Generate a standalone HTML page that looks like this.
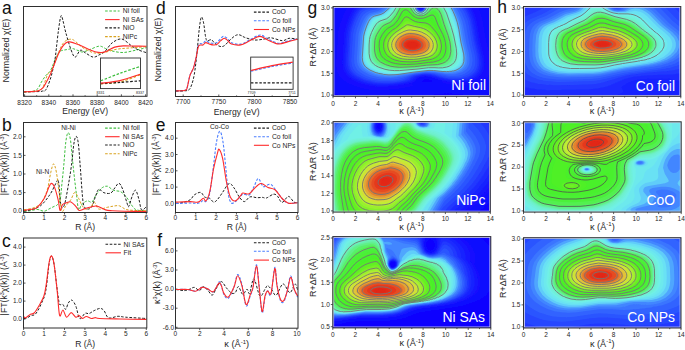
<!DOCTYPE html><html><head><meta charset="utf-8"><title>Figure</title><style>html,body{margin:0;padding:0;background:#fff;}body{width:685px;height:350px;overflow:hidden;font-family:"Liberation Sans",sans-serif;}svg{display:block;}</style></head><body><svg xmlns="http://www.w3.org/2000/svg" width="685" height="350" viewBox="0 0 685 350" font-family='"Liberation Sans", sans-serif'><defs><filter id="hblur" x="-5%" y="-5%" width="110%" height="110%"><feGaussianBlur stdDeviation="0.6"/></filter></defs><rect width="685" height="350" fill="#ffffff"/><clipPath id="clip0"><rect x="333" y="6.5" width="157.3" height="89.8"/></clipPath>
<g clip-path="url(#clip0)">
<g filter="url(#hblur)">
<rect x="331" y="4.5" width="161.3" height="93.8" fill="#0c00ff"/>
<path d="M492 98 331 98 331 4.5 492 4.5 492 98Z" fill="#0e06ff" fill-rule="evenodd"/>
<path d="M404 98 346.9 98 346.5 97.5 341 96.1 340.5 95.6 334 93.1 333.6 92.5 331 91.3 331 4.5 492 4.5 492 93 490.5 93.6 490 93.5 489.5 94 489 93.9 486 94.6 484.5 94.4 484 95 477.5 95 476 95.4 467.5 94.9 466.5 94.5 463 94.5 461.5 94 459 94.1 454.5 93.5 448 93.2 440.5 93.5 427 95.5 404 98ZM421.6 7.5 421.7 6.5 421.3 6 420.5 5.9 420 6.2 420 7.6 421 8 421.6 7.5ZM428.8 82.5 431.5 81.8 432.7 81 430 79.5 426.5 78.9 424 79.2 422.4 80.5 422.2 82.5 422.5 82.6 428.8 82.5Z" fill="#0f0aff" fill-rule="evenodd"/>
<path d="M385 95.5 374 95.9 367 95.6 357 94 351.5 92.5 344.5 90 344 89.4 341.3 88.5 341 88 340.5 88 335.5 84.9 331 80.3 331 22.3 334.4 12.5 338.1 4.5 487.1 4.5 489.8 12 492 21.9 492 85.2 488.5 87.2 487.3 87.5 487 88 485 88.6 478 90.2 475.5 90.1 474 90.6 462.5 90.2 450 88.9 440.5 88.7 385 95.5ZM421.5 8.5 422.4 7.5 422.4 6.5 421.9 5.5 420.5 5 419.2 6 419.1 7.5 420 8.5 421.5 8.5ZM430.3 84 435 82.5 436.8 81 431 78.5 427.5 77.8 424.5 77.8 422.5 78.2 420.1 79.5 417.6 83 419.5 83.7 423 84.2 430.3 84Z" fill="#100dff" fill-rule="evenodd"/>
<path d="M384 90.5 377.5 90.6 369 90 361.5 88.6 355 86.6 348 83.5 344 81 339.7 77 337.3 73 336.1 68.5 335.7 63.5 338 31 340 23 343.1 14.5 345.9 8.5 348.8 4.5 420.1 4.5 418.9 5.5 418.5 7 419.2 8.5 421 9.2 422.3 8.5 423 7 422.6 5.5 421.3 4.5 477.2 4.5 480.3 11 482.5 18 486.5 41 490.2 56 491 61 491.3 67 490.4 72 488 77 486.2 79 483 81.5 480 83.1 476 84.5 474.5 84.5 473 85.2 470.5 85.5 460 85.7 446.5 84.2 442.5 82.8 441.6 82 441.5 81 437.5 80 433 78.2 428 77 423.5 76.9 419.5 78 415.5 82.1 412.7 83.5 412.3 84 413.3 85.5 412.4 86.5 409.5 87.3 399 89 384 90.5Z" fill="#1211ff" fill-rule="evenodd"/>
<path d="M384.5 86.5 375.5 86.2 370.5 85.6 364 84 358.5 82.2 354.5 80.5 349.7 77.5 346.2 74 344 70.1 343.1 67 342.7 62.5 344.6 33 346.2 26 349 18.1 351.5 12.5 354.2 8.5 358 5.5 360.5 4.5 419.1 4.5 418.2 6 418.4 8 419.5 9.2 421 9.6 422.5 8.9 423.3 7.5 423.3 6 422.4 4.5 469.1 4.5 472.8 11 475.5 18 476.9 24 479.9 42 483.2 55 483.9 59 484.2 65 483.5 69 481.9 73 479.5 76 476 78.6 472 80.4 463.5 82.1 462.5 81.8 460 82.2 459 81.9 457.5 82.2 451.5 81.5 451 81.7 445.5 81 438.8 79.5 429.5 76.4 426.5 76.1 423 76.2 418.1 77.5 414 81.1 410.5 82.9 399.5 85.1 384.5 86.5Z" fill="#1519ff" fill-rule="evenodd"/>
<path d="M384.5 85.5 378.5 85.4 371.5 84.6 366.5 83.6 359 81.1 352.5 77.7 349.5 75.3 347.1 72.5 345.5 69.5 344.7 66.5 344.3 61.5 346.3 32.5 347.9 26 350.6 18.5 353.1 13 355.5 9.3 359.5 6.3 365 4.5 418.5 4.5 417.8 6 418 8 419 9.4 420.5 9.9 422.3 9.5 423.5 8 423.7 6 423 4.5 467.3 4.5 471.6 12 474.3 19.5 475.5 24.5 478.3 41.5 482.2 58 482.5 64.5 481.9 68.5 480.5 72 478 75.2 475 77.6 470 79.8 464 81.1 459.5 81.3 452.5 81.1 447 80.3 442.1 79.5 430 75.8 423 75.6 417 77 411.5 81.1 407.5 82.6 396.5 84.6 384.5 85.5Z" fill="#1823ff" fill-rule="evenodd"/>
<path d="M383.5 84.5 376 84.2 369.5 83.2 364 81.7 359.5 79.9 355 77.7 352 75.5 349 72.5 346.9 68.5 346.2 65.5 345.9 60.5 347.3 37.5 348 32 349.7 25.5 352.9 17 355.2 12.5 358 9 362 6.7 370.2 4.5 418 4.5 417.4 6 417.6 8 418.7 9.5 420.5 10.3 422.5 9.7 423.7 8.5 424.1 6.5 423.5 4.5 465.4 4.5 470.6 13.5 473 20.5 476.6 41 480.4 57 480.9 64 480.3 68 478.8 71.5 476 75 472.5 77.4 468 79.2 463.5 80.1 458 80.5 446.5 79.5 430 75.2 422.5 75 416.1 76.5 414.1 77.5 410.2 80.5 404.5 82.4 393 84.1 383.5 84.5Z" fill="#1c2cff" fill-rule="evenodd"/>
<path d="M387 83.6 374.5 83 364.5 80.6 358.5 78 353 74.4 350.3 71.5 348.7 68.5 347.8 65 347.5 59.5 349.3 33.5 350.7 27.5 353.1 20.5 355.8 14.5 358.1 11 361 8.6 363.5 7.5 371 5.6 373.8 4.5 417.5 4.5 417 6.5 417.5 8.5 419 10.1 421 10.6 422.7 10 424 8.5 424.5 6.5 424 4.5 463.5 4.5 468.1 12 471.1 19.5 472.5 25.5 475.1 41 478.6 55.5 479.2 60.5 479 66 477.5 70.5 475.5 73.3 472.5 75.8 467.5 78.2 463 79.2 457.5 79.6 451.5 79.4 445.5 78.6 439 77 435 75.5 430.5 74.6 426.5 74.3 421.5 74.6 414.5 76.3 412 77.6 408.8 80 405.5 81.1 395.5 83 387 83.6Z" fill="#2038ff" fill-rule="evenodd"/>
<path d="M389.5 82.6 381 82.6 375.5 82.1 365 79.5 359 76.8 356 75 352.7 72 350.5 68.5 349.4 64.5 349.1 58.5 350.8 34 352 28.5 354.4 21.5 357 15.7 359.5 11.8 361.5 10 364 8.7 373.5 6.1 376.7 4.5 417.1 4.5 416.7 7 417.4 9 419 10.4 420.5 10.9 422.5 10.4 424.1 9 424.8 6.5 424.4 4.5 461.6 4.5 466.6 12.5 469.5 19.5 471.3 27.5 473.7 41.5 476.6 53.5 477.5 59.5 477.5 64.5 476.7 68 474.9 71.5 472 74.4 468.5 76.4 463.5 78 459.5 78.6 452.5 78.7 448 78.2 444 77.5 433.5 74.4 428.5 73.8 424.5 73.8 418.6 74.5 414.4 75.5 410.8 77 406 79.8 402.5 80.9 396 82 389.5 82.6Z" fill="#2647ff" fill-rule="evenodd"/>
<path d="M392.5 81.1 379.5 81.1 373.5 80.1 368 78.7 363 76.7 357.5 73.5 354.8 71 352.9 68 351.8 65 351.3 60.5 353 34.5 354.1 29.5 356.2 23 358.8 17 361 13.4 362.5 11.9 365 10.2 374.9 7.5 380.2 4.5 416.7 4.5 416.4 6.5 417.1 9 418.5 10.5 420.5 11.2 422.9 10.5 424.4 9 425.1 7 424.8 4.5 459.4 4.5 464.5 13 467.6 20.5 468.9 26 472.3 45.5 474.8 55.5 475.3 62 475 65 473.9 68.5 472.3 71 470 73.3 468 74.6 463 76.6 460 77.2 456.5 77.5 450 77.3 443 76 433.5 73.7 429.5 73.2 424.5 73.3 414.5 74.8 411.5 75.6 402.5 79.4 398.5 80.4 392.5 81.1Z" fill="#2c55ff" fill-rule="evenodd"/>
<path d="M392.5 79.5 382.5 79.6 376.5 78.8 370 77.2 365.5 75.4 360.5 72.6 357.6 70 355.4 66.5 354.4 63 354.1 58 355.7 34.5 356.9 29.5 359.4 22.5 361.6 17.5 363.5 14.7 367 11.9 370.5 10.6 376.5 9.2 379.9 7.5 384.2 4.5 416.3 4.5 416.1 7 416.8 9 418.5 10.8 420.5 11.4 422.6 11 424.5 9.3 425.4 7 425.2 4.5 456.6 4.5 462.1 14 464.9 21 466.1 25.5 469 43 472 55.1 472.5 60 472.1 64.5 470.8 68 469 70.5 465 73.6 461.5 74.9 457 75.8 449.5 75.9 433.5 73 425.5 72.7 415 74.1 408.5 75.7 402 78 397 79.1 392.5 79.5Z" fill="#3264ff" fill-rule="evenodd"/>
<path d="M391 78 380 77.5 373.5 76.1 369.5 74.7 362.6 71 359.5 68 357.9 65 357.1 62 356.9 58 358.5 34.5 359.8 29.5 362 23.3 364 18.9 366 15.9 368 14.2 370 13.1 378 11 380.2 10 387.6 4.5 415.9 4.5 415.9 7.5 416.8 9.5 418.5 11.1 420.5 11.7 423 11.1 424.7 9.5 425.7 7 425.5 4.5 454.2 4.5 459 13 462.3 21.5 463.9 28.5 466.4 43.5 469 53.7 469.6 59.5 469.4 63 468.5 66 466.5 69.1 462.5 72.1 455.5 74.3 451 74.6 446.5 74.3 435.5 72.5 426.5 72.1 416 73.3 401 76.8 391 78Z" fill="#3a75ff" fill-rule="evenodd"/>
<path d="M396 76.5 390 76.9 385 76.7 378 75.7 374 74.7 371 73.6 365.5 70.9 362.1 68 360.2 65 359.2 62 358.9 58 360.3 36 361.4 31 363.3 25.5 365.4 20.5 367.5 17.2 369.5 15.3 372 14.1 379.5 12.1 381.7 11 387.8 6.5 389.9 4.5 415.6 4.5 415.6 7.5 416.5 9.6 418.5 11.4 421 11.9 423.5 11.1 425 9.5 425.9 7.5 425.9 4.5 452.1 4.5 458.2 16 460.3 21.5 461.6 26.5 463.8 40 466.8 53 467.5 58 467.1 63.5 466.1 66 464.7 68 461.5 70.8 459.5 71.7 452.5 73.4 446.5 73.4 433.5 71.7 426 71.6 414.5 72.9 396 76.5Z" fill="#4286ff" fill-rule="evenodd"/>
<path d="M395.5 75.5 385.5 75.6 376 73.9 370 71.6 367 69.8 364 67.4 361.8 64 361 61 360.7 57.5 362.2 36 363.3 31 365.2 25.5 367.2 21 369 18.2 371 16.3 372.5 15.5 380.5 13.3 383 12 387.4 8.5 391.5 4.5 415.2 4.5 415.3 7 416.2 9.5 418 11.4 420.5 12.2 423 11.6 425 10 426.2 7.5 426.3 4.5 450.3 4.5 453 8.8 456 15 458.4 21 459.7 26 462.3 41.5 464.6 51 465.5 56.5 465.3 62 464.8 64 463.5 66.5 462 68.2 459 70.2 455 71.8 452 72.2 446.5 72.5 433.5 71 426 70.9 413.1 72.5 395.5 75.5Z" fill="#50a6fe" fill-rule="evenodd"/>
<path d="M395 74.6 389 74.7 384 74.3 376 72.5 371.5 70.7 368 68.6 366 66.9 363.8 64 362.8 61 362.4 57.5 363.8 36.5 366.3 27.5 368.4 22.5 370.2 19.5 371.6 18 374.5 16.3 381.2 14.5 384.1 13 389.5 8.2 392.7 4.5 414.9 4.5 415.1 7.5 416.2 10 418 11.7 420.5 12.4 423 11.9 425.3 10 426.5 7.5 426.6 4.5 448.9 4.5 451.5 8.6 454.5 15 456.5 20.6 458.2 27 460.5 41 463.7 55.5 463.6 61 463.2 63 462 65.5 460 67.7 457 69.6 453.5 70.8 449 71.6 443 71.5 433.5 70.4 427.5 70.4 395 74.6Z" fill="#61cdf9" fill-rule="evenodd"/>
<path d="M395 74 389 74 384 73.6 376 71.6 369 68 366 65.1 364.7 63 363.8 60 363.5 55.5 364.8 36.5 365.7 32.5 367.5 27.4 369.7 22.5 371.5 19.8 374.5 17.4 382.5 15 385.1 13.5 389.8 9.5 393.7 4.5 414.5 4.5 414.9 8 416 10.2 418 12 420.5 12.7 423 12.2 425.2 10.5 426.8 7.5 427 4.5 447.6 4.5 450 8.3 452.2 13 455.7 22 457.7 29.5 459.9 42.5 462.2 52.5 462.7 57.5 462 62.5 460 65.9 458 67.7 455 69.4 449 70.9 443.5 71 435 70.1 427.5 70 395 74Z" fill="#69e1f4" fill-rule="evenodd"/>
<path d="M400 73.1 389 73.4 383.5 72.7 378.5 71.4 374 69.7 370.9 68 367.5 65.2 366.3 63.5 365.1 60.5 364.6 57 365.4 38.5 366.2 34.5 367.5 30.3 371.5 21.8 373 19.9 376 17.8 383 15.9 386.5 13.7 391.6 9 394.5 4.5 414.1 4.5 414.6 8 416 10.6 418.5 12.5 421 12.9 423.5 12.2 425.5 10.5 426.9 8 427.4 4.5 446.3 4.5 449.1 9 451.6 14.5 454.5 22 456.4 28.5 461.5 55 461.4 60 459.9 64 458 66.2 455 68.3 452.5 69.4 449 70.1 444 70.5 433 69.6 427.5 69.6 400 73.1Z" fill="#6de9ed" fill-rule="evenodd"/>
<path d="M399.5 72.5 389 72.7 383 71.8 378 70.4 374 68.6 371 66.8 368.5 64.5 366.9 62 365.9 58.5 365.6 55 366.4 38 368.5 30.5 372.5 22.3 374 20.5 376 19 383.8 16.5 386.5 14.9 392.5 9.1 395.4 4.5 413.7 4.5 414.3 8 415.6 10.5 417.9 12.5 420.5 13.2 423 12.7 425.5 10.9 427.2 8 427.8 4.5 445 4.5 447.4 8 450.1 13.5 453.8 23 455.8 30 460.4 53.5 460.5 57 460.1 60 458.5 63.9 457.5 65.2 454 67.8 451 68.9 447.5 69.6 444.5 69.9 428 69.3 399.5 72.5Z" fill="#70f0e6" fill-rule="evenodd"/>
<path d="M399.5 72 389 72 381 70.5 373.5 67.2 370.5 65 368.2 62 367 58.5 366.6 54 367.3 38.5 369.2 31.5 373.5 22.9 376.5 19.9 378.5 18.9 384.9 17 387.2 15.5 392.6 10 396.1 4.5 413.3 4.5 414 8 415.5 10.8 417.5 12.6 420.5 13.4 423.5 12.8 425.8 11 427.5 8 428.3 4.5 443.8 4.5 446.7 8.5 448.9 13 453.2 24.5 455.2 31.5 459.3 52.5 459.2 58.5 458.6 61 457.5 63.1 455.5 65.5 454 66.5 451 67.9 447.5 68.9 444.5 69.2 428 68.8 399.5 72Z" fill="#6ff0dc" fill-rule="evenodd"/>
<path d="M398 71.5 389 71.3 380.5 69.4 377 68 373 65.7 371.5 64.5 369.2 61.5 368.1 58.5 367.6 55 368.1 39 369.8 32.5 374.1 24 375.5 22.2 377.5 20.5 385.5 17.7 388 16 393 10.7 396.9 4.5 412.9 4.5 413.7 8 415.3 11 417.5 12.9 420.5 13.7 423.5 13 426 11.1 427.9 8 428.7 4.5 442.6 4.5 445.4 8 448 13 452.3 25 454.4 32.5 457.8 49 458.4 54 457.9 59 456.2 63 454.5 64.8 451.5 66.8 445.5 68.5 428 68.4 398 71.5Z" fill="#6ff0d3" fill-rule="evenodd"/>
<path d="M396.5 71 387 70.3 379 67.9 376 66.5 372.5 63.9 369.8 60 368.7 56 368.5 52 369 39 371 32.2 375.1 24.5 378 21.5 380.5 20.1 386 18.4 388.5 16.7 393.5 11.1 397.6 4.5 412.5 4.5 413.6 8.5 415.4 11.5 418 13.4 420.5 13.9 423.5 13.3 426 11.5 428.2 8 429.3 4.5 441.4 4.5 444.4 8 447 13 451.8 26.5 454 34.5 456.5 47 457.3 53 456.8 58.5 455 62.6 452 65.4 448.5 67 446 67.7 441 68.1 428 68 417.5 69.3 396.5 71Z" fill="#6ef0c9" fill-rule="evenodd"/>
<path d="M405 70 396.5 70.5 387.5 69.7 382.5 68.3 378 66.5 374.8 64.5 371.8 61.5 370.5 58.9 369.6 55 369.6 42.5 370.8 35.5 373.9 28.5 376.4 24.5 378.9 22 386.8 19 389.5 16.9 394 11.6 398.3 4.5 412.1 4.5 413.3 8.5 415.1 11.5 417.5 13.5 420.5 14.2 423.5 13.6 426.4 11.5 428.1 9 429.9 4.5 440.2 4.5 443.5 8 445.9 12.5 450.7 26.5 453.2 35 455.3 45 456.3 52 456 57.5 454.5 61.3 453.2 63 451 64.9 447 66.6 443.5 67.4 428.5 67.6 405 70Z" fill="#6bf0bb" fill-rule="evenodd"/>
<path d="M405 69.6 394 69.9 388 69.1 380 66.6 376.3 64.5 373 61.5 371.6 59 370.6 55.5 370.2 45 371.1 37.5 374.1 30 376.8 25.5 379 23.1 381 21.9 387.4 19.5 390 17.5 394.1 12.5 398.9 4.5 411.6 4.5 413.2 9 415 11.8 417.5 13.8 420.5 14.5 423.5 13.9 426.3 12 428.5 9 430.6 4.5 438.9 4.5 442.1 7.5 444.8 12 452.3 34.5 454.6 45 455.4 51.5 455.2 56 454 60.1 452 62.9 450 64.5 445 66.5 437.5 67.3 426.5 67.3 417.5 68.6 405 69.6Z" fill="#68f0ac" fill-rule="evenodd"/>
<path d="M406.5 69 395 69.4 386.2 68 378.5 64.9 374.2 61.5 372.7 59 371.8 56.5 371 49 371.6 39 373.8 32.5 377.5 26.1 379.9 23.5 382.5 22 388 20 391.5 17 394.5 13.1 399.6 4.5 411 4.5 412.8 9 414.8 12 417.5 14.1 420.5 14.7 423.5 14.2 426.5 12.2 428.3 10 431.5 4.5 437.3 4.5 441 7.4 443.9 12 451.3 34 453.1 41.5 454.4 49.5 454.3 55.5 453.1 59.5 451 62.5 449 64.1 446 65.5 442.5 66.3 437 66.8 427 66.9 418.5 68.1 406.5 69Z" fill="#65f09d" fill-rule="evenodd"/>
<path d="M407.5 68.5 397.5 68.9 389.5 68.1 382.5 66 375.9 62 373.2 58 372.4 55 371.9 51.5 372.1 41 372.9 37 374 34 377 28.5 380.2 24.5 382.5 23 388.5 20.6 391.5 18 394.6 14 398.9 6.5 400.4 4.5 410.4 4.5 413 10 415 12.7 417.5 14.4 420.5 15 423.4 14.5 426 13 428.3 10.5 431 6.2 432.5 4.8 434.5 4.5 437 5.3 440.5 8 443 12 450.6 34.5 452.1 40.5 453.6 49 453.5 54.5 452.3 59 449.5 62.6 447.5 64 443.5 65.5 438 66.2 427 66.5 417.5 67.8 407.5 68.5Z" fill="#60f087" fill-rule="evenodd"/>
<path d="M409.5 67.5 400 67.9 390.5 67 383 64.6 380 62.9 377.6 61 375.9 59 375 57.3 374 54 373.5 50.5 373.7 41 374.3 38 375.6 34.5 378.1 30 381.8 25.5 383.9 24 389.5 21.7 392 19.5 395.8 14.5 400 6.8 402.2 4.5 408.8 4.5 414.5 13 417 14.8 420 15.5 423 15.2 426 13.7 432.5 6.8 434.5 6.4 436.5 6.9 439.5 9.4 441.7 13 449.8 37.5 451.3 44 451.9 50 451.6 54.5 450.5 58 449.3 60 447.5 61.8 445 63.3 442 64.5 437 65.3 428.5 65.5 418 66.9 409.5 67.5Z" fill="#59f069" fill-rule="evenodd"/>
<path d="M412.5 66.5 399 66.9 391.5 66 384.1 63.5 380 60.9 378.1 59 376.9 57 375.9 54.5 375.2 51 375.1 42.5 376.5 36.5 379.4 31 382.6 27 384.5 25.5 390.5 22.7 392.5 20.9 396.5 15.5 400.5 8 403.5 5.3 406 4.8 408 5.5 409.5 7 412.8 12 414.5 13.9 417 15.5 419.5 16.1 422 16 425 15.1 427.4 13.5 432.5 8.7 434 8.3 435.5 8.5 438 10.3 440 13.5 443.3 24 448.7 39 449.9 45 450.3 49 450.1 53 449.2 56.5 447 60 444.4 62 441 63.5 435 64.5 426.5 64.9 412.5 66.5Z" fill="#52f050" fill-rule="evenodd"/>
<path d="M407 66 397.5 65.9 392.5 65.1 385 62.5 382 60.7 380.2 59 378.6 57 377.4 54 376.3 47 376.8 40.5 379 34.5 383.7 28 385.5 26.5 391.5 23.5 393.8 21.5 396.9 17 401 9.3 402.5 7.6 404 6.6 406 6.4 407.7 7 414.1 14.5 416.5 16 419 16.7 422 16.7 424.5 16.1 427 14.8 432.5 10.6 434 10.4 435.5 10.8 437.3 12.5 438.8 15 441.7 25 445.6 34 447.5 39.5 448.6 45 448.8 49.5 448.5 53 447.3 56.5 446.1 58.5 444 60.5 441.5 62 438 63.1 416.5 65.5 407 66Z" fill="#4cf03b" fill-rule="evenodd"/>
<path d="M413 65 399 65.1 393.5 64.2 387.5 62.3 383.5 60 381 57.7 379.2 54.5 378 49.5 377.7 45 378.2 40.5 379.6 36.5 381.3 33.5 383.9 30 386.4 27.5 391.5 25 393.5 23.5 397.1 19 401.6 10.5 403 9 405 8 407.5 8.6 413.5 15 416 16.6 418.5 17.4 421.5 17.5 424.5 16.9 432.5 12.6 434 12.6 435.4 13.5 437.1 16 439.9 25 444.9 36 446.2 40 447.2 45 447.4 50 446.6 54 445.2 57 442 60.2 439.5 61.5 435 62.7 413 65Z" fill="#4bf035" fill-rule="evenodd"/>
<path d="M416.5 64 401 64.3 392 62.7 386.5 60.4 383.8 58.5 381.3 55.5 379.7 51 379.1 46.5 379.3 42 380.2 38.5 382.3 34.5 385 30.9 387.4 28.5 393 25.4 395 23.6 398.2 19.5 402 12.1 403.5 10.5 405 9.8 406.5 9.9 407.8 10.5 413 15.7 415.5 17.3 417.5 18.1 420 18.4 423 18.2 432 15 434 15.7 435.2 17.5 438 25 442.8 34.5 445.4 42.5 446 48 445.5 52 444 55.9 441.5 58.8 438.7 60.5 433.5 62 416.5 64Z" fill="#49f02f" fill-rule="evenodd"/>
<path d="M413.5 63.5 405 63.7 400 63.4 395 62.5 389.5 60.6 386 58.6 383.4 56 381.8 53 380.6 48.5 380.4 44.5 380.9 41 381.9 38 383.9 34.5 388 29.7 393.5 26.4 395.5 24.7 399.3 20 402.7 13.5 404 12.2 405.5 11.6 407.5 12.1 413.5 17.3 417.5 19.1 420 19.4 423 19.3 429.5 17.8 431.5 18 432.5 18.6 433.6 20 442 36 443.6 40.5 444.4 44 444.6 49 443.7 53 442 56.2 439 59 437 60 433 61.2 413.5 63.5Z" fill="#48f029" fill-rule="evenodd"/>
<path d="M417 62.5 403.5 62.8 399.5 62.4 393 60.8 389 59 386 56.8 383.5 53.5 382.3 50 381.8 46 381.9 42.5 382.9 39 384.5 36 389.1 30.5 394.5 27.1 396.4 25.5 399.7 21.5 403.5 15 405.5 13.7 407.5 14.1 413 18.3 416 19.9 420.5 20.6 428.5 20.2 430.6 21 432.4 23 439 33.2 441.2 37.5 442.7 42 443.3 46.5 442.9 50.5 441.7 54 439.4 57 436.3 59 432 60.4 417 62.5Z" fill="#50f027" fill-rule="evenodd"/>
<path d="M414 62 406.5 62.1 400.5 61.6 397 61 392.5 59.5 389.5 57.9 386.5 55.5 384.6 52.5 383.4 48.5 383.1 45 383.4 42 384.1 39.5 385.7 36.5 390.4 31 397 26.5 400.5 22.5 404 17.2 406 16.1 408 16.5 413.1 20 416 21.3 419.5 21.9 426.5 22.4 429.2 23.5 433.5 28 438.2 34.5 440.6 39.5 441.7 43.5 441.8 48.5 440.8 52.5 438.5 56 435.8 58 432.5 59.3 429.5 60 414 62Z" fill="#5af025" fill-rule="evenodd"/>
<path d="M417.5 61 406 61.3 401.5 60.9 395.5 59.5 392 58 388.4 55.5 386.1 52.5 384.9 49.5 384.4 46 384.6 42.5 385.3 40 387 36.7 391.7 31.5 396 28.8 398.1 27 401.5 23.5 404.4 19.5 406 18.5 408 18.7 415 22.5 425 24.2 428.5 25.9 431.5 28.4 436 33.7 438 36.8 440 41.5 440.6 45.5 440.3 49.5 439 53 437 55.6 434.2 57.5 431.5 58.6 417.5 61Z" fill="#64f024" fill-rule="evenodd"/>
<path d="M415 60.5 404 60.4 400.5 59.9 395.5 58.5 392.3 57 389.5 55 387 51.5 385.9 48 385.6 45 386 42 387.1 39 389 36 392 32.7 398.2 28.5 405 21.8 406.5 21 408.5 21.2 415 24.1 424 25.9 427.5 27.5 431.5 30.6 435.4 35 437.8 39 439 42.5 439.4 46.5 438.8 50 437.5 52.9 435.5 55.3 433 57 429.5 58.3 415 60.5Z" fill="#73f025" fill-rule="evenodd"/>
<path d="M418 59.5 407 59.9 402.5 59.4 397.5 58.2 394 56.7 391.3 55 389.1 52.5 387.6 49.5 386.9 46.5 387 43 388.2 39.5 389.8 37 393.5 32.9 397.5 30.3 406.5 23.5 408.5 23.4 414 25.3 422.5 27.1 427 29.1 430.5 31.6 433.8 35 436.2 38.5 437.4 41.5 438.1 45 437.9 48.5 436.5 52 434.5 54.6 431 56.8 428.5 57.6 418 59.5Z" fill="#86f029" fill-rule="evenodd"/>
<path d="M416 59.1 405.5 59 400.5 58.2 397 57 393.5 55.2 390.9 53 389.3 50.5 388.6 48.5 388.1 45.5 388.4 42.5 389.5 39.5 391.1 37 395 33 407 25.5 409.5 25.6 421 28.2 427 30.8 430.1 33 432.7 35.5 435.1 39 436.5 42.5 436.9 46 436.4 49 435 52.1 432.8 54.5 430.5 56 428 56.9 416 59.1Z" fill="#99f02e" fill-rule="evenodd"/>
<path d="M414 58.5 404.5 58.2 400 57.2 397 56 393.6 54 391.6 52 390.2 49.5 389.4 47 389.3 44 389.9 41.5 391.4 38.5 393.4 36 396.9 33 403 29.3 407.5 27.2 410 27.3 419.5 29.1 422.5 30 426 31.7 430 34.5 432.4 37 434.3 40 435.4 43 435.7 46 435.2 49 433.7 52 431.7 54 429 55.6 426.5 56.5 419 58 414 58.5Z" fill="#aeee31" fill-rule="evenodd"/>
<path d="M417.5 57.5 411 57.9 404.5 57.4 398 55.5 394 53 391.5 49.5 390.8 47.5 390.4 45 391.3 41 393.9 37 397.1 34 402.5 30.9 408.5 28.7 416 29.6 421 30.7 425.1 32.5 429 35.1 432 38.3 434 42 434.5 46 433.5 50 431.3 53 429 54.6 425 56.1 417.5 57.5Z" fill="#c3ec35" fill-rule="evenodd"/>
<path d="M416 57 409.5 57.1 403.5 56.4 398 54.5 394.1 51.5 392 47.5 391.8 43.5 393 40 396.5 35.8 398.1 34.5 404 31.4 408 30.1 410.5 30 417.5 30.9 421.5 32.1 426.3 34.5 429.9 37.5 432.1 40.5 433.3 44.5 433 48 431.5 51 429.6 53 427 54.5 424 55.5 416 57Z" fill="#d3de37" fill-rule="evenodd"/>
<path d="M416.5 56 409.5 56.3 403.5 55.4 398.7 53.5 395.5 51 393.5 47.5 393.3 43.5 394.9 39.5 398 36 404.5 32.3 408.5 31.2 411.5 31.2 417 32 421.6 33.5 426.5 36.2 429.4 39 431.2 42 431.8 45 431.4 48 430.1 50.5 428 52.5 425.3 54 422 55 416.5 56Z" fill="#e0c438" fill-rule="evenodd"/>
<path d="M417 55.1 411 55.4 406 54.9 401 53.4 397.5 51.1 395.6 48.5 394.7 45 395.3 42 397.4 38.5 400.2 36 404 33.9 407.5 32.8 410 32.5 415.5 33.1 419 34 423.5 35.9 426.5 38 428.7 40.5 430 43.5 430.1 46.5 429.2 49 427.5 51.2 425.5 52.6 422 54 417 55.1Z" fill="#e3a434" fill-rule="evenodd"/>
<path d="M416.5 54 411.5 54.4 406.5 53.8 402.5 52.6 399.5 50.8 397.2 48 396.5 45.5 396.8 42.5 398.4 39.5 400 37.8 402.7 36 406 34.7 410 33.9 414.5 34.3 417.9 35 421.6 36.5 424.8 38.5 427.1 41 428.1 43 428.4 45.5 427.8 48 426 50.4 423.7 52 421 53 416.5 54Z" fill="#e4822f" fill-rule="evenodd"/>
<path d="M417 52.5 413 53 408.5 52.7 405.5 52 401.6 50 399.7 48 398.8 45.5 399 43 400 40.9 402 38.6 403.5 37.5 406.5 36.2 409.5 35.6 413 35.8 416.5 36.5 419.5 37.6 422.5 39.2 424.4 41 425.6 43 426 45 425.7 47 424.5 49 422.5 50.6 417 52.5Z" fill="#e66429" fill-rule="evenodd"/>
<path d="M414 51.5 410.4 51.5 407 50.8 404 49.5 402.8 48.5 401.4 46.5 401 44.5 401.5 42.5 403 40.5 406.5 38.3 411.5 37.5 417.1 38.5 421.6 41 422.9 42.5 423.6 44 423.6 46 422.9 47.5 421.6 49 420 50 417.5 50.9 414 51.5Z" fill="#e64b23" fill-rule="evenodd"/>
<path d="M415.5 50.1 410 50.2 407.5 49.6 405.5 48.5 404.3 47.5 403.4 46 403.3 44 404 42.5 407 40.1 411 39.2 415.5 39.6 419 41.1 421.3 43.5 421.6 45 421.3 46.5 419 48.8 415.5 50.1Z" fill="#e5371c" fill-rule="evenodd"/>
<path d="M413.5 49.5 409 49.1 405.9 47.5 405.1 46.5 404.6 45 405.5 42.6 408 40.9 412 40.2 416 40.8 419 42.5 420.2 44.5 420.2 45.5 419.5 47 417.5 48.5 413.5 49.5Z" fill="#e42f1a" fill-rule="evenodd"/>
<path d="M414.5 48.6 411 48.7 407.7 47.5 406.1 45.5 406.4 43.5 408.1 42 411 41.1 414 41.2 417 42.3 418.6 44 418.6 46 417.2 47.5 414.5 48.6Z" fill="#e42918" fill-rule="evenodd"/>
<path d="M415 47.5 412.5 47.8 409.8 47.5 407.8 46 407.4 45 407.6 44 409.4 42.5 411.3 42 413.3 42 415.3 42.5 417 43.8 417.4 45 416.7 46.5 415 47.5Z" fill="#e22515" fill-rule="evenodd"/>
</g>
<path d="M449.1 4.5 451 7.5 453.1 11.5 455.5 17.1 457.3 22.5 458.9 29.5 461 42.7 463.7 54 464 58 463.8 61.5 462.8 64.5 461 67 459 68.6 456 70.2 453.5 71 452.5 71 452 71.3 449.5 71.4 449 71.7 447 71.5 446.5 71.7 444 71.4 443 71.6 433.5 70.5 429 70.4 413 72.2 399.5 74.3 395 74.7 389 74.9 383.5 74.4 382.5 74 378.5 73.4 378 73.1 376 72.7 370 70.1 366 67.2 365 66.1 363.6 64 362.6 61 362.3 57.5 363.7 36 364.8 31.5 366.7 26 368.7 21.5 370.3 19 372.6 17 374.5 16.1 381 14.4 384 12.8 389.5 8 392.5 4.5M414.9 4.5 415.1 7.5 416.2 10 418 11.7 419 12.1 420.5 12.4 421.5 12.4 423 11.9 424.3 11 425.3 10 426.4 7.5 426.6 4.5" fill="none" stroke="#747474" stroke-width="0.9" stroke-linejoin="round"/>
<path d="M440.7 4.5 442.5 6.3 443.8 8 446.5 13 451.4 27.5 453.8 36 456.3 48.5 456.7 54 456.1 58.5 455.4 60.5 454 62.7 452.5 64.2 449 66.3 446.5 67.1 442.5 67.8 438.5 67.9 435 67.7 428.5 67.7 417 69.1 399.5 70.6 394.5 70.6 389.5 70.2 385 69.3 378.5 67.1 375.5 65.5 373.5 64 371.3 61.5 369.8 58 369.1 53.5 369.1 45 369.5 39.5 370.1 36.5 371.5 32.5 374 27.5 376.3 24 377.7 22.5 380 21 386.5 18.8 389.5 16.5 393.5 11.8 398 4.5M412.2 4.5 413.4 8.5 415.2 11.5 417.5 13.3 419 13.9 420.5 14.1 422 14 423.5 13.5 425 12.6 426.3 11.5 428.2 8.5 429.6 4.5" fill="none" stroke="#747474" stroke-width="0.9" stroke-linejoin="round"/>
<path d="M407 4.5 408.5 5.4 409.5 6.4 412.7 11.5 414.4 13.5 416 14.7 418.5 15.7 421.5 15.9 423.5 15.5 425 14.9 428 12.7 432 8.4 433.5 7.7 435 7.7 436.5 8.3 438 9.5 439.3 11 441.1 14.5 444.1 24.5 448.1 35.5 449.8 41.5 450.5 46 450.8 51.5 449.9 56 449.3 57.5 448.1 59.5 445.5 61.8 442.5 63.3 437.5 64.6 426.5 65.2 414.5 66.7 399.5 67.3 395 66.9 391 66.3 385.4 64.5 380.5 62 378.2 60 377.4 59 376.2 57 375.2 54 374.7 51 374.5 47 374.9 40.5 375.6 37.5 376.8 34.5 379.9 29.5 381.5 27.4 382.9 26 386 24.2 390 22.5 392.3 20.5 396.1 15.5 400.4 7.5 402.3 5.5 404.2 4.5" fill="none" stroke="#747474" stroke-width="0.9" stroke-linejoin="round"/>
<path d="M416.5 64 406.5 64.5 401 64.3 395.5 63.6 392 62.7 386.5 60.4 383.8 58.5 382.4 57 381.3 55.5 380.4 53.5 379.7 51 379.1 46.5 379.3 42 380.2 38.5 382.3 34.5 385 30.9 387.4 28.5 393 25.4 395 23.6 398.2 19.5 402 12.1 403.5 10.5 405 9.8 406.5 9.9 407.8 10.5 413 15.7 415.5 17.3 417.5 18.1 420 18.4 423 18.2 425 17.7 431 15.2 432 15 433 15.1 434 15.7 435.2 17.5 438 25 442.8 34.5 444.4 38.5 445.4 42.5 446 48 445.5 52 444.9 54 444 55.9 443 57.3 441.5 58.8 438.7 60.5 433.5 62 428.5 62.4 416.5 64" fill="none" stroke="#747474" stroke-width="0.9" stroke-linejoin="round"/>
<path d="M417 61.5 411 61.9 404 61.7 399.5 61.2 394.5 59.9 392.5 59.1 390.6 58 387.2 55.5 385.7 53.5 384 49.5 383.6 46.5 383.7 43 384.4 40 386 36.8 387.7 34.5 390.5 31.5 392.5 29.9 395.5 28.2 398 26 401.1 22.5 404 18.1 405 17.2 406 16.9 407 16.9 408 17.2 412.1 20 415.5 21.6 418.5 22.3 426 23 429 24.4 431.5 26.7 436 32 439 36.9 440.1 39.5 440.9 42 441.5 46 441.1 50 439.8 53.5 438.3 55.5 437.5 56.3 435.5 57.6 432.5 59 429.5 59.7 417 61.5" fill="none" stroke="#747474" stroke-width="0.9" stroke-linejoin="round"/>
<path d="M418 59 413.5 59.4 407.5 59.4 402.5 58.9 398.5 57.9 394.5 56.2 391.9 54.5 389.7 52 388.3 49 387.7 46 388 42.5 389.1 39.5 390.7 37 394.5 33 406.5 25 407.5 24.8 409 24.9 414.5 26.4 420.5 27.6 423.5 28.5 426.5 29.9 429.5 32 433.2 35.5 435 38 436.4 41 437.3 45 437.1 48 435.9 51.5 433.9 54 432 55.5 428.5 57 418 59" fill="none" stroke="#747474" stroke-width="0.9" stroke-linejoin="round"/>
<path d="M416 57 409.5 57.1 403.5 56.4 401.5 55.9 398 54.5 396.3 53.5 394.1 51.5 393 50 392 47.5 391.7 45.5 391.8 43.5 392 42.3 393 40 394.4 38 396.5 35.8 398.1 34.5 404 31.4 408 30.1 410.5 30 417.5 30.9 421.5 32.1 426.3 34.5 428.5 36.1 429.9 37.5 432.1 40.5 432.9 42.5 433.3 44.5 433 48 431.5 51 429.6 53 427 54.5 424 55.5 416 57" fill="none" stroke="#747474" stroke-width="0.9" stroke-linejoin="round"/>
<path d="M416.5 54.5 411.5 54.8 407 54.4 402.1 53 398.8 51 397 49 396 46.8 395.8 45.5 395.9 43.5 396.3 42 398 39.2 399.6 37.5 402.5 35.7 406 34.2 409.5 33.5 414 33.8 418 34.6 421.8 36 425.1 38 427.5 40.4 428.5 42.1 429 43.5 429 46.5 428.1 49 426.3 51 423.9 52.5 421.1 53.5 416.5 54.5" fill="none" stroke="#747474" stroke-width="0.9" stroke-linejoin="round"/>
<path d="M414.5 50.5 412 50.7 408.5 50.3 406 49.3 404.5 48.3 403.3 47 402.7 45.5 402.8 43.5 403.5 42 405 40.5 406.5 39.7 408.5 39 411 38.7 413.5 38.8 415.5 39.2 418 40.1 420 41.3 421 42.2 421.8 43.5 422.1 45 421.8 46.5 420.8 48 419 49.3 416.5 50.2 414.5 50.5" fill="none" stroke="#747474" stroke-width="0.9" stroke-linejoin="round"/>
</g>
<rect x="333.9" y="7.4" width="155.5" height="88" fill="none" stroke="#dcdcf4" stroke-width="0.8"/>
<rect x="333" y="6.5" width="157.3" height="89.8" fill="none" stroke="#333333" stroke-width="1"/>
<line x1="331" y1="7.9" x2="333" y2="7.9" stroke="#333333" stroke-width="0.8"/>
<text x="330" y="10.2" font-size="6.5" text-anchor="end" fill="#262626">3.0</text>
<line x1="331" y1="29.7" x2="333" y2="29.7" stroke="#333333" stroke-width="0.8"/>
<text x="330" y="32" font-size="6.5" text-anchor="end" fill="#262626">2.5</text>
<line x1="331" y1="51.5" x2="333" y2="51.5" stroke="#333333" stroke-width="0.8"/>
<text x="330" y="53.8" font-size="6.5" text-anchor="end" fill="#262626">2.0</text>
<line x1="331" y1="73.3" x2="333" y2="73.3" stroke="#333333" stroke-width="0.8"/>
<text x="330" y="75.6" font-size="6.5" text-anchor="end" fill="#262626">1.5</text>
<line x1="331" y1="95.1" x2="333" y2="95.1" stroke="#333333" stroke-width="0.8"/>
<text x="330" y="97.4" font-size="6.5" text-anchor="end" fill="#262626">1.0</text>
<line x1="333" y1="96.3" x2="333" y2="98.3" stroke="#333333" stroke-width="0.8"/>
<text x="333" y="105.6" font-size="6.5" text-anchor="middle" fill="#262626">0</text>
<line x1="344.24" y1="96.3" x2="344.24" y2="97.5" stroke="#333333" stroke-width="0.8"/>
<line x1="355.47" y1="96.3" x2="355.47" y2="98.3" stroke="#333333" stroke-width="0.8"/>
<text x="355.47" y="105.6" font-size="6.5" text-anchor="middle" fill="#262626">2</text>
<line x1="366.71" y1="96.3" x2="366.71" y2="97.5" stroke="#333333" stroke-width="0.8"/>
<line x1="377.94" y1="96.3" x2="377.94" y2="98.3" stroke="#333333" stroke-width="0.8"/>
<text x="377.94" y="105.6" font-size="6.5" text-anchor="middle" fill="#262626">4</text>
<line x1="389.18" y1="96.3" x2="389.18" y2="97.5" stroke="#333333" stroke-width="0.8"/>
<line x1="400.41" y1="96.3" x2="400.41" y2="98.3" stroke="#333333" stroke-width="0.8"/>
<text x="400.41" y="105.6" font-size="6.5" text-anchor="middle" fill="#262626">6</text>
<line x1="411.65" y1="96.3" x2="411.65" y2="97.5" stroke="#333333" stroke-width="0.8"/>
<line x1="422.89" y1="96.3" x2="422.89" y2="98.3" stroke="#333333" stroke-width="0.8"/>
<text x="422.89" y="105.6" font-size="6.5" text-anchor="middle" fill="#262626">8</text>
<line x1="434.12" y1="96.3" x2="434.12" y2="97.5" stroke="#333333" stroke-width="0.8"/>
<line x1="445.36" y1="96.3" x2="445.36" y2="98.3" stroke="#333333" stroke-width="0.8"/>
<text x="445.36" y="105.6" font-size="6.5" text-anchor="middle" fill="#262626">10</text>
<line x1="456.59" y1="96.3" x2="456.59" y2="97.5" stroke="#333333" stroke-width="0.8"/>
<line x1="467.83" y1="96.3" x2="467.83" y2="98.3" stroke="#333333" stroke-width="0.8"/>
<text x="467.83" y="105.6" font-size="6.5" text-anchor="middle" fill="#262626">12</text>
<line x1="479.06" y1="96.3" x2="479.06" y2="97.5" stroke="#333333" stroke-width="0.8"/>
<line x1="490.3" y1="96.3" x2="490.3" y2="98.3" stroke="#333333" stroke-width="0.8"/>
<text x="490.3" y="105.6" font-size="6.5" text-anchor="middle" fill="#262626">14</text>
<text x="411.65" y="114" font-size="9.2" text-anchor="middle" fill="#262626">&#954; (&#197;<tspan font-size="6" dy="-3.2">-1</tspan><tspan dy="3.2">)</tspan></text>
<text x="315.6" y="47.2" font-size="9" text-anchor="middle" fill="#262626" transform="rotate(-90 315.6 47.2)">R+&#916;R (&#197;)</text>
<text x="486" y="90" font-size="13.9" text-anchor="end" fill="#ffffff">Ni foil</text>
<clipPath id="clip1"><rect x="523.5" y="6.5" width="157.3" height="89.8"/></clipPath>
<g clip-path="url(#clip1)">
<g filter="url(#hblur)">
<rect x="521.5" y="4.5" width="161.3" height="93.8" fill="#0c00ff"/>
<path d="M682.5 98 521.5 98 521.5 4.5 682.5 4.5 682.5 98Z" fill="#0e06ff" fill-rule="evenodd"/>
<path d="M682.5 98 521.5 98 521.5 4.5 682.5 4.5 682.5 98Z" fill="#0f0aff" fill-rule="evenodd"/>
<path d="M682.5 98 521.5 98 521.5 4.5 682.5 4.5 682.5 98Z" fill="#100dff" fill-rule="evenodd"/>
<path d="M682.5 98 521.5 98 521.5 4.5 682.5 4.5 682.5 98Z" fill="#1211ff" fill-rule="evenodd"/>
<path d="M682.5 98 521.5 98 521.5 4.5 682.5 4.5 682.5 98Z" fill="#1519ff" fill-rule="evenodd"/>
<path d="M682.5 98 521.5 98 521.5 4.5 682.5 4.5 682.5 98Z" fill="#1823ff" fill-rule="evenodd"/>
<path d="M603 98 521.5 98 521.5 4.5 682.5 4.5 682.5 81.6 681 80.9 680.5 81.3 677 80.6 675.5 79.9 674.5 80 669.5 78.4 665.5 78.7 664 78.4 663 78.7 661.5 78.4 660.5 78.6 648.5 78.4 637.5 79.6 632 81 628.4 82.5 621.1 87 623.2 90.5 622.8 92 621.5 93 615 95.5 603 98Z" fill="#1c2cff" fill-rule="evenodd"/>
<path d="M558.5 90 550.5 89.9 549.5 90.2 542.5 89.8 541 89.4 537.5 89.5 536 89 534.5 89.1 534 88.8 525.5 87.4 525 86.9 524.5 87.1 523 86.4 522.5 86.6 522 86 521.5 86.1 521.5 10.8 527 8.4 527.5 8.5 535.2 4.5 682.5 4.5 682.5 73.1 681 73.5 680.5 73.3 679 73.8 678.5 73.5 678 74.1 677.5 73.8 672 74.6 648.5 75.3 635 76.5 624.7 79 612 84.6 607 86.4 597.5 88.5 587 89.4 558.5 90Z" fill="#2038ff" fill-rule="evenodd"/>
<path d="M572.5 85 553.5 85.3 550 84.8 547 85 541 84 538.5 84 535 82.9 531 82.2 528.5 81 528 81.1 525 79.5 524.5 79.6 521.5 77.7 521.5 18.1 527 15.4 527.5 15.6 528 14.9 528.5 15 531.5 13.5 532 13.6 534 12.5 534.5 12.6 539.5 10.1 549 4.5 671.5 4.5 682.5 15.8 682.5 67.8 679 69.1 678.5 68.9 678 69.3 671 70.7 670.5 70.5 665 71.4 663.5 71.3 646.5 72.8 628 75.3 619.5 77.4 602.5 82.5 595.5 83.9 587.5 84.6 572.5 85Z" fill="#2647ff" fill-rule="evenodd"/>
<path d="M577.5 81.6 558.5 81.9 544 80.7 541.5 79.9 538.5 79.6 531 76.6 527.2 74 524 71 521.5 66.8 521.5 28.5 522.6 26 524.9 23 531.5 18.5 532 18.6 541.5 14.6 546.5 12 554.9 7 560.4 4.5 613.7 4.5 612.5 5.5 612.7 6.5 614.5 7.9 617 8.5 618.8 8 620.2 7 620.5 5.5 620.1 4.5 662.1 4.5 667.5 9.5 674.5 17.1 682.5 24.1 682.5 63.2 676 66.2 675.5 66 669.5 68 667.5 68 664 69 663.5 68.8 660.5 69.6 659 69.5 656.5 70.1 629.5 73.4 599 80.3 591.5 81.1 577.5 81.6Z" fill="#2c55ff" fill-rule="evenodd"/>
<path d="M572.5 79.5 557 79.5 544.5 77.9 540 76.7 536 75.1 532.4 73 529 69.7 527.1 67 525.1 62 524.2 56 524 49 524.6 37.5 525.6 31.5 527.3 27 530 23.9 535 20.4 535.5 20.5 537.5 19.3 546 15.9 558.5 9 563.5 7.4 570.2 7 572.9 6 574.6 4.5 610.9 4.5 610.6 5.5 611 6.5 612.6 8 615 9 618 9.4 620 9 621.8 8 623.3 6 623.6 4.5 655.3 4.5 660.5 8.5 672.7 21 682.5 29 682.5 59.6 674 64 673.5 63.8 673 64.4 672.5 64.3 670.5 65.2 670 65 667.5 66.1 667 65.9 665.5 66.5 665 66.3 660 67.7 625.5 72.4 599.5 78.1 590.5 79 572.5 79.5Z" fill="#3264ff" fill-rule="evenodd"/>
<path d="M584 77 563 77.4 557 77.1 549 75.9 543.5 74.4 540 73 537.4 71.5 534.1 68.5 531.8 65.5 530.2 61.5 529.2 56.5 529 50 529.4 39.5 530.1 33.5 531 30.5 532.4 27.5 534.6 25 536.5 23.4 537 23.5 539.5 21.8 548.5 18.3 560 12.1 565.5 10.1 574.7 8 576.8 6.5 578 4.5 609.1 4.5 609.6 6.5 611.7 8.5 614.5 9.7 618.5 10.1 620.6 10 622.8 9 625.9 6 626.8 4.5 647 4.5 650.5 6.1 656 10 668.8 23 680.6 32.5 680.7 33 682.4 34.5 682.5 54.4 679 57.5 672 61.7 671.5 61.5 667.5 63.5 667 63.3 665 64.3 664.5 64.1 661 65.3 657.5 65.7 653.5 66.8 650 66.9 649 67.4 646 67.5 643.5 68.2 623.5 71 601 75.8 592 76.8 584 77Z" fill="#3a75ff" fill-rule="evenodd"/>
<path d="M585.5 75.5 568 75.9 556.5 75.3 549.5 74.1 545 72.6 542 71.3 537.6 68 535 64.5 533.5 61 532.6 56.5 532.3 51 532.6 40 533.4 34 534.9 29.5 537.6 26 540 24 542 23 550.5 19.6 562 13.4 565 12.2 573.1 10.5 576.5 9.3 579 7.5 580.6 4.5 607.6 4.5 608.6 7 611 9 614.5 10.4 619 10.8 622 10.6 623.6 10 631.2 4.5 640.1 4.5 643 5.3 647 7.2 652.5 10.7 667 25.2 675.9 32 676 32.5 676.5 32.6 679.3 35.5 681.8 39.5 682.5 41.5 682.5 47.4 681.1 51 679.8 53 674.8 57.5 671.5 59.6 671 59.5 667 61.7 656.5 64.8 655 64.8 652.5 65.6 650 65.7 649 66.2 645 66.5 623 70 603.5 74.1 594.5 75.2 585.5 75.5Z" fill="#4286ff" fill-rule="evenodd"/>
<path d="M569.5 74.5 558 74 551 72.6 544 69.9 542 68.6 539.5 66 536.9 61.5 535.5 56 535.3 46 536.2 35 538.4 29 540 27 543 24.7 555 19.5 565.5 14 575 11.7 578 10.5 581 8.1 582.9 4.5 606.1 4.5 607.3 7 610 9.3 614 10.9 618 11.5 624.1 11 630 7.7 634 6.3 638 6.3 642.5 7.6 646 9.2 650 11.8 654 15.4 662.5 24.4 673.3 33 673.4 33.5 676.5 36.5 678.9 41 679.4 44.5 679 47.5 676.9 52 673.2 55.5 673.1 56 672.5 56.1 671 57.5 670.5 57.4 669.6 58 669.5 58.5 669 58.4 666 60.2 665 60.3 663 61.4 662.5 61.3 660.5 62.3 660 62.2 652.5 64.3 650 64.4 649 64.9 626 68.3 600 73.4 592.5 74.1 569.5 74.5Z" fill="#50a6fe" fill-rule="evenodd"/>
<path d="M578 73.1 569 73.2 558.5 72.4 550.5 70.5 546 68.3 544 66.9 541.9 64.5 540.4 62 538.9 57.5 538.3 51 538.7 38.5 539.4 34.5 540.4 31.5 541.9 29 544 26.7 548 24.4 553.5 22.4 557 20.7 566 15.8 576.5 12.8 580 11.2 582.7 9 585.1 4.5 604.5 4.5 606.4 7.5 608.9 9.5 613 11.3 617 12 625.5 11.7 631 9.3 635 8.5 639.5 9 642.5 10.1 646 12 649 14.2 659.5 25 670.7 34 670.7 34.5 674 38 675.2 40.5 675.8 43 675.8 46 675.4 48 673.6 51.5 670.6 54.5 670.5 55 670 55 664 59.1 663.5 59 659 61.2 658.5 61 655.5 62.2 655 62.1 652.5 63 651 62.9 650 63.5 623.5 67.5 600 72.1 593 72.7 578 73.1Z" fill="#61cdf9" fill-rule="evenodd"/>
<path d="M583 71.5 569 71.7 560 70.9 553.5 69.4 548 66.6 546.5 65.4 544.2 62.5 542.2 57.5 541.5 51.5 541.8 40 542.4 35.5 543.5 32 545 29.4 547.5 27.1 552 24.8 553.5 24.5 560.5 21.2 568 17.1 578 14.2 581.5 12.7 585.3 9.5 586.6 7.5 588 4.5 602.6 4.5 604.5 7 607.5 9.5 611.7 11.5 616 12.5 620.5 12.8 626.5 12.5 635 10.7 640 11.7 643 13.1 647.5 16.4 656.5 25.8 661 29.7 661.5 29.7 667.3 35 669.7 37.5 671.3 40 672.2 43 672.2 46 671.3 49 670.4 50.5 667.8 53.5 664 56.5 662.5 57.6 662 57.5 657.5 59.8 657 59.7 654 61 648.5 62 647.5 62.5 624 66.1 601.5 70.6 594 71.3 583 71.5Z" fill="#69e1f4" fill-rule="evenodd"/>
<path d="M590 69.5 575 69.9 566 69.5 560 68.6 553 65.9 549 62.6 546.5 57.6 545.6 52 545.8 42 546.2 37.5 547 33.9 548.8 30.5 550.5 28.8 553.5 26.9 560 24.4 570.5 18.9 578 16.4 581 15.1 584.5 12.4 591 5.9 593.1 4.5 600 4.5 606.5 9.8 609.5 11.3 613.5 12.7 619.5 13.5 634 13.6 637 14 640.6 15.5 645 18.9 653.5 27.7 661.9 34.5 665.5 38.5 667.1 41.5 667.5 44.5 667.2 47 665.1 51 660.5 55.4 660 55.4 658 56.9 657.5 56.8 654 58.7 646 61 622.5 64.6 603 68.6 597.5 69.2 590 69.5Z" fill="#6de9ed" fill-rule="evenodd"/>
<path d="M587 68 577 68.2 567.5 67.7 561 66.5 555.5 64 551.9 60.5 549.8 55.5 549.2 49 549.6 39 550.1 36 551.2 33 554 29.7 557.5 27.7 561.5 26.2 566.5 23.8 573.2 20 581 16.3 584.3 14 591.5 7.5 594.5 5.9 596.5 5.6 599 6.1 607.2 11 613 13.2 618.5 14.1 630 14.6 633 15.2 636.5 16.5 641 19.5 651.5 29.8 657.5 34.4 662 39.4 663 42 663.4 44 663.1 46.5 662.1 49 660.3 51.5 658 53.9 657.5 53.9 655.5 55.6 649 58.4 642.5 60.1 618.5 63.9 602.5 67.2 595.5 67.8 587 68Z" fill="#70f0e6" fill-rule="evenodd"/>
<path d="M578 67.5 569 67 563.5 66 558.5 64.2 554.5 61.3 552.1 57.5 550.8 52 550.7 42.5 551.6 36 553 32.7 555.5 30 558.5 28.4 565.5 25.5 573.4 21 581 17.5 584.5 15.1 591 9.6 594.5 7.7 596.5 7.4 599 7.8 608.5 12.3 613.5 13.9 619 14.8 629.5 15.7 633 16.5 636.5 18.1 639.5 20.1 649.9 30 657.5 35.9 660 39 661.5 42 661.8 44.5 661.4 47 660.3 49.5 658.4 52 653.5 55.6 646.5 58.5 638 60.4 621 63.1 602 66.7 595 67.3 578 67.5Z" fill="#6ff0dc" fill-rule="evenodd"/>
<path d="M597 66.6 580.5 66.8 571.5 66.5 563 64.8 560.5 63.8 557 61.6 555 59.5 553.2 56 552 49.5 552.3 39 553 36 555 32.2 557 30.4 559 29.2 566.5 26 575.5 21.1 582.5 17.8 592 10.5 594 9.5 597 9 600.5 9.7 613.5 14.6 628.5 16.6 634 18.3 637.5 20.4 646.4 28.5 654.9 35 657.4 37.5 659.6 41 660.2 43 660.3 45.5 659.6 48 658.1 50.5 655.1 53.5 648.7 57 643 58.8 635 60.4 618.5 63 603.5 65.9 597 66.6Z" fill="#6ff0d3" fill-rule="evenodd"/>
<path d="M595.5 66 576.9 66 570 65.4 565.5 64.5 562.5 63.4 560 62.1 557.4 60 555.5 57.4 553.9 53 553.2 47 553.4 41.5 554 37.5 555.5 33.8 557.5 31.4 561.5 29 567.5 26.6 583 18.7 591 12.7 594 11 597 10.3 599.5 10.6 605 12.1 614 15.5 628 17.6 633.3 19.5 636.7 21.5 647 30.4 654.4 36 656.7 38.5 658.1 41 658.8 45 657.5 49.2 655 52.2 653 53.7 647 56.9 637.5 59.5 604 65.3 595.5 66Z" fill="#6ef0c9" fill-rule="evenodd"/>
<path d="M601.5 65 584 65.5 573 65 565 63.2 560.5 60.9 558 58.5 556.5 56 555.3 52.5 554.7 49.5 554.5 45.5 554.8 40.5 555.7 36.5 557.3 33.5 559 31.7 561.7 30 568 27.4 584 19.4 593 12.9 596 11.8 600 11.6 604 12.3 616 16.5 627.5 18.7 633 20.8 637.8 24 645.4 30.5 652 35.3 653.8 37 656.4 40.5 657.3 44 656.8 47.5 654.5 51.1 652.5 52.9 648 55.6 639.5 58.5 601.5 65Z" fill="#6bf0bb" fill-rule="evenodd"/>
<path d="M601 64.6 595 64.9 578 64.7 570.5 63.8 567 62.8 562.5 60.8 559.4 58 558.1 56 556.2 50.5 555.7 45.5 556.2 39.5 557.3 36 558.8 33.5 561.5 31.1 584 20.5 594 13.5 597.5 12.3 600.5 12.2 604.5 13 615 16.7 626.5 19.4 631.5 21.3 636 24.1 645 31.5 651.5 36.2 653.3 38 655.2 41 655.8 43 655.9 45.5 654.2 49.5 650.5 53.2 646 55.7 642 57.3 634 59.2 601 64.6Z" fill="#68f0ac" fill-rule="evenodd"/>
<path d="M597.5 64.5 581.5 64.4 573 63.7 567 62.3 562 59.6 559.9 57.5 558.5 55.3 557.3 52 556.6 48.5 556.4 43.5 556.9 39.5 557.8 36.5 559.2 34 561 32.1 563.5 30.5 569 28.3 585 20.6 594 14.2 597 13.1 600.5 12.8 605 13.7 615.5 17.4 626.4 20 632.5 22.6 651 36.5 652.9 38.5 654.6 41.5 655.1 45.5 653.5 49.5 650 52.9 646 55.3 640 57.5 631 59.5 606 63.6 597.5 64.5Z" fill="#65f09d" fill-rule="evenodd"/>
<path d="M600.5 64 582 64.1 574.1 63.5 568 62.1 563 59.6 560.8 57.5 558.9 54.5 557.2 48.5 557 44 557.4 40 558.5 36.5 559.6 34.5 563 31.4 584.5 21.4 594 14.9 597.5 13.6 601 13.4 605.5 14.3 615.5 17.9 626 20.4 631 22.4 635.5 25.3 649.5 35.9 652.5 39 654 41.7 654.4 45.5 653 49.1 649.8 52.5 643.5 56 640.5 57.1 632 59 600.5 64Z" fill="#60f087" fill-rule="evenodd"/>
<path d="M600.5 63.5 581.5 63.5 574 62.7 568.5 61.2 564.3 59 562.1 57 560.4 54.5 559 51 558.5 48 558.3 44 558.6 40.5 559.4 37.5 561.1 34.5 563.5 32.2 566.5 30.6 585.5 22 594.5 16 598 14.8 601.5 14.6 605 15.3 613.5 18.3 625 21.3 629.5 23 633.8 25.5 647.4 35.5 650 37.8 652.2 41 652.8 42.5 653 45 651.9 48.5 649 51.9 643 55.5 638.5 57 629.5 59 600.5 63.5Z" fill="#59f069" fill-rule="evenodd"/>
<path d="M600 63 587.5 63 577 62.4 569.5 60.6 567 59.5 565 58.1 562.6 55.5 561.4 53.5 560.3 50.5 559.7 47.5 559.8 41 560.6 38 562 35.3 563.5 33.5 565.5 32.1 586 22.8 595 17.1 598 16 601.5 15.8 606 16.6 614.5 19.7 625.5 22.6 629.5 24.2 633.3 26.5 646.6 36 649.2 38.5 650.8 41 651.4 42.5 651.6 45 650.8 48 649.5 49.9 645.9 53 640.5 55.6 636.5 57 624.5 59.4 600 63Z" fill="#52f050" fill-rule="evenodd"/>
<path d="M599 62.5 579 61.9 570.5 60 566.8 58 564.2 55.5 562.6 53 561 48 560.7 44.5 561 41 562.1 37.5 563.5 35.2 565.5 33.2 567.5 32 586.8 23.5 595.5 18.1 598.5 17.2 602 17 605 17.5 613.6 20.5 623.5 23 629.6 25.5 644.9 36 648.1 39 649.4 41 650.1 43 650.2 45 649.6 47.5 648.7 49 645.1 52.5 640 55.1 636 56.5 627.2 58.5 607 61.7 599 62.5Z" fill="#4cf03b" fill-rule="evenodd"/>
<path d="M598 62 584.5 61.6 578.1 61 571.9 59.5 567.4 57 564 53 562.5 49.1 562 46.5 562 43 562.4 40.5 563 38.5 564.5 35.8 566.9 33.5 569.5 32 587.5 24.2 595.4 19.5 598.1 18.5 602 18.2 605.5 18.8 614 21.8 623.5 24.1 629.1 26.5 644.1 36.5 647.1 39.5 648 41 648.7 43 648.7 45 647.6 48.5 644.5 51.7 639.5 54.6 633.5 56.6 621.5 59 604.9 61.5 598 62Z" fill="#4bf035" fill-rule="evenodd"/>
<path d="M602.5 61 595 61.2 582 60.5 575.5 59.4 570.5 57.3 567.8 55 565.8 52.5 563.9 47.5 563.7 44 564 41 565.1 38 566.3 36 568.5 34 570.5 32.8 588 25.4 596 20.9 599.5 19.9 602.5 19.9 605.5 20.4 613 22.9 623 25.4 627.9 27.5 642 36.6 644.9 39.5 646.4 42 646.8 44 646.6 46 645.1 49 641.5 52.2 637 54.6 630.5 56.6 623.5 58 602.5 61Z" fill="#49f02f" fill-rule="evenodd"/>
<path d="M605 60 597.5 60.5 585.5 60 578.5 59 572.5 56.8 568.6 53.5 567 51 565.8 48 565.4 43 565.9 40.5 566.9 38 569.5 35 573 32.9 589.5 26.2 596.5 22.4 599.5 21.6 602 21.4 605.5 22 612 24.1 619.5 25.9 626 28.2 638.5 35.7 641.5 38 643.9 41 644.8 44.5 644.6 46 643.5 48.4 641.1 51 637 53.5 631 55.6 624 57.2 605 60Z" fill="#48f029" fill-rule="evenodd"/>
<path d="M602.5 59.5 596 59.7 582.5 58.7 576.5 57.2 573.5 55.7 569.9 52.5 568.1 49.5 567.5 47.5 567.2 42.5 568.1 39.5 569.2 37.5 572 34.8 575 33.2 583 29.8 589.5 27.5 597 23.8 599.5 23.1 602 23 604.5 23.2 611.5 25.4 619.5 27.2 624 28.8 630.5 32.2 637 36.2 640.9 39.5 642.2 41.5 642.9 44.5 642 47.5 639 50.9 635.5 53 630.5 54.9 622 56.9 602.5 59.5Z" fill="#50f027" fill-rule="evenodd"/>
<path d="M602.5 59 596.5 59.1 584.5 58.3 578.7 57 574.3 55 570.7 51.5 569.3 49 568.5 46.5 568.6 42 569.2 40 570.6 37.5 574.3 34.5 581 31.5 590 28.2 597.5 24.8 600 24.2 602.5 24.1 619 28.1 624.5 30 630 33 637 37.4 639.8 40 640.9 42 641.4 44 641.3 45.5 640 48.4 638 50.5 634 52.8 630 54.4 623.7 56 614 57.7 602.5 59Z" fill="#5af025" fill-rule="evenodd"/>
<path d="M602 58.5 595.5 58.5 586 57.8 580 56.6 576 54.9 572.6 52 570 47.5 569.6 43 571 38.9 573.6 36 577.5 33.8 591.5 28.5 597.5 25.8 600 25.2 602.5 25.1 618 28.7 623 30.4 629.5 33.7 635.5 37.5 638 39.7 639.5 42 640 44 639.9 45.5 638.8 48 637 50 632 53 626.5 54.8 621.5 55.9 613 57.3 602 58.5Z" fill="#64f024" fill-rule="evenodd"/>
<path d="M601 58 592.5 57.8 585.5 57.1 580 55.7 576.5 54 574 52 572.9 50.5 571 46.5 570.9 42.5 572.5 38.7 574 37 576 35.5 581.5 33 597.5 26.9 600 26.3 602.5 26.2 618 29.6 623 31.4 629 34.4 634 37.5 636.8 40 637.8 41.5 638.6 44 638 47 636 49.5 631.5 52.3 626.5 54.2 618.5 56 608 57.5 601 58Z" fill="#73f025" fill-rule="evenodd"/>
<path d="M599 57.5 590 57 584 56.1 580.4 55 576.5 52.8 573.5 49.5 572.2 46 572.3 42 574 38.4 577.5 35.6 584.5 32.6 598.5 27.6 602.5 27.2 618 30.5 623 32.4 632.5 37.6 635.7 40.5 636.9 42.5 637.2 45 635.8 48 633.5 50.3 629.5 52.5 626.5 53.5 617.5 55.6 607 57.1 599 57.5Z" fill="#86f029" fill-rule="evenodd"/>
<path d="M606.5 56.5 599 56.9 591.5 56.5 585 55.5 580.6 54 576.5 51.2 574.5 48.5 573.3 44.5 574 40.9 575 39.2 577 37.1 580.8 35 598 28.8 602 28.2 615 30.7 622.1 33 627.5 35.6 631.3 38 633.6 40 635.1 42 635.6 44.5 634.9 47 632.5 49.7 629.5 51.6 620.5 54.4 606.5 56.5Z" fill="#99f02e" fill-rule="evenodd"/>
<path d="M605.5 56 599 56.3 591 55.7 585 54.6 580 52.6 577 50 575.2 47 574.7 44 575.5 40.8 578 37.6 582 35.4 598 29.8 602 29.2 614.5 31.5 620.5 33.4 625.5 35.7 630.5 38.7 632.5 40.5 633.7 42.5 634 45 633.2 47 631 49.5 628.5 51.1 623.5 53 617.5 54.4 605.5 56Z" fill="#aeee31" fill-rule="evenodd"/>
<path d="M604.5 55.5 598.5 55.7 591 55.1 585.5 54 581.9 52.5 578.6 50 576.8 47.5 576 44 577 40.6 579.2 38 583.5 35.7 598 30.8 602.5 30.2 615 32.5 620.5 34.4 626 37 629.2 39 630.8 40.5 632.1 42.5 632.5 44.5 631.7 47 629.5 49.3 627.5 50.6 619 53.5 604.5 55.5Z" fill="#c3ec35" fill-rule="evenodd"/>
<path d="M607.5 54.5 600 54.9 594 54.6 587.5 53.5 584.7 52.5 580.6 50 578.7 47.5 577.8 44.5 578.3 41.5 580.5 38.7 585 36.2 590 34.3 598.5 31.9 602 31.4 613.5 33.3 618.5 34.8 626.2 38.5 629 40.8 630.1 42.5 630.5 44.5 629.6 47 628.3 48.5 625 50.6 617.5 53 607.5 54.5Z" fill="#d3de37" fill-rule="evenodd"/>
<path d="M604 54 599 54.1 591.5 53.3 587.5 52.3 585 51.3 582 49.1 580.2 46.5 579.7 43.5 580.6 41 583.5 38.2 587 36.6 598.5 33.1 602 32.7 613 34.4 617 35.5 623.5 38.4 626.3 40.5 627.6 42 628.3 44 628 46 626.5 47.9 623.5 49.9 619 51.7 615.5 52.6 604 54Z" fill="#e0c438" fill-rule="evenodd"/>
<path d="M605.5 53 599.5 53.2 594 52.6 589 51.5 586.5 50.5 583.8 48.5 582.3 46.5 581.7 44.5 582.2 42 584.2 39.5 588 37.5 593.5 35.6 602 34 610.5 35.1 617 36.9 623 39.9 624.8 41.5 625.7 43 625.9 44.5 625.5 46 624 47.9 621.5 49.5 614 51.9 605.5 53Z" fill="#e3a434" fill-rule="evenodd"/>
<path d="M605.5 52 600.5 52.2 595.5 51.7 591.5 50.9 589 50 586.5 48.5 584.7 46.5 584 44.5 584.4 42.5 586.5 39.9 590.2 38 595 36.5 602 35.3 610.5 36.4 615.5 37.8 620.5 40.3 623 43 623.3 44.5 622.5 46.5 621 47.9 619 49.1 612.5 51.1 605.5 52Z" fill="#e4822f" fill-rule="evenodd"/>
<path d="M603 51 596 50.6 592 49.6 590 48.6 587.9 47 586.9 45.5 586.7 44 587.1 42.5 588.9 40.5 591.5 39.1 596 37.7 602 36.8 608.5 37.5 612.7 38.5 618 40.9 619.9 43 620.2 44.5 619.9 45.5 619 46.7 617.3 48 611.5 50 603 51Z" fill="#e66429" fill-rule="evenodd"/>
<path d="M604.5 49.5 598 49.3 593 47.9 590.3 45.5 590 44.5 590.2 43 592 41.1 594 40.1 597.5 39.1 602 38.5 607.5 39.1 611.5 40.1 614.5 41.5 616.1 43 616.3 45 614.4 47 610.5 48.6 604.5 49.5Z" fill="#e64b23" fill-rule="evenodd"/>
<path d="M605 48 600.5 48.2 596 47.2 593.6 45.5 593.1 44.5 593.2 43.5 594.5 42 596 41.2 601.5 40.1 608 40.8 610.5 41.7 612.2 43 612.7 44.5 611.5 46.1 609 47.3 605 48Z" fill="#e5371c" fill-rule="evenodd"/>
<path d="M602.5 47.5 599.5 47.3 596.8 46.5 594.9 45 594.9 43.5 597 41.8 602 40.8 607.5 41.6 609.6 42.5 610.7 43.5 610.7 45 609.5 46 606 47.2 602.5 47.5Z" fill="#e42f1a" fill-rule="evenodd"/>
<path d="M605.5 46.5 602 46.8 599.2 46.5 597 45.5 596.2 44 597.5 42.5 601.5 41.5 606 42 608.9 43.5 609.1 44.5 608.5 45.3 605.5 46.5Z" fill="#e42918" fill-rule="evenodd"/>
<path d="M604 46 600.5 46 598.9 45.5 597.9 44.5 598 43.5 599.9 42.5 602 42.3 604.7 42.5 607 43.5 607.3 44 607 45 604 46Z" fill="#e22515" fill-rule="evenodd"/>
</g>
<path d="M579.5 68.5 570.5 68.5 562.5 67.4 562 67 561 67 559 66.4 558.5 66 557.5 65.9 555.5 64.8 553 62.9 551.3 61 550.1 59 549.2 56.5 548.7 54 548.6 42.5 549.2 36.5 549.6 35 550.7 32.5 552.5 30.1 553 30 555 28.4 556.5 27.9 558.5 26.7 559.6 26.5 561 25.7 563 25 563.5 24.6 564 24.5 567 23 568 22.2 572.5 19.8 581 15.8 584.8 13 591 7.1 594 5.2 596 4.7 598.5 5 600 5.8 604.4 9 606.9 10.5 610 11.9 613 12.9 618.5 13.8 628 13.9 630.5 14.2 633 14.6 636.5 15.8 640.5 18.2 642.6 20 650.5 28.2 652 29.2 655 32 655.5 32.1 657 33.6 657.5 33.6 660.9 37 661.1 37.5 661.5 37.6 661.9 38 663.4 40.5 663.5 41.5 663.9 42.5 664.1 45 663.8 47 662.5 49.5 662.4 50 658 54.5 657.5 54.5 656 55.8 655 56 654 56.9 653 57 652 57.8 651.5 57.7 650.5 58.4 650 58.3 649 58.8 647.5 59 647 59.4 643.5 60.2 640.5 60.5 640 60.9 638 61 637.5 61.3 626 63 625.5 63.2 622.5 63.5 622 63.7 614.5 65 606.5 66.8 600.5 67.8 594 68.3 579.5 68.5" fill="none" stroke="#747474" stroke-width="0.9" stroke-linejoin="round"/>
<path d="M601 64.6 595 64.9 578 64.7 570.5 63.8 567 62.8 562.5 60.8 561 59.7 559.4 58 558.5 56.8 557.3 54.5 556.1 50.5 555.7 45.5 556.2 39.5 557.3 36 558.8 33.5 560.5 31.8 563 30.3 565 29.5 565.5 29.1 566.5 28.9 568.6 28 577 23.7 584 20.5 587 18.5 591 15.3 594 13.4 597.5 12.3 600.5 12.2 604.5 13 615 16.7 626.5 19.4 631.5 21.3 635.5 23.7 642.5 29.5 643.5 30.1 645 31.5 645.5 31.6 647 33 647.5 33.1 650.9 36 651.5 36.2 652.5 37.5 653.3 38 655.3 41 655.8 43 655.9 45.5 655.7 46.5 654.3 49.5 652 52 650.5 53.2 647.5 55 647 55 646 55.7 644 56.5 643.5 56.5 642 57.3 634 59.2 631.5 59.5 631 59.8 629 59.9 628.5 60.2 625.5 60.7 619.5 61.5 607 63.8 601 64.6" fill="none" stroke="#747474" stroke-width="0.9" stroke-linejoin="round"/>
<path d="M598 62 584.5 61.6 578.1 61 575.2 60.5 571.9 59.5 570 58.6 567.4 57 565 54.5 564 53 562.5 49.1 562 46.5 562 43 562.4 40.5 563 38.5 564.5 35.8 566.9 33.5 569.5 32 573.5 30.4 580.5 27.1 587.5 24.2 595.4 19.5 598.1 18.5 602 18.2 605.5 18.8 614 21.8 623.5 24.1 626 25 629.1 26.5 644.1 36.5 647.1 39.5 648 41 648.7 43 648.7 45 648.5 46.5 647.6 48.5 646.5 49.9 644.5 51.7 642.5 53 639.5 54.6 633.5 56.6 621.5 59 604.9 61.5 598 62" fill="none" stroke="#747474" stroke-width="0.9" stroke-linejoin="round"/>
<path d="M602.5 59.5 596 59.7 586 59.1 582.5 58.7 576.5 57.2 573.5 55.7 571.3 54 569.9 52.5 568.1 49.5 567.5 47.5 567.1 45 567.2 42.5 568.1 39.5 569.2 37.5 570 36.5 572 34.8 575 33.2 583 29.8 589.5 27.5 597 23.8 599.5 23.1 602 23 604.5 23.2 611.5 25.4 619.5 27.2 624 28.8 630.5 32.2 637 36.2 638.8 37.5 640.9 39.5 642.2 41.5 642.8 43.5 642.9 44.5 642.8 45.5 642 47.5 640.6 49.5 639 50.9 635.5 53 630.5 54.9 622 56.9 614 58.2 602.5 59.5" fill="none" stroke="#747474" stroke-width="0.9" stroke-linejoin="round"/>
<path d="M599 57.5 590 57 584 56.1 580.4 55 578.5 54.1 576.5 52.8 574.5 50.8 573.5 49.5 572.6 47.5 572.2 46 572 44 572.3 42 573 40.1 574 38.4 576 36.5 577.5 35.6 584.5 32.6 591.5 30.3 598.5 27.6 600.5 27.2 602.5 27.2 604.5 27.4 609.5 28.7 618 30.5 623 32.4 627.5 34.6 632.5 37.6 635.7 40.5 636.9 42.5 637.2 45 636.7 46.5 635.8 48 633.5 50.3 631.5 51.5 629.5 52.5 626.5 53.5 617.5 55.6 607 57.1 599 57.5" fill="none" stroke="#747474" stroke-width="0.9" stroke-linejoin="round"/>
<path d="M601 55.5 595 55.2 588.9 54.5 585 53.5 582.6 52.5 580.5 51.1 578.3 49 577.1 47 576.7 45.5 576.5 44 576.7 42.5 578 39.8 579.3 38.5 581.4 37 587.5 34.4 598.5 31 602.5 30.6 613.5 32.5 617.3 33.5 621.5 35.1 628 38.6 630.5 40.8 631.6 42.5 632 44.5 631.5 46.5 629.5 48.8 626 51 620 53 615.5 54 608.2 55 601 55.5" fill="none" stroke="#747474" stroke-width="0.9" stroke-linejoin="round"/>
<path d="M603 53.5 598.5 53.5 593.5 52.9 590.5 52.4 586.4 51 583.5 49.1 582.4 48 581.5 46.5 581 44 581.7 41.5 582.8 40 584 38.9 588 37 592.3 35.5 598.5 34 602.5 33.5 612.1 35 618 36.8 623.5 39.5 625.3 41 626.6 43 626.8 45 625.8 47 624.8 48 623.4 49 620.5 50.5 616 51.8 612.5 52.5 603 53.5" fill="none" stroke="#747474" stroke-width="0.9" stroke-linejoin="round"/>
<path d="M602.5 51.5 595.5 51 591.5 50 589.2 49 587.7 48 586.1 46 585.6 44 586 42.5 587 41 588 40.2 591 38.7 595 37.4 599.3 36.5 602 36.3 608.8 37 614.5 38.5 618 40 619.5 41 620.5 42 621.1 43 621.5 44.5 621 46 619.5 47.5 617 48.9 613.7 50 609.5 50.9 602.5 51.5" fill="none" stroke="#747474" stroke-width="0.9" stroke-linejoin="round"/>
<path d="M605 48 600.5 48.2 598 47.8 596 47.2 594.5 46.3 593.6 45.5 593.1 44.5 593.2 43.5 594.5 42 596 41.2 599.5 40.3 601.5 40.1 605 40.2 608 40.8 610.5 41.7 612.2 43 612.7 44 612.7 44.5 612.2 45.5 611.5 46.1 609 47.3 605 48" fill="none" stroke="#747474" stroke-width="0.9" stroke-linejoin="round"/>
</g>
<rect x="524.4" y="7.4" width="155.5" height="88" fill="none" stroke="#dcdcf4" stroke-width="0.8"/>
<rect x="523.5" y="6.5" width="157.3" height="89.8" fill="none" stroke="#333333" stroke-width="1"/>
<line x1="521.5" y1="7.9" x2="523.5" y2="7.9" stroke="#333333" stroke-width="0.8"/>
<text x="520.5" y="10.2" font-size="6.5" text-anchor="end" fill="#262626">3.0</text>
<line x1="521.5" y1="29.7" x2="523.5" y2="29.7" stroke="#333333" stroke-width="0.8"/>
<text x="520.5" y="32" font-size="6.5" text-anchor="end" fill="#262626">2.5</text>
<line x1="521.5" y1="51.5" x2="523.5" y2="51.5" stroke="#333333" stroke-width="0.8"/>
<text x="520.5" y="53.8" font-size="6.5" text-anchor="end" fill="#262626">2.0</text>
<line x1="521.5" y1="73.3" x2="523.5" y2="73.3" stroke="#333333" stroke-width="0.8"/>
<text x="520.5" y="75.6" font-size="6.5" text-anchor="end" fill="#262626">1.5</text>
<line x1="521.5" y1="95.1" x2="523.5" y2="95.1" stroke="#333333" stroke-width="0.8"/>
<text x="520.5" y="97.4" font-size="6.5" text-anchor="end" fill="#262626">1.0</text>
<line x1="523.5" y1="96.3" x2="523.5" y2="98.3" stroke="#333333" stroke-width="0.8"/>
<text x="523.5" y="105.6" font-size="6.5" text-anchor="middle" fill="#262626">0</text>
<line x1="534.74" y1="96.3" x2="534.74" y2="97.5" stroke="#333333" stroke-width="0.8"/>
<line x1="545.97" y1="96.3" x2="545.97" y2="98.3" stroke="#333333" stroke-width="0.8"/>
<text x="545.97" y="105.6" font-size="6.5" text-anchor="middle" fill="#262626">2</text>
<line x1="557.21" y1="96.3" x2="557.21" y2="97.5" stroke="#333333" stroke-width="0.8"/>
<line x1="568.44" y1="96.3" x2="568.44" y2="98.3" stroke="#333333" stroke-width="0.8"/>
<text x="568.44" y="105.6" font-size="6.5" text-anchor="middle" fill="#262626">4</text>
<line x1="579.68" y1="96.3" x2="579.68" y2="97.5" stroke="#333333" stroke-width="0.8"/>
<line x1="590.91" y1="96.3" x2="590.91" y2="98.3" stroke="#333333" stroke-width="0.8"/>
<text x="590.91" y="105.6" font-size="6.5" text-anchor="middle" fill="#262626">6</text>
<line x1="602.15" y1="96.3" x2="602.15" y2="97.5" stroke="#333333" stroke-width="0.8"/>
<line x1="613.39" y1="96.3" x2="613.39" y2="98.3" stroke="#333333" stroke-width="0.8"/>
<text x="613.39" y="105.6" font-size="6.5" text-anchor="middle" fill="#262626">8</text>
<line x1="624.62" y1="96.3" x2="624.62" y2="97.5" stroke="#333333" stroke-width="0.8"/>
<line x1="635.86" y1="96.3" x2="635.86" y2="98.3" stroke="#333333" stroke-width="0.8"/>
<text x="635.86" y="105.6" font-size="6.5" text-anchor="middle" fill="#262626">10</text>
<line x1="647.09" y1="96.3" x2="647.09" y2="97.5" stroke="#333333" stroke-width="0.8"/>
<line x1="658.33" y1="96.3" x2="658.33" y2="98.3" stroke="#333333" stroke-width="0.8"/>
<text x="658.33" y="105.6" font-size="6.5" text-anchor="middle" fill="#262626">12</text>
<line x1="669.56" y1="96.3" x2="669.56" y2="97.5" stroke="#333333" stroke-width="0.8"/>
<line x1="680.8" y1="96.3" x2="680.8" y2="98.3" stroke="#333333" stroke-width="0.8"/>
<text x="680.8" y="105.6" font-size="6.5" text-anchor="middle" fill="#262626">14</text>
<text x="602.15" y="114" font-size="9.2" text-anchor="middle" fill="#262626">&#954; (&#197;<tspan font-size="6" dy="-3.2">-1</tspan><tspan dy="3.2">)</tspan></text>
<text x="506.3" y="47.8" font-size="9" text-anchor="middle" fill="#262626" transform="rotate(-90 506.3 47.8)">R+&#916;R (&#197;)</text>
<text x="675" y="90.6" font-size="13.9" text-anchor="end" fill="#ffffff">Co foil</text>
<clipPath id="clip2"><rect x="333" y="121.6" width="157.3" height="90.5"/></clipPath>
<g clip-path="url(#clip2)">
<g filter="url(#hblur)">
<rect x="331" y="119.6" width="161.3" height="94.5" fill="#0c00ff"/>
<path d="M480.5 214.1 331 214.1 331 119.6 492 119.6 492 204.1 491.9 204.6 488.6 207.1 488.5 207.6 486.9 208.6 485.1 210.6 480.5 214.1ZM379.5 128.1 379.9 126.1 379.5 125.2 378.5 124.8 377.5 125.9 377.5 127.3 378.5 128.4 379.5 128.1Z" fill="#0e06ff" fill-rule="evenodd"/>
<path d="M476 214.1 331 214.1 331 119.6 492 119.6 492 199.7 484.6 206.1 482.9 208.1 480.7 209.6 480.5 210.1 480 210.1 476 214.1ZM379.4 129.1 380.5 127.6 380.6 126.1 379.9 124.6 378.5 124 377.1 125.1 376.8 127.1 377.1 128.1 378 129.1 379.4 129.1Z" fill="#0f0aff" fill-rule="evenodd"/>
<path d="M470.5 214.1 331 214.1 331 119.6 492 119.6 491.9 195.1 488.7 197.6 487.8 199.1 486.2 200.1 486.1 200.6 484.6 201.6 484.5 202.1 482.2 203.6 480.5 205.6 470.5 214.1ZM379.8 129.6 380.8 128.1 381 125.6 380 123.8 378.5 123.3 377.5 123.8 376.8 124.6 376.3 126.1 376.4 127.6 377.6 129.6 378.5 130 379.8 129.6Z" fill="#100dff" fill-rule="evenodd"/>
<path d="M465.5 214.1 331 214.1 331 119.6 492 119.6 492 189.3 489.9 191.6 489.9 192.1 486.8 194.6 485.9 196.1 484.4 197.1 484.3 197.6 482.8 198.6 482.7 199.1 481.2 200.1 481.1 200.6 480.5 200.6 478.8 202.6 473.8 206.6 473.6 207.1 465.9 214.1 465.5 214.1ZM380.1 130.1 381.3 128.1 381.3 125.1 380 123.1 379 122.7 378 122.8 376.9 123.6 376.1 125.1 376.1 128.1 377.5 130.2 379 130.6 380.1 130.1Z" fill="#1211ff" fill-rule="evenodd"/>
<path d="M460.5 214.1 331 214.1 331 119.6 492 119.6 492 183.7 489.9 186.1 489.9 186.6 488.4 187.6 487.6 189.1 486.2 190.1 485.3 191.6 483.9 192.6 483.8 193.1 482.3 194.1 482.3 194.6 480.8 195.6 480.7 196.1 479.3 197.1 479.2 197.6 477.1 199.1 477 199.6 474.9 201.1 474.8 201.6 472.7 203.1 472.6 203.6 472 203.7 460.9 214.1 460.5 214.1ZM379.2 131.1 381.1 129.6 381.8 128.1 381.9 126.1 381.5 124.4 380.7 123.1 379.5 122.3 378.5 122.2 377.3 122.6 376.3 123.6 375.7 125.1 375.5 127.1 376.6 130.1 378 131.1 379.2 131.1Z" fill="#1519ff" fill-rule="evenodd"/>
<path d="M456 214.1 331 214.1 331 119.6 492 119.6 492 177.1 489.3 180.6 489.3 181.1 488 182.1 486.5 184.6 485.2 185.6 484.4 187.1 483 188.1 482.2 189.6 480.8 190.6 480.8 191.1 479.4 192.1 479.3 192.6 477.9 193.6 477.8 194.1 475.8 195.6 474.2 197.6 464.8 205.6 464.6 206.1 456 214.1ZM379.5 131.6 380.5 131.1 381.6 129.6 382.3 126.1 381.8 124.1 381 122.8 380 122 378.5 121.6 377 122.2 375.8 123.6 375.2 125.6 375.1 127.6 375.5 129.1 376.5 130.7 378 131.6 379.5 131.6Z" fill="#1823ff" fill-rule="evenodd"/>
<path d="M451.5 214.1 331 214.1 331 119.6 492 119.6 491.9 169.6 490.7 171.1 490.7 171.6 490 172.1 490.1 172.6 489.4 173.1 489.5 173.6 488.8 174.1 488.8 174.6 488.2 175.1 487 177.6 485.7 178.6 484.4 181.1 483.1 182.1 482.4 183.6 481.1 184.6 480.4 186.1 479 187.1 479 187.6 477.7 188.6 477.6 189.1 476.3 190.1 476.2 190.6 474.9 191.6 474.8 192.1 470.8 195.6 470.7 196.1 456 209.1 451.5 214.1ZM379.7 132.1 381 131.3 382 129.9 382.6 128.1 382.7 126.1 382.3 124.1 381.4 122.6 380 121.4 378.5 121.1 377 121.6 375.6 123.1 374.9 125.1 374.7 127.6 375.3 129.6 376.5 131.4 378 132.2 379.7 132.1Z" fill="#1c2cff" fill-rule="evenodd"/>
<path d="M446.5 214.1 331 214.1 331 119.6 485.5 119.6 488.6 123.1 492 127.9 491.8 161.1 490 164.7 489.5 165.1 489.5 165.6 488.9 166.1 489 166.6 484.8 172.6 483.7 175.1 481.8 177.1 481.3 178.6 480 179.6 479.4 181.1 478.2 182.1 477.5 183.6 476.9 183.6 476.2 185.1 475 186.1 475 186.6 473.7 187.6 473.6 188.1 471.7 189.6 471.7 190.1 469.8 191.6 469.7 192.1 467.8 193.6 467.7 194.1 452.5 207.6 446.9 214.1 446.5 214.1ZM379.9 132.6 381.4 131.6 382.4 130.1 383 128.1 383 125.6 382.5 123.6 381.5 122 380 120.8 378.5 120.6 376.9 121.1 375.4 122.6 374.4 125.1 374.3 127.6 375 130.1 376.5 132 378 132.8 379.9 132.6Z" fill="#2038ff" fill-rule="evenodd"/>
<path d="M442 214.1 331 214.1 331 121.4 332 119.6 477.1 119.6 480.6 123.1 486.1 130.1 489.6 136.1 491 139.5 491.8 143.1 492 147.6 491.2 150.1 491.3 150.6 490.8 151.1 491 151.6 490.5 152.1 490.6 152.6 489.7 154.6 489.9 155.1 489.3 155.6 488.9 157.1 488.2 157.6 488.4 158.1 487.7 158.6 487.8 159.1 484 165.5 483.5 167.1 482.9 167.6 482.9 168.1 482.3 168.6 481.3 171.1 479.6 173.1 479 174.6 477.9 175.6 477.3 177.1 476.2 178.1 475.6 179.6 474.4 180.6 474.4 181.1 473.3 182.1 473.3 182.6 472.1 183.6 472.1 184.1 469 187.1 469 187.6 467.2 189.1 467.1 189.6 465.3 191.1 465.2 191.6 462.2 194.1 462.1 194.6 448.1 207.1 442.4 214.1 442 214.1ZM380.2 133.1 381.6 132.1 382.9 130.1 383.5 127.6 383.4 125.1 382.8 123.1 381.5 121.3 380 120.3 378 120.1 376 121.2 374.6 123.1 374 125.6 374 128.1 374.8 130.6 376.4 132.6 378 133.4 380.2 133.1ZM422.4 124.1 422.8 123.6 422.5 123 420.9 123.1 420.9 123.6 421.5 124.1 422.4 124.1Z" fill="#2647ff" fill-rule="evenodd"/>
<path d="M438 214.1 331 214.1 331 125.4 335 119.6 377.6 119.6 375.9 120.6 374.4 122.6 373.6 125.1 373.5 127.6 374.1 130.1 375.1 132.1 376.5 133.4 378.5 134.1 380.5 133.6 382 132.4 383.4 130.1 383.9 127.6 383.8 125.1 383 122.6 381.5 120.6 379.8 119.6 470.9 119.6 471 122.3 474.6 125.6 478.4 130.1 481.5 134.6 484.4 140.1 486 145.6 485.9 149.1 485.1 153.6 483.1 158.6 481 162.7 479 165.6 478 168.1 476.4 170.1 476.4 170.6 475 172.4 474.4 174.1 473.3 175.1 472.8 176.6 471.7 177.6 471.7 178.1 470.6 179.1 470.6 179.6 469.5 180.6 468.4 182.6 463.2 188.1 463.2 188.6 460.3 191.1 460.2 191.6 443.5 206.8 439.8 212.1 438 214.1ZM423.9 124.6 424.4 123.1 423.5 122.1 421.5 121.7 419.5 122.6 419.7 123.6 421 124.7 422.5 125 423.9 124.6Z" fill="#2c55ff" fill-rule="evenodd"/>
<path d="M436 214.1 331 214.1 331 129.2 336.5 122.1 337.9 119.6 376.2 119.6 374.7 121.1 373.6 123.1 373.1 125.6 373.2 128.6 373.9 131.1 375 132.8 376.5 134.1 378.5 134.7 380.5 134.3 382.2 133.1 383.5 131.1 384.2 128.6 384.3 125.6 383.8 123.1 382.7 121.1 381.2 119.6 469 119.6 468.4 128.1 471.7 131.6 475.4 136.6 477.9 141.1 479.5 145.1 480 147.6 480 151.1 479 156.1 476.4 161.6 475.9 162.1 476 162.6 475.4 163.1 475 164.6 473.5 166.6 473 168.2 472 169.1 471.5 170.7 470.5 171.6 470.6 172.1 469.1 174.1 469 174.7 464.5 180.6 464.5 181.1 461.3 184.6 461.3 185.1 459.2 187.1 459.1 187.6 454.8 191.6 454.7 192.1 444.5 201 437.9 212.1 436 214.1ZM423.1 125.6 424.5 125.2 425.3 124.1 425.4 123.1 424.9 122.1 423.5 121.2 422 121 420.5 121.1 419 121.9 418.8 123.1 419.7 124.6 421 125.3 423.1 125.6Z" fill="#3264ff" fill-rule="evenodd"/>
<path d="M434 214.1 331 214.1 331 133.1 339.4 122.1 340.9 119.6 375.3 119.6 373.7 121.6 372.8 124.1 372.5 127.1 372.8 129.6 373.8 132.1 375.5 134.3 377 135.1 379.5 135.4 381.5 134.6 383 133.1 384.1 131.1 384.8 128.6 384.9 126.1 384.5 123.6 383.5 121.3 382.1 119.6 467 119.6 465.9 131.6 471.3 138.6 473.9 143.1 475.3 146.6 475.8 149.1 475.8 152.6 474.6 156.6 474.7 157.1 474.3 157.6 474.4 158.1 472.3 162.1 471.9 163.6 471 164.5 470.5 166.1 469 168.1 469.1 168.6 466.7 172.1 466.8 172.6 465.8 173.6 465.8 174.1 464.8 175.1 464.9 175.6 462.4 178.6 462.5 179.1 459.5 182.6 459.5 183.1 452.7 190.1 452.6 190.6 444 198.4 436.2 211.6 434 214.1ZM423.2 126.1 425 125.7 426.1 124.6 426.3 123.1 425.5 121.6 424 120.7 422 120.3 420 120.6 418.5 121.3 418 122.6 418.8 124.6 420.5 125.7 423.2 126.1Z" fill="#3a75ff" fill-rule="evenodd"/>
<path d="M432 214.1 331 214.1 331 137.8 332.4 135.1 342.4 122.1 343.9 119.6 374.3 119.6 372.8 122.1 372.1 124.6 372 128.1 372.6 131.1 373.9 133.6 375.4 135.1 378 135.9 380 136 381.5 135.5 383.5 133.6 384.6 131.6 385.3 129.1 385.2 124.1 384.3 121.6 383.1 119.6 465 119.6 463.8 133.1 469.3 140.6 472.1 146.1 473 149.1 473.2 151.6 472.7 156.1 471.3 159.1 471 160.7 469.7 162.6 469.4 164.1 468.5 165 468 166.6 467 167.6 467.1 168.1 465.7 170.1 465.8 170.6 464.8 171.6 464.9 172.1 463.9 173.1 463 175.1 461.6 176.6 461.6 177.1 460.2 178.6 460.2 179.1 458.8 180.6 458.8 181.1 456.8 183.1 456.8 183.6 453.8 186.6 453.8 187.1 442.5 197.6 434.2 211.6 432 214.1ZM423.1 126.6 425.5 126.2 426.7 125.1 427.2 123.1 426.5 121.6 425 120.4 422.5 119.7 420 119.9 418 120.8 417.3 122.6 418.1 124.6 420.2 126.1 423.1 126.6Z" fill="#4286ff" fill-rule="evenodd"/>
<path d="M429.5 214.1 331 214.1 331 143.3 335.4 135.1 345.4 122.1 346.8 119.6 373.4 119.6 371.9 122.6 371.3 125.6 371.4 129.1 372.2 132.1 374.1 135.1 377 136.1 380.5 136.5 382 136.3 383.5 135 384.7 133.1 385.8 130.1 386.2 127.1 386 124.6 385.3 122.1 384 119.6 418.8 119.6 417.5 120.2 416.9 121.1 416.7 122.6 417.1 124.1 418 125.3 419.5 126.3 423 127.1 426.5 126.4 427.5 125.4 428.1 124.1 428 122.6 427.5 121.6 426.5 120.5 424.8 119.6 462.7 119.6 461.3 134.6 466.3 141.1 469.6 147.6 470.6 152.6 470.4 155.1 469.5 158.6 468 162.2 466.7 164.1 466.9 164.6 464.6 168.1 464.7 168.6 463.7 169.6 463.8 170.1 462.8 171.1 462 173.1 458.4 178.1 458.4 178.6 454.7 183.1 454.6 183.6 444 194.4 440.2 197.6 431.6 212.1 429.9 214.1 429.5 214.1Z" fill="#50a6fe" fill-rule="evenodd"/>
<path d="M427 214.1 331 214.1 331 147.3 332.9 144.6 338 135.1 348 122.1 349.4 119.6 372.3 119.6 370.9 123.1 370.4 126.6 370.6 130.1 371.8 133.6 372.6 135.1 374 135.7 377 136.7 380.5 137.1 383.6 136.6 385.4 134.1 386.5 131.1 387 128.1 386.9 125.1 386.3 122.1 385.1 119.6 417.1 119.6 416.3 120.6 416.1 122.1 416.3 123.6 417 125 419.5 126.8 423 127.5 427 126.9 428.8 125.1 429.1 123.6 428.8 122.1 427.8 120.6 426.5 119.6 460.1 119.6 458.5 135.6 461.5 139.1 464.6 143.6 467.3 149.6 467.9 152.6 467.9 155.1 466.6 160.1 464.2 164.6 464.3 165.1 463.5 166 463.5 166.6 461 170.4 460.9 171.1 460 172.1 460 172.6 456.6 177.6 456.5 178.2 452 183.6 452 184.1 448.7 187.6 444.5 191.9 437.3 198.1 429.3 211.6 427 214.1Z" fill="#61cdf9" fill-rule="evenodd"/>
<path d="M424.5 214.1 331 214.1 331 151.2 335.2 145.1 340.5 135.1 350.5 122.1 352 119.6 370.8 119.6 369.6 123.1 369.1 127.1 369.6 131.6 370.8 135.1 376 137 381 137.7 385.4 137.1 387.4 133.1 388.1 129.6 388.2 126.1 387.7 122.6 386.6 119.6 415.9 119.6 415.4 122.6 415.8 124.1 416.8 125.6 420 127.5 424 128 428.5 127.1 429.7 125.6 430.2 124.1 430.2 122.6 429.6 121.1 428.2 119.6 457.5 119.6 455.8 136.6 461.3 143.6 463.5 147.6 464.7 150.6 465.3 155.1 465 157.6 463.5 161.1 463.6 161.6 461 167.1 460 168.1 460.1 168.6 459.2 169.6 459.3 170.1 455.9 175.1 456 175.6 452.6 180.1 452.6 180.6 446.5 187.7 446 187.8 442 192.1 434.4 198.6 426.7 211.6 424.5 214.1Z" fill="#69e1f4" fill-rule="evenodd"/>
<path d="M420.5 214.1 331 214.1 331 155.6 334.3 149.6 339.4 143.6 343.9 135.1 353.9 122.1 355.4 119.6 368.5 119.6 367.4 123.6 367 127.6 367.3 131.6 368.4 135.6 376 137.7 381.5 138.3 386 137.8 388.5 136.6 388.8 136.1 389.9 132.6 390.4 128.1 390.1 124.1 388.9 119.6 414.8 119.6 414.6 122.1 414.9 123.6 416.5 126.1 419.5 127.9 423.5 128.5 429.5 127.8 430.9 126.6 431.6 125.1 431.9 123.1 431.3 121.1 430.2 119.6 453.4 119.6 451.8 136.6 457.7 143.1 461.6 150.1 462.5 153.1 462.7 155.1 462.5 157.6 461.7 160.6 460 164.7 459.2 165.6 459.3 166.1 458.5 167 458.5 167.7 456.5 170.6 456.5 171.1 454.1 175.1 450.4 180.1 450.4 180.6 442 190 430 200.9 426 206.1 422.3 212.1 420.5 214.1Z" fill="#6de9ed" fill-rule="evenodd"/>
<path d="M418.5 214.1 331 214.1 331 159.3 333.9 153.1 337.6 147.6 341 144.1 347.2 139.6 350.5 134 355.5 127.9 358.5 125.2 360.5 124.4 361.5 124.7 361.7 125.1 361.8 131.1 362.7 136.6 369 136.8 378 138.7 384.5 138.9 388.5 137.6 391.7 134.6 394.6 130.1 395.5 129.6 395.6 125.1 394.7 119.6 413.8 119.6 414 123.1 414.6 124.6 416.2 126.6 419.5 128.4 424 129.1 433.2 128.6 434.6 126.6 435.3 124.1 435.2 122.1 434.1 119.6 445.8 119.6 444.4 133.1 451.8 139.1 457.4 146.1 459.5 150.1 460.6 153.1 460.9 156.6 460.4 159.6 458.7 164.1 455.5 170.3 451.3 177.1 449 179.9 448.9 180.6 442 188.5 428.8 200.6 421 211.5 418.5 214.1Z" fill="#70f0e6" fill-rule="evenodd"/>
<path d="M417 214.1 331 214.1 331 163.8 334.4 155.1 339 148.1 342.5 144.6 346.8 141.6 351 139.7 355.4 138.6 366.5 137.6 383 139.8 385.5 139.6 388 138.8 391.6 135.6 396.5 129.1 397.5 127.1 398.3 126.6 399 125.1 404.4 119.6 412.4 119.6 413.6 124.1 414.5 125.5 416.5 127.4 418.5 128.6 422 129.5 430 129.8 434.5 130.6 439.5 132.6 445.5 136.1 447.4 137.6 450.5 140.4 452.9 143.1 456.1 147.6 458.1 151.6 459.1 156.6 458.6 160.1 457.5 162.6 457.6 163.1 454.3 169.6 452 173.1 452 173.7 447.7 179.6 447.8 180.1 442 187 429.5 198.3 427 201 420.5 210.2 417 214.1Z" fill="#6ff0dc" fill-rule="evenodd"/>
<path d="M415.5 214.1 332.5 214.1 331 205.4 331 169.7 332.7 163.1 334.8 157.6 337.5 152.6 340.5 148.5 343.5 145.6 346.5 143.3 349 141.9 354.5 140 359.5 139.2 366.5 138.7 376.5 139.4 384.5 140.6 388 139.7 390.1 138.1 392 135.9 395 132.1 396.4 129.6 397.2 129.1 398.2 127.1 400.4 125.1 401.2 123.6 402 123.1 402.5 122.3 403.2 122.1 403.9 121.1 406.5 119.6 410.5 119.7 414 125.6 415.5 127.2 418 128.8 421.5 130.1 430 131 435 132.5 443 136.6 448.5 141 452.5 145.7 455 149.6 456.6 153.1 457.3 157.1 456.8 160.6 455.7 163.1 455.8 163.6 450.8 173.1 449.2 175.1 449.3 175.6 445 181.6 438.5 188.9 427.5 198.8 424 203.1 418.5 211 415.5 214.1Z" fill="#6ff0d3" fill-rule="evenodd"/>
<path d="M413.5 214.1 333.9 214.1 331 194.6 331 180.6 331.5 175.6 333 167.2 335.2 160.1 338.2 154.1 342 148.9 345 146.1 348.6 143.6 351.8 142.1 357.4 140.6 371.5 139.6 378.5 140 384.5 141.1 387.5 140.7 389.5 139.6 392 137 397.2 129.6 398 129.1 399 127.1 399.8 126.6 401.8 124.1 404.9 121.6 407 120.6 409 120.9 410.5 121.9 414.8 127.1 417.5 129.1 421.5 130.7 429 132.2 435.5 134.4 441.5 137.6 446.5 141.6 451.5 147.6 454.7 153.6 455.2 155.6 455.4 159.1 454 164.1 448 175.1 441.5 184.1 436 189.9 425.5 199.4 417.4 210.6 414.5 213.6 413.5 214.1Z" fill="#6ef0c9" fill-rule="evenodd"/>
<path d="M412.5 214.1 335.1 214.1 332.4 197.6 332 192.6 331.9 184.6 332.4 177.1 333.8 168.6 335.9 161.6 338.9 155.1 343.4 149.1 346.7 146.1 349.5 144.3 356 141.8 362.5 140.9 372.5 140.1 377.5 140.3 384.5 141.5 387.5 141.2 389 140.4 392 137.6 395.8 132.1 401.1 125.6 404 123.1 406.5 121.9 408.5 121.9 410 122.5 415 127.9 417.5 129.6 434.5 135.4 440.5 138.7 445 142.2 450.3 148.6 452.1 151.6 453.4 154.6 454 157.6 454 159.6 452.3 165.1 449 171.4 447.5 173.4 447.4 174.1 441.2 183.1 435.6 189.1 426 197.6 423.4 200.6 417.1 209.6 412.5 214.1Z" fill="#6bf0bb" fill-rule="evenodd"/>
<path d="M411.5 214.1 335.8 214.1 333.3 198.6 332.7 192.6 332.6 183.6 333.3 175.6 334.7 167.6 337 160.5 340 154.6 343.8 149.6 347.1 146.6 350 144.7 353.6 143.1 357.4 142.1 373 140.5 379.5 141 384.5 142 387.5 141.7 389 140.9 391 139.1 395 134.1 396.5 131.6 397.3 131.1 398.4 129.1 399.2 128.6 400 127.1 400.6 127.1 401.5 125.6 404.9 123.1 407.5 122.5 410.2 123.6 413.9 127.6 417.5 130.2 434 136.1 439.5 139 443.7 142.1 449.2 148.6 452.4 154.6 453.1 159.1 451.8 164.6 447 173.6 440.5 183.1 435.5 188.4 424.4 198.6 416 210 411.5 214.1Z" fill="#68f0ac" fill-rule="evenodd"/>
<path d="M410.5 214.1 336.5 214.1 333.9 198.1 333.3 192.1 333.3 183.1 334 175.1 335.5 167.1 337.9 160.1 341 154.2 345 149.3 349 146.1 352.5 144.2 355 143.3 360.7 142.1 374 141 379.5 141.4 384.5 142.4 387.5 142.1 390.5 140.1 395.4 134.1 398.7 129.1 401 127.1 402 125.6 405.3 123.6 406.5 123.3 408 123.3 409.5 123.9 414.8 129.1 417.5 130.8 434.5 137.1 440.5 140.6 443.5 143.2 448.5 149.1 450.6 152.6 451.8 155.6 452.3 158.1 452.1 160.6 450.3 166.1 444 177.3 440 182.8 433.5 189.6 425.5 196.7 422.4 200.1 415.5 209.8 410.9 214.1 410.5 214.1Z" fill="#65f09d" fill-rule="evenodd"/>
<path d="M410 214.1 337.2 214.1 334 193.1 333.9 183.6 334.6 175.6 336.1 167.6 338.5 160.4 341.9 154.1 345.5 149.7 351 145.6 356 143.6 358.5 143.1 373 141.5 378.5 141.7 385 142.9 387.5 142.6 390.8 140.1 400.6 127.6 404.3 124.6 406.5 124 408 124.1 409.5 124.8 413.5 128.7 417 131.2 434 137.8 438.5 140.3 442.7 143.6 447.1 148.6 449 151.6 450.7 155.1 451.5 159.1 451.2 161.6 450 165.3 446.2 172.6 439.5 182.6 433.3 189.1 423.9 197.6 415.4 209.1 410 214.1Z" fill="#60f087" fill-rule="evenodd"/>
<path d="M408.5 214.1 338.7 214.1 335.5 194.6 335.2 186.1 335.9 175.6 337.5 167.6 339.9 160.6 343.2 154.6 347 150.1 350 147.7 354 145.5 360 143.9 374 142.5 379 142.7 385 143.9 388 143.3 389.5 142.3 392 139.8 400 129.1 403.8 126.1 406.5 125.4 408 125.7 409.5 126.6 414.4 131.1 417 132.7 431 138.1 434.5 139.8 439 142.7 442.3 145.6 446.9 151.6 449.4 157.1 449.7 159.6 449.5 161.9 447 168.4 443.5 174.2 443.3 175.1 438.4 182.1 432.5 188.5 423.5 196.6 420.5 200.1 414.4 208.6 408.5 214.1Z" fill="#59f069" fill-rule="evenodd"/>
<path d="M407 214.1 340.2 214.1 337.1 195.6 336.6 188.1 337.5 175.1 339.9 164.6 341.5 160.5 343.6 156.6 346 153.3 349 150.2 353 147.5 356.1 146.1 362.5 144.7 375 143.6 379.5 143.9 385 145 388 144.4 390.5 142.4 395.9 135.6 397.5 133 398.3 132.6 399.2 131.1 401.2 129.1 403.4 127.6 406 127 409 128.1 412.6 131.6 416.2 134.1 431.5 140.2 438 144.3 441.5 147.5 445.2 152.6 447 156.1 447.8 159.6 447.6 162.6 446 167.1 443.1 172.1 443 172.9 437.2 181.6 433 186.5 422.9 195.6 419.5 199.5 413.5 207.9 407 214.1Z" fill="#52f050" fill-rule="evenodd"/>
<path d="M405 214.1 341.9 214.1 338.8 195.6 338.3 187.1 339.1 175.6 341.3 165.6 342.8 161.6 344.9 157.6 347.5 154 349.9 151.6 352 149.9 355.5 148 363.5 145.9 376 144.8 380 145.1 385 146.1 387 146 390 144.1 393 140.6 396.5 135.5 401 130.6 403.6 129.1 405.5 128.9 408.5 130.1 412.2 133.6 415 135.6 419.5 137.7 429.5 141.4 435 144.5 439.9 149.1 443.1 153.6 445 157.3 445.7 161.1 445 164.9 442.5 170.5 435.4 181.6 430.6 187.1 420.5 196.2 412.5 207 405.4 214.1 405 214.1Z" fill="#4cf03b" fill-rule="evenodd"/>
<path d="M403.5 214.1 343.9 214.1 343 210.5 340.5 195 340 185.6 341 174.1 343.4 164.6 345.2 160.6 347.3 157.1 349.5 154.3 352 151.9 357.5 148.8 361 147.7 365 147.1 377 146 380.5 146.3 385 147.3 387.5 147 391.1 144.1 398.2 134.6 401 132 404.5 130.7 407.3 131.6 411.6 135.6 414 137.2 417 138.7 427 142.4 431 144.5 434.5 146.9 439 151.5 441.4 155.1 443.2 159.1 443.5 161.6 443 165.1 442 167.8 436.8 177.1 433.7 181.6 429.5 186.3 418.5 196.5 412 205.6 406.5 210.8 403.9 214.1 403.5 214.1Z" fill="#4bf035" fill-rule="evenodd"/>
<path d="M402 214.1 346.3 214.1 344.9 210.1 342.3 195.6 341.7 185.1 342.8 174.6 345 166.2 348.5 159.1 353 153.9 357.5 151 363 149.2 377 147.6 379.5 147.6 385 148.6 387.5 148.3 389 147.4 391.5 144.9 394.9 140.1 398.5 136.1 401.5 133.9 403.5 133.4 405 133.6 406.5 134.4 410.6 138.1 413 139.6 425.5 144.5 431 147.6 434.4 150.6 438 155.2 440.1 159.1 440.8 162.6 439.7 167.6 436.4 174.1 431.7 181.6 426.3 187.6 418 195.3 410.9 204.6 405 210.1 402 214.1Z" fill="#49f02f" fill-rule="evenodd"/>
<path d="M400 214.1 349.3 214.1 347.3 210.1 344.9 200.1 343.6 192.1 343.4 186.1 344.3 176.6 346.7 167.6 350.2 160.6 354.5 155.7 360 152.2 366 150.6 378 149 385 150 387 149.8 388.4 149.1 390.5 147.4 395.4 141.1 398 138.7 400.5 136.8 402.5 136.4 405 137.1 411 141.7 422.5 146.1 428.6 149.6 432.5 153.1 435.1 156.6 437.2 160.6 437.8 164.1 437.1 167.6 434.1 174.1 431 179.6 428.8 182.6 425 187 416.4 195.1 410 203.4 404 208.9 400 214.1Z" fill="#48f029" fill-rule="evenodd"/>
<path d="M397.5 214.1 353 214.1 350.3 210.6 348.3 205.1 345.5 193.1 345.2 185.1 346.4 176.1 349 167.9 352.8 161.1 357.2 156.6 361.5 154 366.5 152.5 377.5 150.8 381 150.8 385 151.4 387.3 151.1 390.3 149.1 394 144.6 397.5 141.1 399.5 139.9 401.5 139.4 404 140.3 409.5 144.2 420.5 148.4 426.5 152 429 154.2 432.1 158.1 433.9 161.6 434.6 165.1 434.4 167.6 433.1 171.1 431 175.6 426.7 182.6 422.3 187.6 414.6 195.1 408.5 202.6 402 208.5 397.5 214.1Z" fill="#50f027" fill-rule="evenodd"/>
<path d="M394 214.1 358.1 214.1 357 213.5 354.7 211.6 352.7 209.1 350 202.7 347.4 192.1 347.2 183.6 348.5 176.1 351 169.1 354.5 163 358.6 158.6 362.4 156.1 367.5 154.4 378.5 152.4 385.5 152.9 388 152.3 390.2 150.6 397 143.6 399 142.7 400.5 142.6 403 143.5 407.5 146.5 419 150.9 423.5 153.6 426.5 156.3 429.9 161.1 431.2 164.1 431.5 167.1 430.3 171.6 427.8 177.1 423.3 184.1 419.7 188.1 414 193.6 407.2 201.6 401.8 206.1 396.2 212.6 394 214.1Z" fill="#5af025" fill-rule="evenodd"/>
<path d="M389.5 214.1 365.3 214.1 360.5 212.5 357.4 210.6 355 208.2 353.4 205.6 349.8 195.6 348.8 189.1 349.2 181.6 350.9 174.6 353.4 168.6 357 163.1 360.7 159.6 364.5 157.3 369.5 155.7 379 153.9 385.5 154.2 387.5 153.8 389.6 152.6 395.5 146.7 397.5 145.5 399.5 145.1 401.5 145.8 407.2 149.1 417.5 153 421.5 155.5 425.1 159.1 427.5 162.7 428.7 166.1 428.6 169.1 427.6 172.6 425.4 177.6 421 184.6 412.3 193.6 406.6 200.1 400.5 205.2 396.2 210.1 393 212.6 389.5 214.1Z" fill="#64f024" fill-rule="evenodd"/>
<path d="M384 213.2 376.5 213.5 368 212.5 362 210.7 359 209 357.5 207.6 355.5 205.1 354 202.2 351 193.1 350.4 185.6 351.4 178.6 353.3 173.1 356.4 167.1 359.6 163.1 363.5 159.9 368 157.8 377.5 155.6 381 155.2 385.5 155.5 387.5 155.1 389.2 154.1 393.8 149.6 396 148 397.5 147.5 399.5 147.6 404.5 150.4 415.4 154.6 420.5 157.9 423.8 161.6 425.7 165.1 426.3 167.6 426 171.1 423.7 177.1 420 183.6 405.7 199.1 400.2 203.6 393.5 210.1 389 212.2 384 213.2Z" fill="#73f025" fill-rule="evenodd"/>
<path d="M384 211.1 377 211.4 369.5 210.7 362.5 208.5 359 206 357 203.6 355.6 201.1 352.5 192.6 351.9 186.6 352.8 180.1 355 173.4 357.5 168.7 361.2 164.1 364.9 161.1 368 159.6 377.3 157.1 380 156.6 387 156.5 390.7 154.1 394 151.1 396 150 398 149.7 404 152.5 412.6 155.6 418.2 159.1 421 162.1 423 165.3 423.9 168.6 423.7 171.6 422 176.6 418.9 182.6 414.5 188 405.5 197.4 392.5 208.6 389 210.1 384 211.1Z" fill="#86f029" fill-rule="evenodd"/>
<path d="M384.5 208.6 375.5 208.9 369 208 364.5 206.5 360.9 204.1 358.1 200.6 354.9 193.1 354 187.1 354.6 181.1 356.3 175.6 358.9 170.6 362 166.5 366 163 369.7 161.1 377 159 381 158.3 385.5 158.3 387.5 157.9 394 153.1 396 152.4 397.5 152.5 402 154.6 410.5 157.6 415.5 160.7 418.5 163.9 420.3 167.1 421 169.6 420.7 173.1 418.6 179.1 416 183.6 413.5 186.7 404 196.6 392 206.3 388.5 207.8 384.5 208.6Z" fill="#99f02e" fill-rule="evenodd"/>
<path d="M385 206.2 377 206.6 370.5 205.8 366.5 204.6 362.6 202.1 359.5 198.1 356.7 191.6 356 187.1 356.6 181.6 358 176.9 361 171.2 364.4 167.1 368 164.2 372.5 162.2 379 160.4 387 159.6 394 155.1 396.5 155.1 408 159.3 410.6 160.6 413.9 163.1 416.4 166.1 417.7 168.6 418.2 171.1 418 173.6 416 179.7 413.5 184 410.5 187.7 404 194.3 392.5 203.5 389 205.2 385 206.2Z" fill="#aeee31" fill-rule="evenodd"/>
<path d="M384 204.1 376 204.3 369.5 203.1 365.5 201.2 362.3 198.1 359.2 192.6 358.2 189.1 358 186.6 358.1 184.1 358.9 180.1 361.6 174.1 366 168.4 371 164.8 380 161.8 387 161.1 393.5 157.4 396 157.5 406 161 409 162.6 413 166.2 414.6 168.6 415.4 171.1 415.1 175.6 414.2 178.6 412.5 182.2 409.3 186.6 400.2 195.6 391 202.1 388 203.3 384 204.1Z" fill="#c3ec35" fill-rule="evenodd"/>
<path d="M384 202.1 377 202.3 370.5 201.2 367 199.5 364 196.8 361 191.6 359.9 187.1 360.3 182.1 361.5 178.4 363 175.3 366.9 170.1 369.1 168.1 372 166.2 380 163.5 387.5 162.3 393 159.5 395 159.6 402 161.9 407 164.1 409.5 166.1 411.2 168.1 412.4 170.1 413 172.1 413 175.1 412.4 177.6 410 183.1 406.5 187.6 399 194.6 390.5 200.4 388 201.3 384 202.1Z" fill="#d3de37" fill-rule="evenodd"/>
<path d="M385 200.1 379 200.5 373 199.7 368.5 197.9 365.8 195.6 363.2 191.6 361.9 187.1 362.2 182.1 364.3 176.6 368 171.6 370.5 169.3 373 167.6 380.5 164.9 387.5 163.7 391.5 161.7 394.5 161.7 401.5 163.9 404.5 165.2 408.1 168.1 410.5 172.1 410.6 176.1 408.8 181.6 405 187 398.6 193.1 390.5 198.4 385 200.1Z" fill="#e0c438" fill-rule="evenodd"/>
<path d="M384.5 198.2 379.5 198.5 374 197.8 370 196.1 367.6 194.1 365.2 190.6 364 186.6 364.4 181.6 366 177.6 369.2 173.1 372.5 170.1 376 168.2 381 166.5 387 165.5 390.5 163.9 392.5 163.6 399.5 165.5 403 167.1 406.4 170.1 408.1 173.6 408 177.6 406.1 182.6 402.2 187.6 397 192.3 390 196.6 384.5 198.2Z" fill="#e3a434" fill-rule="evenodd"/>
<path d="M384.5 196.2 380 196.4 375 195.8 372 194.6 369 192.1 367 189.1 366.2 185.6 366.6 181.6 368.3 177.6 371.4 173.6 374 171.4 377.3 169.6 382 168 386.5 167.2 391.5 165.7 398 167.3 401 168.7 404.1 171.6 405.5 174.6 405.4 178.6 403.9 182.6 400.5 187 396 190.9 389.5 194.8 384.5 196.2Z" fill="#e4822f" fill-rule="evenodd"/>
<path d="M385 194.2 381 194.5 377.3 194.1 374 193.1 371 190.8 369 187.7 368.4 185.1 368.9 181.1 370.5 177.8 373.1 174.6 375.5 172.6 378.2 171.1 382.3 169.6 391 167.8 395 168.6 398.7 170.1 401.6 172.6 403.1 175.6 402.9 179.1 401.3 183.1 399 186.1 395 189.6 389 193.1 385 194.2Z" fill="#e66429" fill-rule="evenodd"/>
<path d="M385.5 191.7 382 192 379 191.8 376 190.9 373.5 189.1 372 187.1 371.3 184.6 371.5 182.1 372.4 179.6 374.1 177.1 376.7 174.6 379.1 173.1 382.5 171.8 390 170.3 394 171.1 396 171.9 398.2 173.6 399.8 176.1 399.9 179.1 399 182.1 397 184.9 393.5 188.1 389 190.6 385.5 191.7Z" fill="#e64b23" fill-rule="evenodd"/>
<path d="M384 189.6 381 189.6 378.5 189 376.5 187.9 375.2 186.6 374.5 185.1 374.2 183.1 374.5 181.4 375.6 179.1 379 175.7 384 173.5 389 172.7 392 173.2 394.5 174.4 396.2 176.1 396.9 178.1 396.7 180.6 395.5 183.1 393.2 185.6 390.5 187.5 387.5 188.9 384 189.6Z" fill="#e5371c" fill-rule="evenodd"/>
<path d="M385.5 187.2 381.5 187.3 378.5 185.8 377.5 184.6 377.1 183.1 377.9 180.1 380.5 177.3 384 175.6 388 175 391.5 175.8 393.1 177.1 393.8 178.6 393.8 180.6 393.2 182.1 392.1 183.6 390 185.3 385.5 187.2Z" fill="#e42f1a" fill-rule="evenodd"/>
<path d="M385 185.6 382 185.5 380 184.2 379.4 182.1 380.1 180.1 382.3 178.1 385 177 388 176.7 390.4 177.6 391.6 179.6 391 182.1 388.5 184.4 385 185.6Z" fill="#e42918" fill-rule="evenodd"/>
<path d="M386 184.1 383.5 184.3 382 183.6 381.3 182.6 381.4 181.1 382.5 179.6 384.5 178.5 386.5 178.1 388.5 178.5 389.6 179.6 389.4 181.6 388.1 183.1 386 184.1Z" fill="#e22515" fill-rule="evenodd"/>
</g>
<path d="M344.5 214.1 343.5 210.1 340.9 193.6 340.6 187.6 340.7 181.6 341.5 174.5 343 167.7 345 162.3 348 157.1 350.5 154.1 353.4 151.6 356.8 149.6 359.5 148.6 364.5 147.6 376.5 146.5 380 146.7 385 147.8 387.5 147.4 388.9 146.6 390.5 145.1 393.3 141.6 396 137.6 397.6 136.1 398.7 134.6 401.7 132.1 404.5 131.5 406 131.7 407.5 132.6 411.8 136.6 414.5 138.3 418 139.8 424 141.9 428 143.6 430 144.6 433.5 147 437.2 150.6 440.5 155.1 442 158 442.5 159.6 442.7 162.1 442.6 164.1 441.6 167.1 440.5 169.2 440 170.6 435.5 178.1 434.6 179.1 433.1 181.6 427.1 188.1 423 191.6 418.8 195.6 417.1 197.6 411.5 205.5 406.5 210.2 404.8 212.1 403.4 214.1" fill="none" stroke="#747474" stroke-width="0.9" stroke-linejoin="round"/>
<path d="M350.3 214.1 349.5 212.9 348 209.8 346.7 205.1 344.5 194.6 344 190.1 343.9 187.1 344.5 179.1 346 172.1 348.1 166.1 351 160.8 353.5 157.7 355.7 155.6 358.8 153.6 361.5 152.3 365.5 151.3 377 149.6 381 149.7 385 150.4 386.5 150.4 387.5 150 388.5 149.5 390.7 147.6 392.1 146.1 393 144.7 398 139.1 400 137.9 402 137.3 403.5 137.6 404.6 138.1 408.5 141.2 411 142.7 415 144.4 420 146 423.5 147.6 428.5 150.7 431.5 153.5 434.5 157.6 436.4 161.6 436.8 164.6 436 168.6 434.5 172.1 430.3 179.6 427 184.1 423.2 188.1 416 194.9 410 202.6 408.1 204.6 403 209.2 399.4 214.1" fill="none" stroke="#747474" stroke-width="0.9" stroke-linejoin="round"/>
<path d="M360.3 214.1 358 213 356 211.5 354 209.4 352.8 207.6 351.6 205.1 349.9 200.1 348.2 193.1 347.7 187.6 348.2 180.6 349.2 176.1 350.2 173.1 352.8 167.1 355 163.6 357.5 160.7 359.5 158.8 362.5 156.9 366.5 155.3 376.5 153.3 380 152.9 385 153.4 387 153.1 388.5 152.5 390.5 150.8 394.4 146.6 396 145.2 398.5 143.7 400 143.5 402 144.1 405.5 146.5 407.6 147.6 414 149.8 419 152 421.5 153.4 423.5 154.9 426.5 158 429.2 162.1 430.3 165.1 430.3 168.1 430 170.1 427.8 175.6 425.4 180.1 422.6 184.1 420.9 186.1 412.9 194.1 406.9 201.1 400.5 206.6 395.7 212.1 393 214.1" fill="none" stroke="#747474" stroke-width="0.9" stroke-linejoin="round"/>
<path d="M384 211.1 377 211.4 369.5 210.7 365.5 209.7 362.5 208.5 359 206 357 203.6 355.6 201.1 354 197.3 352.5 192.6 352.1 189.6 351.9 186.6 352.1 183.6 352.8 180.1 353.5 177.3 355 173.4 357.5 168.7 359 166.6 361.2 164.1 364.9 161.1 368 159.6 377.3 157.1 380 156.6 385 156.7 387 156.5 388.5 155.8 390.7 154.1 391.6 153.1 394 151.1 396 150 398 149.7 399.5 150.2 404 152.5 412.6 155.6 415.5 157.2 418.2 159.1 421 162.1 423 165.3 423.5 166.6 423.9 168.6 423.7 171.6 422 176.6 420.6 179.6 418.9 182.6 414.5 188 410.5 192 405.5 197.4 403.1 199.6 399 202.7 395.5 206.3 392.5 208.6 389 210.1 384 211.1" fill="none" stroke="#747474" stroke-width="0.9" stroke-linejoin="round"/>
<path d="M385 204.7 381.5 205 377.5 205.1 373.5 204.7 370 204 367 202.9 365.5 202.1 363.5 200.6 362.1 199.1 360.1 196.1 358.7 193.1 357.8 190.1 357.4 187.6 357.5 184.1 358.2 180.6 359.4 177.1 360.6 174.6 362.5 171.6 364.5 169 367.5 166.2 370 164.6 373.5 163.1 379.5 161.4 387 160.6 389.5 159.3 392.5 157.2 394 156.6 395 156.5 396.5 156.8 401 158.6 405 159.9 408.9 161.6 411.1 163.1 413.2 165.1 415.3 168.1 416.2 170.6 416.4 172.6 415.6 176.6 414.7 179.1 413.3 182.1 410 186.6 403.7 193.1 400.5 196 396.5 198.8 393.5 201.3 391 202.9 388.5 203.9 385 204.7" fill="none" stroke="#747474" stroke-width="0.9" stroke-linejoin="round"/>
<path d="M384 199.6 378 199.8 375.5 199.6 372 198.7 369 197.4 367.3 196.1 365.9 194.6 364.5 192.6 363.5 190.6 362.7 188.1 362.5 186.1 362.5 184.1 363 181.4 364 178.6 365.3 176.1 367 173.6 369.3 171.1 371.7 169.1 374 167.8 376.8 166.6 381 165.3 386.5 164.5 388 164 390.5 162.7 392 162.2 393.5 162.2 399.5 163.9 402.5 165 404.5 166.1 406.5 167.6 408.2 169.6 409.4 171.6 409.9 173.6 409.8 176.6 409.2 179.1 407 183.6 404.7 186.6 401.8 189.6 399 192.1 397 193.6 390 198 387 199.1 384 199.6" fill="none" stroke="#747474" stroke-width="0.9" stroke-linejoin="round"/>
<path d="M385 194.2 381 194.5 377.3 194.1 374 193.1 372.4 192.1 371 190.8 370 189.6 369 187.7 368.4 185.1 368.5 182.8 368.9 181.1 370.5 177.8 373.1 174.6 375.5 172.6 378.2 171.1 382.3 169.6 386.5 168.8 389.5 167.9 391 167.8 395 168.6 398.7 170.1 400.2 171.1 401.6 172.6 402.6 174.1 403.1 175.6 403.2 177.6 402.9 179.1 402.5 180.7 401.3 183.1 399 186.1 395 189.6 389 193.1 385 194.2" fill="none" stroke="#747474" stroke-width="0.9" stroke-linejoin="round"/>
<path d="M384.5 186.6 383 186.7 381 186.3 379.7 185.6 378.7 184.6 378.2 183.6 378.1 182.1 378.3 181.1 379.2 179.6 380.5 178.2 382 177.2 384 176.3 385.5 175.9 387.5 175.7 389 175.8 391.5 176.9 392.3 177.6 392.9 179.1 392.9 180.6 392.3 182.1 391 183.6 389.5 184.9 386.5 186.3 384.5 186.6" fill="none" stroke="#747474" stroke-width="0.9" stroke-linejoin="round"/>
</g>
<rect x="333.9" y="122.5" width="155.5" height="88.7" fill="none" stroke="#dcdcf4" stroke-width="0.8"/>
<rect x="333" y="121.6" width="157.3" height="90.5" fill="none" stroke="#333333" stroke-width="1"/>
<line x1="331" y1="123" x2="333" y2="123" stroke="#333333" stroke-width="0.8"/>
<text x="330" y="125.3" font-size="6.5" text-anchor="end" fill="#262626">2.0</text>
<line x1="331" y1="140.58" x2="333" y2="140.58" stroke="#333333" stroke-width="0.8"/>
<text x="330" y="142.88" font-size="6.5" text-anchor="end" fill="#262626">1.8</text>
<line x1="331" y1="158.16" x2="333" y2="158.16" stroke="#333333" stroke-width="0.8"/>
<text x="330" y="160.46" font-size="6.5" text-anchor="end" fill="#262626">1.6</text>
<line x1="331" y1="175.74" x2="333" y2="175.74" stroke="#333333" stroke-width="0.8"/>
<text x="330" y="178.04" font-size="6.5" text-anchor="end" fill="#262626">1.4</text>
<line x1="331" y1="193.32" x2="333" y2="193.32" stroke="#333333" stroke-width="0.8"/>
<text x="330" y="195.62" font-size="6.5" text-anchor="end" fill="#262626">1.2</text>
<line x1="331" y1="210.9" x2="333" y2="210.9" stroke="#333333" stroke-width="0.8"/>
<text x="330" y="213.2" font-size="6.5" text-anchor="end" fill="#262626">1.0</text>
<line x1="333" y1="212.1" x2="333" y2="214.1" stroke="#333333" stroke-width="0.8"/>
<text x="333" y="221.4" font-size="6.5" text-anchor="middle" fill="#262626">0</text>
<line x1="344.24" y1="212.1" x2="344.24" y2="213.3" stroke="#333333" stroke-width="0.8"/>
<line x1="355.47" y1="212.1" x2="355.47" y2="214.1" stroke="#333333" stroke-width="0.8"/>
<text x="355.47" y="221.4" font-size="6.5" text-anchor="middle" fill="#262626">2</text>
<line x1="366.71" y1="212.1" x2="366.71" y2="213.3" stroke="#333333" stroke-width="0.8"/>
<line x1="377.94" y1="212.1" x2="377.94" y2="214.1" stroke="#333333" stroke-width="0.8"/>
<text x="377.94" y="221.4" font-size="6.5" text-anchor="middle" fill="#262626">4</text>
<line x1="389.18" y1="212.1" x2="389.18" y2="213.3" stroke="#333333" stroke-width="0.8"/>
<line x1="400.41" y1="212.1" x2="400.41" y2="214.1" stroke="#333333" stroke-width="0.8"/>
<text x="400.41" y="221.4" font-size="6.5" text-anchor="middle" fill="#262626">6</text>
<line x1="411.65" y1="212.1" x2="411.65" y2="213.3" stroke="#333333" stroke-width="0.8"/>
<line x1="422.89" y1="212.1" x2="422.89" y2="214.1" stroke="#333333" stroke-width="0.8"/>
<text x="422.89" y="221.4" font-size="6.5" text-anchor="middle" fill="#262626">8</text>
<line x1="434.12" y1="212.1" x2="434.12" y2="213.3" stroke="#333333" stroke-width="0.8"/>
<line x1="445.36" y1="212.1" x2="445.36" y2="214.1" stroke="#333333" stroke-width="0.8"/>
<text x="445.36" y="221.4" font-size="6.5" text-anchor="middle" fill="#262626">10</text>
<line x1="456.59" y1="212.1" x2="456.59" y2="213.3" stroke="#333333" stroke-width="0.8"/>
<line x1="467.83" y1="212.1" x2="467.83" y2="214.1" stroke="#333333" stroke-width="0.8"/>
<text x="467.83" y="221.4" font-size="6.5" text-anchor="middle" fill="#262626">12</text>
<line x1="479.06" y1="212.1" x2="479.06" y2="213.3" stroke="#333333" stroke-width="0.8"/>
<line x1="490.3" y1="212.1" x2="490.3" y2="214.1" stroke="#333333" stroke-width="0.8"/>
<text x="490.3" y="221.4" font-size="6.5" text-anchor="middle" fill="#262626">14</text>
<text x="411.65" y="229.6" font-size="9.2" text-anchor="middle" fill="#262626">&#954; (&#197;<tspan font-size="6" dy="-3.2">-1</tspan><tspan dy="3.2">)</tspan></text>
<text x="315.6" y="161.7" font-size="9" text-anchor="middle" fill="#262626" transform="rotate(-90 315.6 161.7)">R+&#916;R (&#197;)</text>
<text x="485.5" y="205" font-size="13.9" text-anchor="end" fill="#ffffff">NiPc</text>
<clipPath id="clip3"><rect x="523.5" y="121.8" width="157.7" height="90.3"/></clipPath>
<g clip-path="url(#clip3)">
<g filter="url(#hblur)">
<rect x="521.5" y="119.8" width="161.7" height="94.3" fill="#0c00ff"/>
<path d="M683 213.8 521.5 213.8 521.5 119.8 683 119.8 683 213.8Z" fill="#0e06ff" fill-rule="evenodd"/>
<path d="M683 213.8 521.5 213.8 521.5 119.8 683 119.8 683 213.8Z" fill="#0f0aff" fill-rule="evenodd"/>
<path d="M683 213.8 521.5 213.8 521.5 119.8 683 119.8 683 213.8Z" fill="#100dff" fill-rule="evenodd"/>
<path d="M683 213.8 521.5 213.8 521.5 119.8 683 119.8 683 213.8Z" fill="#1211ff" fill-rule="evenodd"/>
<path d="M683 213.8 521.5 213.8 521.5 119.8 683 119.8 683 213.8Z" fill="#1519ff" fill-rule="evenodd"/>
<path d="M683 213.8 521.5 213.8 521.5 119.8 683 119.8 683 213.8Z" fill="#1823ff" fill-rule="evenodd"/>
<path d="M683 213.8 521.5 213.8 521.5 119.8 683 119.8 683 213.8Z" fill="#1c2cff" fill-rule="evenodd"/>
<path d="M683 213.8 521.5 213.8 521.5 119.8 683 119.8 683 213.8Z" fill="#2038ff" fill-rule="evenodd"/>
<path d="M683 213.8 521.5 213.8 521.5 119.8 683 119.8 683 213.8Z" fill="#2647ff" fill-rule="evenodd"/>
<path d="M683 213.8 521.5 213.8 521.5 119.8 683 119.8 683 213.8Z" fill="#2c55ff" fill-rule="evenodd"/>
<path d="M683 213.8 521.5 213.8 521.5 119.8 683 119.8 683 213.8Z" fill="#3264ff" fill-rule="evenodd"/>
<path d="M683 213.8 521.5 213.8 521.5 119.8 683 119.8 683 213.8ZM527.4 132.8 530 129.4 531.3 125.3 531 122.3 530 121 529 120.7 527 120.9 525.5 121.6 524.4 122.8 524 124.3 525.4 132.3 526 133.1 527.4 132.8Z" fill="#3a75ff" fill-rule="evenodd"/>
<path d="M683 213.8 521.5 213.8 521.5 119.8 523.3 119.8 522 121.4 521.5 123.8 522.8 131.3 522.4 139.3 522.6 140.3 523.5 140.9 525 140 527 137.7 529.5 134 531.5 130 533 124.3 532.9 121.8 532.2 119.8 683 119.8 683 213.8ZM640.6 163.8 642.2 162.8 641.4 161.8 639 161.7 637.5 162.8 638.5 163.6 640.6 163.8ZM587.7 169.8 588.1 169.3 587.5 168.7 586 168.7 585.5 169.3 586.5 170 587.7 169.8ZM667.1 207.3 670.5 206.3 673 204.3 674.4 200.3 676.2 196.8 676.3 195.3 676 194.3 674.7 192.8 673 191.7 667.5 189.7 661.5 189.5 657 190.6 656 191.8 656.2 192.8 660.1 197.3 660.9 199.3 660.4 200.8 657.8 204.8 657.5 206.8 661 207.6 667.1 207.3Z" fill="#4286ff" fill-rule="evenodd"/>
<path d="M683 213.8 521.5 213.8 521.5 147.4 524 145.2 526.5 142 531.7 132.8 534.1 125.8 534.5 122.8 534.2 119.8 683 119.8 683 194.9 681.4 192.8 678 190.4 674 188.4 670 187.2 666 186.8 661 186.8 652.5 188 649.9 189.3 649.1 190.8 649.5 192.3 653 196.3 654 198.3 653.8 200.3 652.2 202.8 650.5 204.5 648.5 205.6 638 208 636.2 208.8 635.3 209.8 635.9 210.8 638 211.6 644.5 212.3 665.5 210.8 671.5 210 676 208.6 679.4 206.3 681.2 203.8 683 199.4 683 213.8ZM676.1 172.8 678 171.6 679.9 169.3 681 166.8 681.6 163.8 681.5 160.3 680.6 157.3 679.2 154.8 677.5 154.4 674 155 671 157.3 668.7 160.8 667.2 165.3 668.3 168.8 670.5 171.7 673 173 676.1 172.8ZM641.4 164.3 642.7 163.8 643.4 162.8 642.9 161.8 642 161.3 640.5 161 638.6 161.3 637.4 161.8 636.7 162.8 637 163.7 638 164.2 641.4 164.3ZM587.6 170.3 588.8 169.3 588 168.5 586.5 168.2 585.1 168.8 584.9 169.3 585.5 170.1 587.6 170.3Z" fill="#50a6fe" fill-rule="evenodd"/>
<path d="M640.5 213.8 521.5 213.8 521.5 151.5 527 144.3 532.5 134.3 535.1 126.8 535.7 119.8 683 119.8 683 150.8 681.5 149.2 680 148.9 677 149 674 149.9 671.5 151.5 669.5 153.3 667.2 156.3 665.4 159.3 663.8 163.8 663 167.8 664.8 173.8 668.7 180.3 668.5 181.8 664.9 183.3 648.5 185.9 645 187.1 643.9 188.3 643.2 189.8 643.4 191.8 647.1 196.3 647.9 197.8 648 199.3 647.2 201.3 645.9 202.8 644 204.1 633 207.6 631 208.8 630.4 209.8 631.1 211.3 633 212.3 636.5 213.2 640.9 213.8 640.5 213.8ZM642.1 164.8 644 163.9 644.6 162.8 644.1 161.8 642.5 160.8 640 160.6 638 161 636.5 161.8 635.9 162.8 636 163.8 637.5 164.7 640 165.1 642.1 164.8ZM588.6 170.3 589.2 169.8 589.1 168.8 587.5 168 585.2 168.3 584.4 169.3 585 170.2 586 170.6 588.6 170.3ZM683 188.7 678.5 185.3 677.5 183.3 678.5 181.3 683 176.5 683 188.7ZM683 213.8 664.3 213.8 675 212.6 679.5 211.4 683 209.8 683 213.8Z" fill="#61cdf9" fill-rule="evenodd"/>
<path d="M629.5 213.8 521.5 213.8 521.5 155.3 528 145.9 533.3 135.8 536.1 127.8 537.1 119.8 683 119.8 683 142.2 677 143.7 672.5 145.9 670.5 147.5 664.7 154.3 661.6 159.8 657.9 169.3 658.3 176.8 657.9 178.3 657.2 179.3 655.8 180.3 653.5 181.2 645.5 183 641.9 185.3 639.9 187.3 639.1 188.8 638.9 190.8 640.9 197.8 640.7 199.8 639.9 201.3 638.3 202.8 629.5 207 626.5 209.3 626 210.3 626.2 211.8 629.5 213.8ZM643.2 165.3 645.1 164.3 645.9 162.8 645 161.3 643.5 160.5 640.5 160.2 638 160.6 636 161.5 635.1 162.8 635.5 164.4 637 165.2 640 165.7 643.2 165.3ZM588.3 170.8 589.8 169.8 589.7 168.8 589 168.2 587.5 167.7 586 167.8 584.1 168.8 584.1 169.8 585 170.6 586.5 171 588.3 170.8Z" fill="#69e1f4" fill-rule="evenodd"/>
<path d="M620 213.8 522.5 213.8 521.5 213 521.5 160 529.3 147.3 534.6 136.8 537.2 128.8 538.3 119.8 678.3 119.8 679.7 123.8 680.3 127.8 680 131.3 678.7 134.3 676.7 136.8 673 140.1 669.6 146.3 666.5 150.7 658.9 157.3 654 165 651.5 167.3 647 170 645.5 171.4 644.5 173.3 643.7 177.3 642.6 179.3 636.5 185.1 634.6 187.8 634.1 190.8 634.8 196.3 633.7 199.8 631.1 202.8 624 207.1 622 208.8 620.7 210.8 620 213.8ZM644.8 166.3 647 165.1 647.9 163.3 647.3 161.8 645.3 160.3 641.5 159.8 638.5 160 635.5 161.2 634.4 162.8 634.4 163.8 635 165.3 636.5 166 640.5 166.8 644.8 166.3ZM589.3 170.8 590 170.3 590.4 169.3 589.7 168.3 588.5 167.7 586.5 167.5 585 167.8 584.1 168.3 583.5 169.3 583.9 170.3 585.5 171.1 587.5 171.3 589.3 170.8Z" fill="#6de9ed" fill-rule="evenodd"/>
<path d="M602.5 213.8 538.4 213.8 534.5 212.1 530 209.2 525 205.3 522 201.9 521.5 201 521.5 170 525.9 157.3 534.8 139.3 537.3 133.3 538.8 127.8 539.6 119.8 671 119.8 672.1 125.8 672 137.3 670.4 142.3 666.9 148.3 664.8 150.8 662 153.3 657.5 156.6 654 158.5 650 159.7 642 159.2 639 159.4 636.5 160.1 634.5 161.3 633.8 162.3 633.5 163.8 634.3 166.8 635.7 168.8 635.6 177.3 633.4 184.3 627 197.9 625.2 200.3 623 202.3 612.5 209.8 608.5 211.9 602.5 213.8ZM589 171.3 590.1 170.8 590.9 169.8 590.7 168.8 589.5 167.8 586 167.3 584.4 167.8 583.2 168.8 583.1 169.8 584.5 171.1 586.5 171.6 589 171.3Z" fill="#70f0e6" fill-rule="evenodd"/>
<path d="M585.5 213.8 554.4 213.8 541.5 211.4 536.8 209.8 532 206.8 526.5 202.4 524 198.8 522.3 192.8 521.5 184.8 522.1 179.3 524.7 165.8 527.1 157.8 535.7 139.8 538.2 133.8 540.5 124.8 540.9 119.8 665.7 119.8 669.4 127.8 670.7 133.3 670.4 138.3 668.2 143.8 666 147.5 663.5 150.4 659 154 655 156.5 652.5 157.6 649.2 158.3 638 159.1 635.5 160 633.5 161.4 632.5 163.8 632.5 170.8 633.1 178.3 632.8 181.8 631.5 185.3 628 192.1 624.6 197.3 621.5 200.3 617 203.8 613 206.5 609.5 208.3 596.5 212.4 585.5 213.8ZM588.1 171.8 590 171.3 591.3 170.3 591.3 168.8 590.1 167.8 588 167.1 586 167.1 584 167.7 582.8 168.8 582.9 170.3 584 171.2 586 171.8 588.1 171.8Z" fill="#6ff0dc" fill-rule="evenodd"/>
<path d="M579.5 212.8 558 212.8 540.5 209.6 536 207.6 529.9 203.3 526.7 200.3 525 197.3 523.4 190.3 523.1 184.3 526.4 164.3 528.7 157.3 538.8 135.3 540.7 128.8 542.3 119.8 664.1 119.8 667.8 127.8 669.2 133.3 668.9 138.3 666.8 143.8 665.3 146.3 663 149.2 659.5 152.1 655 155 650 156.7 638 158.4 634.7 159.8 632.6 161.3 631.6 163.3 631 168.3 631.6 178.3 631.1 182.3 630 185.3 626.5 191.8 623 196.8 619.8 199.8 614.5 203.8 611 206 607.5 207.5 595 211.2 579.5 212.8ZM589.7 171.8 591.5 170.8 592.1 169.8 591.5 168.3 590 167.4 588 166.9 585.5 167 583.5 167.7 582.4 168.8 582.4 170.3 584 171.6 586.5 172.1 589.7 171.8Z" fill="#6ff0d3" fill-rule="evenodd"/>
<path d="M580 211.3 558.5 211.3 541.5 208.3 537 206.5 531.7 202.8 528.3 199.8 526.5 196.8 525 190.3 524.6 184.3 527.9 164.3 530.2 157.3 535.3 145.3 538.1 140.3 539.9 135.8 541.3 130.8 543.3 119.8 662.5 119.8 666.3 127.8 667.7 133.3 667.6 138.8 665.4 144.8 663.8 147.3 661.8 149.3 654.5 153.7 650 155.2 640 156.9 631.4 161.3 630.4 163.3 629.5 167.8 630.1 178.3 629.6 182.3 628.4 185.3 625.1 191.3 621.9 195.8 618.7 198.8 613.5 202.7 610.5 204.5 607 206.1 595 209.7 580 211.3ZM589 172.3 591.5 171.4 592.6 170.3 592.5 168.8 591 167.5 588.5 166.8 585.5 166.8 583.5 167.4 581.9 168.8 581.9 170.3 583.5 171.7 586 172.4 589 172.3Z" fill="#6ef0c9" fill-rule="evenodd"/>
<path d="M576 210.3 557 210 541 207 537.5 205.4 531.5 201.2 529 198.7 527.4 195.8 525.9 188.8 525.8 183.8 528.9 164.8 530.3 159.8 534.8 149.3 535.9 145.8 539.5 139.8 541.5 135 542.6 130.8 544.3 119.8 660.9 119.8 665.7 129.8 667 134.3 666.9 139.3 665 144.4 662 148.4 655.9 152.3 651 154 640.5 155.7 630.6 161.3 629.1 164.3 628.3 167.8 629.1 178.8 628.6 182.8 625.6 188.8 621 195.2 618 197.9 612.5 202 609 204 605.5 205.4 597.5 207.9 593 208.9 576 210.3ZM590.4 172.3 592.4 171.3 593.4 169.8 592.7 168.3 591 167.2 588.5 166.5 585.5 166.5 583.1 167.3 581.4 168.8 581.2 169.8 581.7 170.8 583.5 172.1 587 172.8 590.4 172.3Z" fill="#6bf0bb" fill-rule="evenodd"/>
<path d="M583 209.3 575.5 209.7 559.5 209.6 542.8 206.8 538.5 205.2 534 202.3 530 198.9 528 195.8 526.7 189.8 526.3 184.3 529.8 163.8 531.3 158.8 536.9 145.3 540 140.1 542.6 133.8 544 129.3 545.3 119.8 659.4 119.8 664.6 128.8 666.5 134.8 666.5 137.8 665.9 140.8 664.4 144.3 662.7 146.8 659.5 149.5 654.5 152.3 650.5 153.5 640.5 155.1 630.3 160.8 628.6 163.8 627.8 167.3 627.7 170.8 628.5 179.3 627.8 183.3 626.1 186.8 622.5 192.4 620 195.3 617 197.9 610.5 202.5 605 204.9 594.5 208 583 209.3ZM589.9 172.8 592.5 171.8 593.9 170.3 593.9 169.3 593.5 168.5 591.5 167.1 588.5 166.3 585 166.4 582.4 167.3 580.9 168.8 580.7 169.8 581.1 170.8 583 172.3 586.5 173.1 589.9 172.8Z" fill="#68f0ac" fill-rule="evenodd"/>
<path d="M581.5 208.8 559.5 209 542.5 206.1 538.5 204.6 533.5 201.2 530.3 198.3 528.5 195.3 527.3 189.8 527 184.3 530.4 163.8 533 156.3 542.9 134.8 545.5 125.8 546.4 119.8 658.4 119.8 660.7 122.8 663.5 127.8 665 131.3 665.8 134.3 665.9 137.3 665.4 140.3 664 143.8 662.4 146.3 659.5 148.9 654.5 151.6 650.5 152.9 640.5 154.4 629.6 160.8 628 163.8 627.1 167.3 627.9 179.3 627.2 183.3 625.4 186.8 621.8 192.3 619.5 194.9 616 197.9 609 202.6 600.5 205.7 593 207.6 581.5 208.8ZM588.8 173.3 591.5 172.7 593.8 171.3 594.5 170.3 594.5 169.3 593.5 167.8 590.1 166.3 586 166 582.5 166.9 580.4 168.8 580.2 169.8 580.5 170.8 582.2 172.3 585 173.2 588.8 173.3Z" fill="#65f09d" fill-rule="evenodd"/>
<path d="M580.5 208.3 559.5 208.4 543 205.6 538.5 203.8 534 200.8 530.7 197.8 529 194.8 527.8 188.8 527.6 183.8 531.1 163.3 534.1 155.3 543.1 135.8 545.1 129.8 547.5 119.8 657.6 119.8 660 122.9 663 128.3 664.5 131.8 665.2 134.8 665.3 137.8 664.6 140.8 663.3 143.8 661.6 146.3 658 149.1 653 151.6 649.5 152.5 640.5 153.8 629.3 160.3 627.5 163.3 626.6 166.8 626.5 170.3 627.2 179.3 626.5 183.3 624.7 186.8 621.1 192.3 618.5 195 615.2 197.8 608 202.4 598.5 205.7 592 207.2 580.5 208.3ZM590.7 173.3 593.5 172.1 595.1 170.3 595.2 169.3 594.7 168.3 592.5 166.7 589 165.8 585 165.9 582 166.8 579.8 168.8 579.6 169.8 580 171 582.5 172.9 586.5 173.7 590.7 173.3Z" fill="#60f087" fill-rule="evenodd"/>
<path d="M576 207.3 559 207.1 542.5 204.1 538.5 202.4 533.5 198.8 531.2 196.3 529.9 193.3 528.9 187.8 528.9 183.3 532.4 163.3 535.7 154.8 543.9 137.3 545.7 131.8 547.9 123.3 549.4 119.8 655.9 119.8 659.7 124.8 663.5 132.8 664.1 137.8 662.5 142.8 659.9 146.3 655 149.4 650.5 151 640 152.6 634.6 156.3 628 159.9 626.2 163.3 625.3 166.8 625.2 170.3 626 178.8 625.5 182.3 623.3 186.8 619 192.8 615.7 195.8 610.5 199.6 607.5 201.3 604 202.7 593 205.8 576 207.3ZM588.4 174.3 592.5 173.5 595.4 171.8 596.4 169.8 595.6 167.8 594.3 166.8 592 165.8 587 165.2 582 166.1 580 167.2 578.9 168.3 578.5 169.3 578.6 170.8 580.5 172.8 584 174 588.4 174.3Z" fill="#59f069" fill-rule="evenodd"/>
<path d="M578.5 205.3 560 205.3 544 202.5 540 201 536 198.3 533.4 195.8 531.9 192.8 530.9 188.3 530.8 183.8 534.3 163.8 536.9 156.8 544.7 139.8 549 123.8 550.8 119.8 654.2 119.8 656.5 122.2 658.3 124.8 659.9 127.8 661.1 131.3 661.8 136.3 661.5 138.8 660.5 141.3 658 144.7 654 147.4 649.5 149.1 641 150.4 634.3 155.3 625.5 160.3 624.1 163.3 623.4 166.8 623.9 177.8 623.5 181.3 621.5 185.5 617.5 191.4 614.5 194.2 610 197.6 604 200.6 593 203.8 578.5 205.3ZM590 174.8 594.5 173.5 597.2 171.3 597.6 170.3 597.5 168.8 595.8 166.8 593.5 165.6 591 164.9 585.1 164.8 582.4 165.3 580 166.3 578.5 167.3 577.4 168.8 577.2 170.3 577.6 171.3 578.9 172.8 580.5 173.7 585 174.9 590 174.8Z" fill="#52f050" fill-rule="evenodd"/>
<path d="M581.5 201.8 574 202.2 561.5 202.1 546.5 199.7 542.5 198.4 539.5 196.7 536.8 194.3 535 191.3 534.2 187.3 534.2 183.3 537.2 165.8 538.8 160.8 542.5 152.3 542.7 148.8 543.6 145.3 545.6 141.8 548.8 137.8 549.5 133.3 549.4 126.8 550.6 122.8 552.2 119.8 652.2 119.8 654 122.2 655.3 124.8 658.3 133.8 658.6 136.3 658.3 138.3 656.5 141.8 654.1 143.8 651 145.3 643 146.9 638.9 150.8 634.2 154.3 621.3 161.3 620 166.8 620.5 177.3 620.1 180.8 618.8 183.8 616.5 187.3 614.4 189.8 611.6 192.3 605.7 196.3 598.5 198.9 591.5 200.7 581.5 201.8ZM591.5 175.3 596.5 173.4 597.8 172.3 598.8 170.8 598.9 169.3 598.3 167.8 597 166.5 595 165.4 592.5 164.6 590 164.3 581.8 164.8 578.2 166.3 577 167.3 576 168.8 575.9 170.3 576.4 171.8 577.8 173.3 580 174.5 585.5 175.7 591.5 175.3Z" fill="#4cf03b" fill-rule="evenodd"/>
<path d="M578 198.8 561.5 198.9 547.5 196.6 544 195.4 541.3 193.8 539.3 191.8 538 189.3 537.5 186.3 537.5 183.3 540 168.3 541.5 162.8 545 154.8 544.1 151.3 544.3 147.8 545.3 144.8 547 141.8 552.5 135.8 552.8 131.8 552.1 122.8 553.7 119.8 648.2 119.8 651.6 124.8 654.3 131.8 655.1 135.8 654.4 138.8 653 140.5 650.5 142 644 143.5 639 149.3 631.8 154.8 625.5 158.3 617.6 161.8 616.7 167.3 616.9 179.3 615.5 182.8 612.7 186.8 606.5 192 601 194.7 591.5 197.4 578 198.8ZM590.7 176.3 596 174.7 599.4 172.3 600.3 170.8 600.4 169.3 599.8 167.8 598.4 166.3 596.5 165.1 594 164.2 589.5 163.9 584.5 164 578.5 165.1 576 166.7 574.8 168.3 574.4 169.8 574.8 171.8 576 173.4 578.1 174.8 581 175.9 584 176.5 590.7 176.3Z" fill="#4bf035" fill-rule="evenodd"/>
<path d="M574 195.8 561 195.6 548.5 193.4 545.5 192.4 543.5 191.1 541.9 189.3 541.1 187.3 541 182.3 543.4 168.3 544.6 163.8 547.6 156.8 545.8 151.8 545.9 147.3 547 144.3 549.2 140.8 552 137.7 556 134.3 555.3 124.3 556.2 119.8 642.8 119.8 644.5 121.1 647.3 124.8 650.4 131.3 651.2 134.8 650.6 137.3 648.5 139.1 644 140.3 642.2 143.8 640 146.8 636.4 150.3 632.4 153.3 624.6 157.8 614 162.3 613.2 168.8 613.5 178.3 612.5 181.3 610 184.8 607 187.5 603.5 189.9 595.5 193 588.5 194.6 574 195.8ZM591 177.3 597 175.5 601.2 172.8 602.4 171.3 602.9 169.8 602.5 168.3 601.7 167.3 599 165.2 596.5 164 586.5 163.5 576.7 164.8 574.5 166.3 573 168.3 572.6 170.3 573.1 172.3 574.7 174.3 577 175.8 580 176.9 583.5 177.5 591 177.3Z" fill="#49f02f" fill-rule="evenodd"/>
<path d="M577 192.8 571 193 563.5 192.8 552 190.9 547 189.2 545.4 187.8 544.5 185.8 544.4 181.8 546.6 168.8 547.9 164.3 550.6 157.8 548.7 155.3 547.6 152.8 547.1 149.8 547.6 146.8 549 143.3 551.5 139.8 554.5 136.8 559.5 132.8 559.3 124.3 559.9 121.8 561 120 574.1 119.8 586 122 600.5 120.1 612.8 119.8 620.5 120.6 628 122 633 121.9 636.5 122.2 639.5 123.1 641.5 124.5 645.2 129.8 646.1 131.8 646.4 133.8 645.5 135.6 643.3 136.8 642 141.3 639.7 145.3 634.9 150.3 628.4 154.8 620 159 610.7 162.3 609 166.7 607 166.9 598.5 163.6 590 163 583 163.3 575.5 164.3 573.9 164.8 572.1 166.3 571 167.8 570.3 169.8 570.4 171.8 571.2 173.8 574 176.6 579 178.5 585.5 179.2 592 178.6 596 177.6 607.5 172.9 609 173.3 609.7 174.8 609.7 178.3 608.3 181.3 605.5 184.3 601.5 187.1 597.5 188.9 591.5 190.7 577 192.8Z" fill="#48f029" fill-rule="evenodd"/>
<path d="M576 190.8 568.5 191 561.5 189.5 558 187.8 553.3 184.8 551.9 183.3 551.4 181.8 552.4 169.3 555.8 159.8 552.2 156.8 550.2 153.8 549.2 150.3 549.6 146.8 551.3 142.8 554 139.3 557.8 135.8 563.5 131.8 564.3 127.8 565.5 125.5 567 124.6 569 124.3 578.5 125.2 589.5 122.6 599 121.2 606 120.7 612.5 120.8 620.5 121.7 627.5 123.4 633 125.8 637.8 129.3 639.9 132.3 640.9 135.3 640.8 138.8 639.6 142.3 637.3 145.8 634 149.3 629.4 152.8 624.3 155.8 615 159.9 606 162.4 601 162.8 589.5 162.5 583 162.8 571 164.1 569.1 165.3 567.1 167.8 566 170.8 565.6 175.8 566.4 177.8 570.1 179.3 583.6 181.8 585.7 182.8 587 184.3 586.4 186.3 584.1 188.3 580.5 189.9 576 190.8Z" fill="#50f027" fill-rule="evenodd"/>
<path d="M575.5 162.8 567.5 162.6 563.5 161.6 560 160.2 556.9 158.3 554.1 155.8 552.5 153.3 551.7 150.8 551.6 148.3 552.3 145.3 553.9 142.3 555.8 139.8 561.5 134.8 570 129.9 579.5 126.2 590 123.6 601 122.1 611.5 122 621 123.2 628.5 125.4 634.2 128.8 636.2 130.8 637.8 133.3 638.6 136.3 638.4 139.3 637.4 142.3 635.5 145.3 632.7 148.3 629.1 151.3 620.5 156.3 611.7 159.8 604 161.7 599 162.1 585.5 162.1 575.5 162.8ZM575.5 189.3 570.5 189.6 565.5 188.6 562.4 186.8 561.8 185.8 561.9 184.3 563 183 564.4 182.3 570.5 181.6 576.8 182.3 579 183.1 580.7 184.3 581.3 185.8 580.4 187.3 578.5 188.5 575.5 189.3Z" fill="#5af025" fill-rule="evenodd"/>
<path d="M580.5 161.8 571.5 161.9 564.5 160.4 560.9 158.8 558 156.8 556 154.8 554.5 152.3 553.9 149.8 554 147.3 554.7 144.8 556.4 141.8 558.5 139.3 561.5 136.6 569 131.8 577.5 128.1 587.5 125.2 598 123.4 608.5 123 617.5 123.8 625.5 125.9 631.5 129 633.5 130.8 635.3 133.3 636.2 135.8 636.3 138.8 635.6 141.3 634 144.3 631.5 147.3 628.7 149.8 621 154.7 612.5 158.4 603.6 160.8 598 161.4 580.5 161.8ZM573.5 188.3 570.5 188.3 567.9 187.8 566 186.8 565.5 185.3 567.2 183.8 571 183.1 575 183.5 577.6 184.8 578 185.8 577.6 186.8 575.9 187.8 573.5 188.3Z" fill="#64f024" fill-rule="evenodd"/>
<path d="M594 160.8 574 161.1 569 160.4 564.5 158.9 560.1 156.3 557 152.8 556.2 150.8 555.9 148.8 556.7 144.8 558.4 141.8 561.5 138.4 565 135.6 569.5 132.8 574.7 130.3 580.5 128.1 593 125.1 605.5 124 611.5 124.2 617 124.9 622 126.1 626.4 127.8 629.7 129.8 632.3 132.3 633.5 134.3 634.1 136.3 634.2 138.3 633.8 140.8 632.6 143.3 630.8 145.8 625.9 150.3 618.5 154.7 610 158.2 602 160.1 594 160.8ZM573 186.8 570.7 186.8 569.5 186.3 569.2 185.8 570.5 184.9 573 184.9 574.4 185.8 574.2 186.3 573 186.8Z" fill="#73f025" fill-rule="evenodd"/>
<path d="M588 160.3 578.5 160.4 573 160 568 158.8 563.5 156.6 560.2 153.8 558.3 150.3 558.2 146.8 559.8 142.8 562.2 139.8 565 137.2 569 134.5 573.5 132 584 128.1 596 125.7 607.5 125.1 613 125.5 618 126.4 622.5 127.7 626 129.3 628.8 131.3 630.9 133.8 631.8 135.8 632.1 138.3 631.8 140.3 630.9 142.8 627.4 147.3 621.4 151.8 614 155.6 605 158.6 598 159.8 588 160.3Z" fill="#86f029" fill-rule="evenodd"/>
<path d="M594.5 159.3 577.5 159.5 572.5 158.8 567.9 157.3 563.7 154.8 561.1 151.8 560.1 148.3 561 144.3 562.8 141.3 565.2 138.8 568.4 136.3 572.5 133.8 582 129.8 593 127.1 604 126.1 614.5 126.8 619 127.9 622.7 129.3 626 131.2 628.2 133.3 629.9 136.8 630.1 138.8 629.7 140.8 628.9 142.8 627.2 145.3 623 149.3 617 153 609.5 156.2 602 158.3 594.5 159.3Z" fill="#99f02e" fill-rule="evenodd"/>
<path d="M589.5 158.8 581.5 158.8 576 158.3 571 157 567.2 155.3 564.2 152.8 562.5 149.8 562.3 146.3 563.8 142.8 565.7 140.3 568.4 137.8 575.9 133.3 585.2 129.8 595.5 127.7 606 127.1 615.5 128.2 619.1 129.3 622.5 130.8 625.2 132.8 626.9 134.8 628 138.3 627.8 140.3 627.2 142.3 624.3 146.3 619.4 150.3 612.8 153.8 605.5 156.4 597.5 158.2 589.5 158.8Z" fill="#aeee31" fill-rule="evenodd"/>
<path d="M591.5 157.8 584.5 157.9 578.5 157.5 573.5 156.4 569.7 154.8 566.5 152.4 564.8 149.8 564.4 146.8 565.6 143.3 567.4 140.8 569.5 138.8 576.5 134.3 585.5 130.8 595 128.8 605 128.2 613.5 129.1 620 131.3 622.5 132.9 624.5 135 625.8 138.3 625.2 141.8 622.6 145.8 618.5 149.3 613 152.4 606 155.2 599 156.9 591.5 157.8Z" fill="#c3ec35" fill-rule="evenodd"/>
<path d="M592 156.8 585.5 157 580 156.5 575.5 155.6 571.5 153.9 568.7 151.8 567.1 149.3 566.7 146.3 567.8 143.3 569.6 140.8 571.8 138.8 578 134.9 586 131.8 595 129.9 604.5 129.3 612.5 130.2 618.5 132.4 620.6 133.8 622.5 135.8 623.5 138.8 622.8 142.3 620.4 145.8 616.8 148.8 611.6 151.8 605.5 154.2 599 155.9 592 156.8Z" fill="#d3de37" fill-rule="evenodd"/>
<path d="M592.5 155.8 587 156 581.5 155.6 577 154.7 573.5 153.2 570.8 151.3 569.1 148.8 568.8 146.3 569.8 143.3 573.3 139.3 579 135.7 586.5 132.7 595 130.9 603.5 130.3 611 131.2 617 133.3 619.1 134.8 620.4 136.3 621.4 139.3 620.8 142.3 618.8 145.3 615.3 148.3 610.5 151.1 605 153.3 599 154.9 592.5 155.8Z" fill="#e0c438" fill-rule="evenodd"/>
<path d="M593 154.8 588 155.1 583 154.7 578.5 153.8 575 152.4 572.5 150.5 571.2 148.3 570.9 145.8 571.8 143.3 575 139.6 580.5 136.1 587.5 133.4 595 131.8 602.5 131.3 609.5 132 615 133.9 617 135.3 618.4 136.8 619.3 139.3 618.8 142.3 616.8 145.3 613.9 147.8 609.7 150.3 604.5 152.4 599 153.9 593 154.8Z" fill="#e3a434" fill-rule="evenodd"/>
<path d="M591 153.8 582.5 153.3 578.9 152.3 576 150.8 574.4 149.3 573.4 147.3 573.4 145.3 574.4 142.8 577.9 139.3 582.5 136.6 588.7 134.3 595.5 132.9 602.5 132.5 608.5 133.3 613 134.9 616 137.4 616.9 139.8 616.5 142.3 614.4 145.3 611.3 147.8 607 150.1 602 152 596.5 153.2 591 153.8Z" fill="#e4822f" fill-rule="evenodd"/>
<path d="M593.5 152.3 585.5 152.2 582 151.5 579.5 150.4 577.5 149 576.4 147.3 576.2 145.3 576.8 143.3 579.5 140.3 583.5 137.7 589 135.6 595 134.3 601 133.9 606.5 134.5 610.5 135.9 613.4 138.3 614.1 140.3 613.7 142.3 612.1 144.8 609.8 146.8 606.4 148.8 602.5 150.4 598 151.6 593.5 152.3Z" fill="#e66429" fill-rule="evenodd"/>
<path d="M594 150.9 587 150.8 581.9 149.3 580.5 148.3 579.4 146.8 579.1 145.3 579.7 143.3 581.9 140.8 585.5 138.5 590 136.8 595 135.7 600 135.4 604.5 135.8 608 137 610.3 138.8 611 140.3 610.9 142.3 609.7 144.3 607.5 146.2 601.5 149.2 594 150.9Z" fill="#e64b23" fill-rule="evenodd"/>
<path d="M594 149.3 588.5 149.2 584.5 148 583 146.8 582.5 145.8 582.4 144.8 582.8 143.3 584.5 141.3 587.5 139.4 591 138.1 595 137.2 599 137 602.5 137.3 605.5 138.3 607.3 139.8 607.8 141.3 607.5 142.8 605 145.6 600 148.1 594 149.3Z" fill="#e5371c" fill-rule="evenodd"/>
<path d="M593.5 147.8 590 147.7 587 146.6 586.1 145.8 585.6 144.8 586.3 142.8 587.9 141.3 590 140.1 595.5 138.7 601 138.9 603 139.6 604.3 140.8 604.4 142.8 602 145.3 598 147 593.5 147.8Z" fill="#e42f1a" fill-rule="evenodd"/>
<path d="M596 146.3 593 146.6 590.4 146.3 588.6 145.3 588.1 143.8 589 142.4 590.5 141.4 594.5 140 599 139.9 600.5 140.4 601.8 141.3 602 142.8 600.8 144.3 598.5 145.6 596 146.3Z" fill="#e42918" fill-rule="evenodd"/>
<path d="M596 145.3 593.5 145.6 591.6 145.3 590.3 144.3 590.3 143.3 592 141.8 594.5 141 597.5 140.9 599.7 141.8 600 142.8 599.3 143.8 596 145.3Z" fill="#e22515" fill-rule="evenodd"/>
</g>
<path d="M654.8 119.8 656.7 121.8 658.5 124.3 661.2 129.3 662.5 132.3 662.9 134.8 662.8 137.3 662.4 139.3 661.4 141.8 660.1 143.8 658.5 145.6 656.5 147.1 654 148.6 652 149.5 649.5 150.2 640 151.8 634.5 155.5 627 159.8 625.2 163.3 624.7 164.8 624.4 167.3 624.3 169.8 625 177.3 625 179.3 624.7 181.3 623.7 183.8 621.7 187.3 619.5 190.7 617.7 192.8 613 196.8 608.5 199.8 603.9 201.8 597.6 203.8 593.6 204.8 585.6 205.8 580 206.3 569 206.4 558.9 206.3 547 204.3 544.5 203.8 541.3 202.8 537.6 200.8 535.5 199.3 533.5 197.5 532 195.8 531 193.8 530.5 192.1 530 189.7 529.8 186.3 530 181.3 532.5 166.8 533.5 162.7 537 153.8 544.2 138.8 546.4 132.3 548.7 123.3 550.3 119.8M591.4 174.3 593.5 173.6 595.1 172.8 596.3 171.8 597.2 170.3 597.1 168.8 596.5 167.8 595.3 166.8 593.5 165.9 591.5 165.3 589 164.9 587 164.8 584 165.1 582 165.7 580 166.6 578.5 167.7 577.8 168.8 577.6 170.3 578.4 171.8 579.5 172.8 581.4 173.8 583.5 174.4 586 174.8 589 174.7 591.4 174.3" fill="none" stroke="#505050" stroke-width="0.8" stroke-linejoin="round"/>
<path d="M648.2 119.8 650 122.2 651.6 124.8 654.3 131.8 654.9 133.8 655.1 135.8 655 137.3 654.4 138.8 653 140.5 650.5 142 648 142.8 644 143.5 641.5 146.8 639 149.3 635.5 152.3 631.8 154.8 625.5 158.3 617.6 161.8 617 164.3 616.7 167.3 617.1 176.8 616.9 179.3 616.3 181.3 615.3 183.3 613.5 185.8 612 187.5 608.2 190.8 604.5 193.2 601 194.7 594.5 196.7 590 197.6 582.5 198.5 576 199 569 199 563 199 559 198.6 549 196.9 545 195.8 542 194.3 540 192.7 538.5 190.5 537.6 187.8 537.4 185.3 537.6 182.3 540.2 167.3 541.7 162.3 545 154.8 544.1 150.8 544.5 147.3 545.3 144.8 547 141.8 549.5 138.8 552.5 135.8 552.8 131.8 552.1 125.3 552.1 122.8 552.4 121.8 553.7 119.8M590.7 176.3 593.5 175.7 596 174.7 598 173.6 599.4 172.3 600.3 170.8 600.4 169.3 599.8 167.8 598.4 166.3 596.5 165.1 594 164.2 589.5 163.9 584.5 164 580.5 164.6 578.5 165.1 576 166.7 574.8 168.3 574.4 169.8 574.8 171.8 576 173.4 578.1 174.8 581 175.9 584 176.5 587.5 176.6 590.7 176.3" fill="none" stroke="#505050" stroke-width="0.8" stroke-linejoin="round"/>
<path d="M573 192.3 567.5 192.2 562.5 191.8 557.5 190.9 550.4 189.3 548 188.3 547 187.4 546.1 186.3 545.6 184.8 545.7 181.3 548 167.7 549.5 163.2 551.7 158.3 549 154.8 548 152.4 547.7 149.8 548 147.1 549.5 143.4 552 139.8 555 136.8 560.4 132.8 560.7 132.3 560.9 124.8 561.5 122.7 562.5 121.2 563.5 120.5 564.5 120.1 567 119.9 569.9 120.3 577.5 122.1 583.5 122.9 585 122.8 592.5 121.3 600.5 120.3 608.5 120 616 120.3 623 121.3 630.5 123.4 636.5 124.1 639 125.1 641 126.7 643.5 130.2 644.4 132.8 644 134.3 642.5 135.8 642.5 137.8 642.1 139.8 641 142.4 638.5 146.2 635.5 149.3 631 152.8 627 155.3 618.6 159.3 609.7 162.3 608.6 162.8 607.6 163.8 606.5 164.3 604 164.3 600.5 163.7 599.5 163.3 591.5 162.9 586 162.9 580.5 163.4 573.9 164.3 573 164.6 571.5 165.8 570.3 167.3 569.4 169.3 569.2 170.8 569.5 172.8 570.4 174.8 571.5 176.2 573 177.3 575.1 178.3 578 179.1 581.5 179.7 585 180 588 179.9 593 179.1 601 176.8 604.5 176.1 605.8 176.3 606.5 176.7 606.9 177.3 607 178.3 606.9 179.3 606.1 180.8 604 183.2 601 185.5 597.5 187.3 592 189.3 588.1 190.3 578.5 191.9 573 192.3" fill="none" stroke="#505050" stroke-width="0.8" stroke-linejoin="round"/>
<path d="M575.5 162.3 571.5 162.3 567.5 161.7 563.5 160.5 560.5 159.2 557.6 157.3 555.5 155.3 553.9 152.8 553.2 150.3 553.2 147.8 553.8 145.3 555.4 142.3 557.3 139.8 559.9 137.3 563 134.9 566.5 132.7 570.5 130.6 575 128.6 579.5 127 589 124.5 594.5 123.5 599.5 123 605 122.6 610 122.7 614.5 123 619 123.7 623 124.6 627 125.9 630 127.4 632.8 129.3 634.8 131.3 636.1 133.3 637 135.8 637 138.8 636.1 141.8 634.3 144.8 631.7 147.8 628.5 150.6 624 153.5 620 155.7 611.5 159.1 607 160.4 603 161.2 598.5 161.6 586.5 161.7 575.5 162.3M572.5 188.8 569 188.6 566.4 187.8 565.5 187.3 564.5 186.3 564.3 185.3 564.5 184.8 565.5 183.8 567 183.1 571 182.6 573.5 182.7 575.5 183.1 577.3 183.8 578.7 184.8 579 185.3 579 186.3 578.1 187.3 575.9 188.3 572.5 188.8" fill="none" stroke="#505050" stroke-width="0.8" stroke-linejoin="round"/>
<path d="M588 160.3 578.5 160.4 573 160 568 158.8 563.5 156.6 561.6 155.3 560.2 153.8 559.1 152.3 558.3 150.3 558.1 148.8 558.2 146.8 558.8 144.8 559.8 142.8 562.2 139.8 565 137.2 569 134.5 573.5 132 578.5 129.9 584 128.1 590 126.7 596 125.7 602 125.1 607.5 125.1 613 125.5 618 126.4 622.5 127.7 626 129.3 628.8 131.3 630.9 133.8 631.8 135.8 632.1 138.3 631.8 140.3 630.9 142.8 629.2 145.3 627.4 147.3 624.5 149.7 621.4 151.8 618 153.7 614 155.6 610 157.1 605 158.6 598 159.8 588 160.3" fill="none" stroke="#505050" stroke-width="0.8" stroke-linejoin="round"/>
<path d="M595 158.3 587 158.7 579.5 158.5 574 157.7 569.5 156.2 567 154.8 565.6 153.8 564.2 152.3 563.2 150.8 562.7 149.3 562.5 147.3 562.9 145.3 563.5 143.8 565.2 141.3 567.6 138.8 570.9 136.3 574.3 134.3 578.5 132.3 582.6 130.8 587.7 129.3 593.5 128.1 599 127.5 604 127.2 608.5 127.4 613.5 128 617 128.8 621 130.3 623.5 131.8 626 134.1 627.1 135.8 627.5 137.3 627.6 139.3 627.2 141.3 626.3 143.3 625 145.1 623.5 146.8 621.1 148.8 615.5 152.3 608.5 155.3 601.5 157.3 595 158.3" fill="none" stroke="#505050" stroke-width="0.8" stroke-linejoin="round"/>
<path d="M593.5 156.4 587.5 156.7 582 156.4 577 155.5 573 154.1 571 152.9 569.6 151.8 568.7 150.8 567.9 149.3 567.4 146.8 567.7 145.3 568.2 143.8 569.9 141.3 571.9 139.3 575 137 578.5 135.1 582 133.5 586.5 132 590.5 131 595 130.2 599.5 129.7 603.5 129.6 608 129.9 611.5 130.4 615 131.4 617.5 132.5 620 134.1 621.6 135.8 622.4 137.3 622.8 138.8 622.7 140.3 622.3 141.8 621.3 143.8 620.1 145.3 616.8 148.3 612 151.2 606.5 153.5 599.5 155.4 593.5 156.4" fill="none" stroke="#505050" stroke-width="0.8" stroke-linejoin="round"/>
<path d="M593 154.3 588.5 154.5 584 154.3 579.1 153.3 576.5 152.3 574.2 150.8 572.5 148.8 572 147.4 571.9 146.3 572.5 143.8 573.5 142.2 575.3 140.3 577.1 138.8 580.4 136.8 583.7 135.3 588 133.8 595 132.3 602.5 131.8 607.5 132.3 610 132.8 613 133.8 615 134.8 616.2 135.8 617.5 137.2 618.2 139.3 618 141.8 616.5 144.4 613.5 147.3 609.4 149.8 604.7 151.8 599.5 153.3 593 154.3" fill="none" stroke="#505050" stroke-width="0.8" stroke-linejoin="round"/>
<path d="M594.5 151.3 590.5 151.6 587 151.4 583.9 150.8 581.5 149.9 579.7 148.8 578.4 147.3 578 145.8 578.4 143.8 579 142.7 580.2 141.3 583.7 138.8 588.2 136.8 594.2 135.3 600 134.8 605 135.3 607 135.8 609.3 136.8 610.7 137.8 611.5 138.7 612.1 140.3 611.9 142.3 610.7 144.3 608.5 146.3 606.1 147.8 602.8 149.3 599.5 150.3 594.5 151.3" fill="none" stroke="#505050" stroke-width="0.8" stroke-linejoin="round"/>
<path d="M593 147.3 590 147.1 588.5 146.6 587.5 146 586.9 145.3 586.7 144.3 587.3 142.8 588.5 141.6 590.5 140.5 593.5 139.5 596 139.1 598.5 139.1 601 139.5 602.5 140.3 603.4 141.3 603.5 142.3 603.1 143.3 602 144.5 600.5 145.5 596.5 146.9 593 147.3" fill="none" stroke="#505050" stroke-width="0.8" stroke-linejoin="round"/>
</g>
<rect x="524.4" y="122.7" width="155.9" height="88.5" fill="none" stroke="#dcdcf4" stroke-width="0.8"/>
<rect x="523.5" y="121.8" width="157.7" height="90.3" fill="none" stroke="#333333" stroke-width="1"/>
<line x1="521.5" y1="123.2" x2="523.5" y2="123.2" stroke="#333333" stroke-width="0.8"/>
<text x="520.5" y="125.5" font-size="6.5" text-anchor="end" fill="#262626">3.0</text>
<line x1="521.5" y1="145.12" x2="523.5" y2="145.12" stroke="#333333" stroke-width="0.8"/>
<text x="520.5" y="147.43" font-size="6.5" text-anchor="end" fill="#262626">2.5</text>
<line x1="521.5" y1="167.05" x2="523.5" y2="167.05" stroke="#333333" stroke-width="0.8"/>
<text x="520.5" y="169.35" font-size="6.5" text-anchor="end" fill="#262626">2.0</text>
<line x1="521.5" y1="188.98" x2="523.5" y2="188.98" stroke="#333333" stroke-width="0.8"/>
<text x="520.5" y="191.28" font-size="6.5" text-anchor="end" fill="#262626">1.5</text>
<line x1="521.5" y1="210.9" x2="523.5" y2="210.9" stroke="#333333" stroke-width="0.8"/>
<text x="520.5" y="213.2" font-size="6.5" text-anchor="end" fill="#262626">1.0</text>
<line x1="523.5" y1="212.1" x2="523.5" y2="214.1" stroke="#333333" stroke-width="0.8"/>
<text x="523.5" y="221.4" font-size="6.5" text-anchor="middle" fill="#262626">0</text>
<line x1="534.76" y1="212.1" x2="534.76" y2="213.3" stroke="#333333" stroke-width="0.8"/>
<line x1="546.03" y1="212.1" x2="546.03" y2="214.1" stroke="#333333" stroke-width="0.8"/>
<text x="546.03" y="221.4" font-size="6.5" text-anchor="middle" fill="#262626">2</text>
<line x1="557.29" y1="212.1" x2="557.29" y2="213.3" stroke="#333333" stroke-width="0.8"/>
<line x1="568.56" y1="212.1" x2="568.56" y2="214.1" stroke="#333333" stroke-width="0.8"/>
<text x="568.56" y="221.4" font-size="6.5" text-anchor="middle" fill="#262626">4</text>
<line x1="579.82" y1="212.1" x2="579.82" y2="213.3" stroke="#333333" stroke-width="0.8"/>
<line x1="591.09" y1="212.1" x2="591.09" y2="214.1" stroke="#333333" stroke-width="0.8"/>
<text x="591.09" y="221.4" font-size="6.5" text-anchor="middle" fill="#262626">6</text>
<line x1="602.35" y1="212.1" x2="602.35" y2="213.3" stroke="#333333" stroke-width="0.8"/>
<line x1="613.61" y1="212.1" x2="613.61" y2="214.1" stroke="#333333" stroke-width="0.8"/>
<text x="613.61" y="221.4" font-size="6.5" text-anchor="middle" fill="#262626">8</text>
<line x1="624.88" y1="212.1" x2="624.88" y2="213.3" stroke="#333333" stroke-width="0.8"/>
<line x1="636.14" y1="212.1" x2="636.14" y2="214.1" stroke="#333333" stroke-width="0.8"/>
<text x="636.14" y="221.4" font-size="6.5" text-anchor="middle" fill="#262626">10</text>
<line x1="647.41" y1="212.1" x2="647.41" y2="213.3" stroke="#333333" stroke-width="0.8"/>
<line x1="658.67" y1="212.1" x2="658.67" y2="214.1" stroke="#333333" stroke-width="0.8"/>
<text x="658.67" y="221.4" font-size="6.5" text-anchor="middle" fill="#262626">12</text>
<line x1="669.94" y1="212.1" x2="669.94" y2="213.3" stroke="#333333" stroke-width="0.8"/>
<line x1="681.2" y1="212.1" x2="681.2" y2="214.1" stroke="#333333" stroke-width="0.8"/>
<text x="681.2" y="221.4" font-size="6.5" text-anchor="middle" fill="#262626">14</text>
<text x="602.35" y="229.6" font-size="9.2" text-anchor="middle" fill="#262626">&#954; (&#197;<tspan font-size="6" dy="-3.2">-1</tspan><tspan dy="3.2">)</tspan></text>
<text x="506.3" y="162.5" font-size="9" text-anchor="middle" fill="#262626" transform="rotate(-90 506.3 162.5)">R+&#916;R (&#197;)</text>
<text x="675" y="205.3" font-size="13.9" text-anchor="end" fill="#ffffff">CoO</text>
<clipPath id="clip4"><rect x="332.8" y="236.6" width="158" height="91.3"/></clipPath>
<g clip-path="url(#clip4)">
<g filter="url(#hblur)">
<rect x="330.8" y="234.6" width="162" height="95.3" fill="#0c00ff"/>
<path d="M412.3 329.6 330.8 329.6 330.8 234.6 492.8 234.6 492.8 311.7 484.3 313.4 483.8 313 483.4 313.6 482.3 313.8 481.8 313.4 481 313.6 480.9 314.1 478.6 314.1 478.3 314.6 477.8 314.3 474.8 314.9 474.3 314.6 474 315.1 473.3 315.2 472.8 314.9 471.8 315.4 469.8 315.3 468.8 315.8 468.3 315.5 464.8 316.3 464.3 316 461.3 316.8 460.8 316.5 458.3 317.1 457.8 316.8 453.3 317.7 452.8 317.5 450.8 318.1 450.3 317.9 446.8 318.7 444.8 318.6 441.3 319.6 439.8 319.5 438.3 320.2 432.8 321.5 419.3 327.5 412.3 329.6ZM431.9 249.6 433.1 248.6 433.9 247.1 434.2 245.1 433.9 243.6 432.3 241.1 430.8 240.5 429.3 240.7 428 241.6 427.1 243.1 426.7 245.1 427 247.1 427.8 248.6 428.8 249.5 430.3 250 431.9 249.6ZM394.1 266.6 395.2 265.1 394.8 263.1 393.3 262 391.3 262.4 390.4 264.1 390.8 265.8 392.3 266.9 394.1 266.6Z" fill="#0e06ff" fill-rule="evenodd"/>
<path d="M334.3 324.3 332.8 324.1 330.8 324.6 330.8 234.6 475.2 234.6 479.4 237.1 485.4 242.1 490.4 247.6 492.8 251.6 492.8 285.8 489.9 290.6 485.4 295.6 484.6 295.6 482 298.1 481 298.1 479.3 299.6 476.6 300.6 476.4 301.1 475.1 301.1 474.9 301.6 470.1 303.1 469.9 303.6 469.3 303.3 468.3 303.6 468.1 304.1 467.3 303.9 466.6 304.1 466.4 304.6 464.8 304.6 464.6 305.1 463.8 304.9 463 305.1 462.8 305.5 462.3 305.3 456.8 306.8 456.3 306.5 448.8 308.1 448.3 307.8 443.8 308.7 443.3 308.5 441.3 309.1 440.8 308.9 437.3 309.6 436.8 309.4 432.3 309.9 420.3 311.9 417.3 312.7 404.8 317.7 396.8 319.6 389.3 320.6 379.8 321.1 357.3 321.1 348.2 322.1 342.3 323.2 336.8 323.7 335.8 324.1 335.3 323.9 334.3 324.3ZM431.8 250.6 433.3 249.6 434.4 248.1 435 246.1 435 244.1 434.3 241.9 433.3 240.4 431.8 239.4 429.8 239.1 427.8 240.2 426.5 242.1 426 244.1 426 246.1 426.9 248.6 428.3 250.1 429.8 250.8 431.8 250.6ZM393.6 267.1 395.3 265.6 395.4 263.6 394.8 262.6 393.8 261.8 391.8 261.8 390.8 262.5 390.3 263.6 390.5 265.6 391.8 267 393.6 267.1Z" fill="#0f0aff" fill-rule="evenodd"/>
<path d="M332.3 323.2 330.8 323.1 330.8 234.6 465.4 234.6 471.9 239.1 474.8 241.6 479.8 247.6 481.6 251.1 483.1 255.6 483.5 260.6 483 264.6 481.1 271.1 483.3 276.6 484.1 280.1 483.9 286.1 482.7 290.1 481.7 291.1 480.4 293.6 478.8 294.6 477.8 296.1 475.8 297.1 475.8 297.6 473.4 298.6 473.4 299.1 472.1 299.1 472.1 299.6 469.3 300.6 469.2 301.1 468.3 300.9 467.8 301.1 467.7 301.6 457.3 304.8 456.8 304.4 451.8 305.9 451.3 305.5 448.3 306.4 447.3 306.3 442.3 307.4 441.8 307.1 439.8 307.7 439.3 307.4 437.8 308 435.8 307.8 434.3 308.4 433.8 308.1 429.8 308.9 425.8 309.1 418.3 310.6 414.8 311.6 403.8 316.4 394.3 318.6 379.3 319.7 358.8 319.7 349.8 320.7 340.8 322.3 333.3 322.8 332.3 323.2ZM431 251.6 432.8 251 434.3 249.6 435.4 247.6 435.8 244.6 435.3 241.7 434.3 239.8 432.3 238 430.3 237.5 428.3 238.2 426.8 239.6 425.6 242.1 425.2 245.1 425.9 248.1 427.2 250.1 428.8 251.2 431 251.6ZM394.1 267.1 395.6 265.6 395.7 264.1 395.3 262.8 394.3 261.7 393.3 261.4 391.3 261.7 390.4 262.6 390.1 263.6 390 264.6 390.5 266.1 392.3 267.4 394.1 267.1Z" fill="#100dff" fill-rule="evenodd"/>
<path d="M332.8 322.2 330.8 322.2 330.8 234.6 457.6 234.6 463.3 238.1 467.6 241.6 471.3 245.6 473.2 248.6 475.2 253.6 475.8 257.1 475.6 261.1 474.7 264.6 476.4 267.1 478.3 271.1 480.1 276.1 480.9 280.6 480.8 284.6 479.7 289.1 477.7 292.6 476.4 293.6 475.5 295.1 473.7 296.1 473.6 296.6 471.5 297.6 471.4 298.1 467.7 299.6 467.6 300.1 454.3 304.4 453.7 304.1 453.3 304.7 452.8 304.4 449.3 305.4 448.8 305.1 445.8 306 445.3 305.7 440.3 306.8 439.8 306.5 436.3 307.3 435.8 307 434.3 307.6 433.8 307.3 429.8 308.1 429.3 307.9 428.3 308.3 426.8 308.2 425.8 308.6 422.3 308.9 415.8 310.2 403.3 315.4 395.3 317.4 383.3 318.6 358.8 318.8 341.3 321.3 337.8 321.4 335.3 322 333.8 321.8 332.8 322.2ZM432.2 252.1 434.3 250.8 435.8 248.6 436.5 246.1 436.6 243.1 435.6 239.6 434.3 237.5 432.3 235.7 430.3 235.3 428.3 236 425.8 239 424.7 242.6 424.6 245.6 425.4 248.6 427.3 251.1 429.8 252.3 432.2 252.1ZM393.4 267.6 394.8 266.9 395.6 266.1 395.9 263.6 394.7 261.6 392.3 261 390.4 262.1 389.8 264.6 390.2 266.1 391.1 267.1 392.3 267.6 393.4 267.6Z" fill="#1211ff" fill-rule="evenodd"/>
<path d="M338.3 320.7 335.3 320.7 334.3 321.1 330.8 320.9 330.8 234.6 425.8 234.6 423.9 242.1 424.2 247.1 425.3 249.7 426.8 251.5 428.5 252.6 430.8 253.1 432.8 252.6 434.8 251.3 436.1 249.6 437.1 247.1 437.5 242.6 436 234.6 450.5 234.6 454.8 236.6 460.8 240.7 465.7 245.6 468 249.1 469.5 253.1 470 255.6 469.8 261.6 471.3 263.1 472.7 266.1 473.9 267.6 474.2 269.1 475.6 271.6 477 276.6 477.7 282.6 476.9 287.6 476 290.1 474.4 292.6 473.1 293.6 473 294.1 471.4 295.1 471.4 295.6 469.5 296.6 469.4 297.1 467.2 298.1 467.1 298.6 466.3 298.5 465.9 299.1 464.6 299.6 454.3 303.1 451.8 303.9 451.1 303.6 450.8 304.2 450.3 303.9 446.8 304.9 445.8 304.8 443.8 305.4 443.3 305.1 440.8 305.9 440.3 305.6 438.3 306.3 437.8 306 436.3 306.5 434.3 306.4 432.8 306.9 432.3 306.7 426.8 307.7 425.3 307.6 414.8 309.5 402.4 314.6 393.8 316.7 380.3 317.7 361.3 317.7 352.3 318.6 350.8 319.1 349.8 319 338.3 320.7ZM394.1 267.6 395.3 266.8 396.1 265.6 396.1 263.1 395.3 261.7 394.3 261 391.8 260.9 390.8 261.3 389.9 262.6 389.5 264.1 389.8 265.6 390.3 266.6 391.6 267.6 392.8 267.9 394.1 267.6Z" fill="#1519ff" fill-rule="evenodd"/>
<path d="M333.3 320.1 330.8 319.9 330.8 234.6 422.6 234.6 423.4 236.6 423.1 244.1 424.1 248.6 425.3 250.8 427.3 252.7 428.3 253.2 431.3 253.6 434.4 252.6 436 251.1 437.2 249.1 438.4 245.1 438.7 238.1 439.2 236.6 440.8 235.5 443.3 235.2 448.3 236.5 455.3 240.5 460.3 244.9 463.8 250.1 465.1 254.1 465.5 259.6 467.2 261.1 468.2 263.1 469.6 264.6 471.7 269.1 473.5 274.6 474.6 281.1 474.3 285.1 472.7 290.1 469.8 294.1 468.2 295.1 468.1 295.6 467.3 295.6 467.2 296.1 465.2 297.1 465.2 297.6 460.4 299.6 460.3 300.1 459.3 300 458.9 300.6 458.3 300.8 457.8 300.5 457.5 301.1 456.8 301.3 456.2 301.1 455.8 301.7 455.3 301.4 454.7 301.6 454.3 302.2 453.8 301.9 448.3 303.7 447.8 303.3 441.3 305 440.8 304.7 438.8 305.3 438.3 305.1 434.8 305.8 434.3 305.6 432.8 306.1 432.3 305.9 426.8 306.8 421.8 307.2 414.3 308.6 410.8 309.7 401.8 313.6 393.3 315.7 380.3 316.7 360.3 316.8 349.3 318.2 345.8 318.9 341.3 319.2 339.8 319.7 338.3 319.5 333.3 320.1ZM392.8 268.1 395.3 267 396.1 266.1 396.5 264.6 396.4 263.1 395.8 261.8 394.8 260.9 393.3 260.4 391.3 260.7 390.3 261.4 389.3 264.1 389.6 265.6 390.3 266.9 391.3 267.7 392.8 268.1Z" fill="#1823ff" fill-rule="evenodd"/>
<path d="M334.8 319.1 330.8 318.9 330.8 236.3 332.6 234.6 418.8 234.6 420.9 236.1 421.7 237.6 422.6 245.6 424.3 250.3 426.3 252.7 428.3 253.6 430.3 254 434.3 253.5 436.1 252.1 438.6 248.1 441 239.6 441.8 238.7 443.3 238.2 445.8 238.4 448.3 239.3 452.1 241.6 455.7 244.6 457.8 247.1 460.4 252.1 461.3 258.1 461.8 258 462.4 258.6 462.5 259.1 466.1 263.1 469.2 269.6 470.7 275.1 471.4 280.6 471.2 284.6 470.1 288.6 467.3 293.1 464.2 295.6 464.1 296.1 460 298.1 460 298.6 459.3 298.9 458.8 298.6 458.7 299.1 455.8 300.3 451.3 301.9 450.6 301.6 450.3 302.2 449.3 302 445.3 303.4 444.8 303.1 442.3 303.9 441.8 303.6 436.8 304.9 436.3 304.5 432.8 305.4 432.3 305.1 429.3 305.9 428.8 305.6 427.8 306 425.3 306.3 424.8 306.1 415.3 307.5 409.8 309.1 399.8 313.3 393.3 314.9 382.3 315.8 360.3 316 349.3 317.7 348.8 317.5 345.8 318.2 345.3 318 341.8 318.6 334.8 319.1ZM393.9 268.1 395.3 267.3 396.4 266.1 396.8 264.6 396.6 262.6 395.8 261.2 394.8 260.4 393.3 260 391.8 260.2 390.3 261 389.6 262.1 389.1 264.1 389.4 265.6 390.2 267.1 391.3 267.9 392.8 268.3 393.9 268.1Z" fill="#1c2cff" fill-rule="evenodd"/>
<path d="M341.8 318.1 337.3 318.5 330.8 318.3 330.8 239.1 332.8 236.6 335.2 234.6 405.9 234.6 415.3 235.6 418.3 236.6 420.3 238.6 422.4 247.6 424.8 252.1 426.8 253.6 430.8 254.5 434.3 254 436.3 253.1 438.7 250.1 442.3 242.3 443.8 241.3 445.8 241.4 450.3 243.6 454.2 247.6 456.6 252.1 457.7 257.1 458.9 257.6 459 258.1 461.8 260.6 461.8 261.1 463.7 263.1 463.6 263.6 465.5 266.6 467.4 272.6 468.8 281.1 468.6 287.1 466.6 291.6 465.5 292.6 465.4 293.1 464.1 294.1 464.1 294.6 461.5 296.1 461.5 296.6 455.9 299.1 455.9 299.6 455.3 299.3 454.7 299.6 454.6 300.1 453.8 299.9 452 300.6 451.8 301.1 451.3 300.8 445.8 302.7 445.3 302.4 442.3 303.4 441.8 303.1 436.8 304.4 436.3 304.1 434.8 304.6 434.3 304.4 432.8 304.9 432.3 304.7 429.3 305.4 428.8 305.1 427.8 305.6 424.8 305.6 423.8 306.1 421.3 306.1 414.3 307.3 408.3 309 400.8 312.4 393.3 314.3 381.8 315.3 361.8 315.4 341.8 318.1ZM394.4 268.1 396.6 266.1 397.1 264.1 396.8 262.3 395.8 260.6 394.8 259.9 393.3 259.6 391.8 259.8 390.3 260.6 389.3 262 388.9 264.1 389.2 265.6 389.9 267.1 391.3 268.2 392.8 268.5 394.4 268.1Z" fill="#2038ff" fill-rule="evenodd"/>
<path d="M341.8 317.6 337.3 318 330.8 317.7 330.8 244.6 331.8 241.1 332.9 239.1 335.2 236.6 337.9 234.6 394.9 234.6 415.3 237.4 417.8 238.5 419.3 240.1 422.3 249.1 424.4 252.6 426.8 254.1 429.8 254.9 433.8 254.7 437.3 253.4 438.9 251.6 442.8 245.6 444.3 244.6 446.3 244.7 448.8 246.2 451.1 248.6 452.8 251.6 453.7 255.6 459.4 260.6 459.4 261.1 462.4 265.1 464.1 270.1 464.7 273.6 466.5 278.1 467.1 281.1 467.1 285.6 465.7 290.1 463.7 293.1 461.6 294.6 461.6 295.1 458.9 296.6 458.8 297.1 456.7 298.1 447.3 301.7 446.8 301.4 442.8 302.8 442.3 302.5 436.8 303.9 436.3 303.7 432.8 304.5 432.3 304.2 430.8 304.8 430.3 304.5 427.8 305.1 427.3 304.9 426.3 305.3 422.3 305.5 412.8 307.1 408.8 308.3 400.3 311.9 394.3 313.6 382.8 314.8 361.8 314.9 341.8 317.6ZM393.7 268.6 395.3 267.8 396.5 266.6 397.2 265.1 397.3 263.1 396.8 261.2 395.8 260 394.3 259.2 392.8 259.1 389.8 260.6 389 262.1 388.7 264.6 389.3 266.5 390.3 267.7 391.8 268.6 393.7 268.6Z" fill="#2647ff" fill-rule="evenodd"/>
<path d="M341.8 317.1 337.3 317.4 333.8 317 332.8 317.2 330.8 316.7 330.8 249.4 332.4 244.1 334.8 239.6 337.3 236.9 340.8 234.6 381.1 234.6 381.8 234.9 394.3 235.8 414.3 239 417.3 240.3 418.8 242 421.7 249.6 423.8 252.9 428.3 255.1 432.3 255.5 435.8 254.8 439.3 253.1 443.3 248.7 444.8 248.2 446.8 248.9 449.1 251.6 450.2 255.1 452 256.1 456.1 259.6 456.2 260.1 458.9 263.1 458.9 263.6 460 265.1 459.9 265.6 460.8 267.1 461.1 269.1 463.5 274.1 465.1 279.1 465.5 282.1 465.3 285.6 463.9 290.1 462 293.1 459.9 294.6 459.9 295.1 456.2 297.1 456.1 297.6 455.3 297.5 455.1 298.1 453.9 298.6 448.3 300.8 447.8 300.5 443.3 302.1 442.8 301.9 439.8 302.9 439.3 302.6 434.8 303.7 434.3 303.5 430.8 304.3 430.3 304.1 426.3 304.8 425.8 304.6 424.8 305.1 418.8 305.6 410.8 307 399.8 311.5 392.8 313.3 382.8 314.2 360.8 314.5 341.8 317.1ZM394.3 268.6 395.8 267.6 397.1 266.1 397.7 263.1 397.3 261.1 396.8 260.4 395.3 259.1 393.8 258.4 391.3 259.1 389.3 260.6 388.7 262.1 388.5 264.6 389.1 266.6 390.8 268.4 392.8 269 394.3 268.6Z" fill="#2c55ff" fill-rule="evenodd"/>
<path d="M341.8 316.6 337.3 316.5 336.3 316.8 330.8 315.9 330.8 254.5 333.4 245.1 335.4 241.1 338.8 237.5 343.7 234.6 380.2 234.6 382.3 236.2 393.3 236.9 414.3 240.9 415.8 241.4 417.3 242.6 418.3 243.9 422.3 252.1 423.3 253.3 425.3 254.4 429.3 255.8 433.3 255.9 441.3 253.7 443.3 252.7 444.3 252.7 446.4 254.6 447.8 255.1 452.8 258.6 455.8 262.1 455.8 262.6 457.3 264.6 457.2 265.1 458.4 267.1 458.3 267.6 459.9 269.6 462.2 275.1 463.7 281.6 463.7 285.1 462.8 288.6 461.3 291.6 459.7 293.1 459.6 293.6 457.4 295.1 457.3 295.6 452.4 298.1 452.3 298.6 451.8 298.4 443.3 301.6 442.8 301.3 439.8 302.4 439.3 302.1 434.8 303.3 434.3 303 428.8 304.2 415.8 305.6 409.8 306.8 398.8 311.2 391.3 313 379.8 313.8 363.8 313.8 341.8 316.6ZM393.4 269.1 395.6 268.1 397.3 266.3 398 262.6 397.8 261.1 396.8 259.7 395.3 258.4 393.3 257.5 390.8 258.7 389.3 260 388.2 263.6 388.7 266.1 389.8 267.8 391.3 268.9 393.4 269.1Z" fill="#3264ff" fill-rule="evenodd"/>
<path d="M340.3 316.1 337.3 315.9 336.3 316.2 330.8 315.1 330.8 258.8 334.5 246.1 336.6 241.6 340.4 237.6 346.2 234.6 379.1 234.6 381.3 236.3 382.3 237.5 387.3 237.6 392.3 238.2 404.8 241.3 414.8 243 417.4 245.1 422.1 253.1 425.8 255.2 428.8 256.2 431.8 256.6 435.3 256.2 439.8 255 442.3 254.8 445.3 255.4 447.8 257.1 448.3 257.1 453.6 262.1 453.6 262.6 455.4 265.1 455.3 265.6 457.4 268.1 457.4 268.6 458.8 270.6 460.9 276.1 462 281.1 462 284.6 461.3 288.1 459.6 291.6 457.9 293.1 457.9 293.6 455.7 295.1 455.6 295.6 450.8 298.1 444.3 300.7 443.8 300.4 440.3 301.7 439.8 301.5 434.8 302.8 434.3 302.5 432.8 303.1 430.8 303.4 430.3 303.1 428.8 303.7 426.8 303.7 425.8 304.1 425.3 303.9 410.8 306 405.8 307.6 397.8 310.9 389.8 312.7 378.3 313.4 363.3 313.4 347.8 315.5 340.3 316.1ZM394.2 269.1 395.8 268.2 397.6 266.1 398.2 264.6 398.5 261.6 397.8 260 396.3 258.2 391.8 255.5 391.4 257.1 388.7 260.1 388.1 264.6 388.7 266.6 390.3 268.5 392.3 269.4 394.2 269.1Z" fill="#3a75ff" fill-rule="evenodd"/>
<path d="M347.3 315.1 336.3 315.5 330.8 314.2 330.8 262.7 333.6 254.6 335.9 246.1 337.4 242.6 340.9 238.6 346.3 235.6 349.3 234.6 377.6 234.6 381.3 237.1 381.3 237.6 382.8 239 390.8 239.6 395 240.6 403.8 243.6 413.8 244.9 416.8 246.8 421.4 253.6 426.8 256.1 429.8 256.9 432.8 257.1 441.8 256 445.3 257 449.1 260.1 454 265.6 453.9 266.1 456.4 269.1 458.2 273.1 460 279.1 460.4 282.6 460 286.6 459 289.6 456.1 293.6 452.2 296.1 452.2 296.6 446.3 299.3 445.7 299.1 445.3 299.7 444.8 299.5 440.3 301.2 439.8 300.9 434.8 302.3 434.3 302 428.8 303.2 423.8 303.6 422.8 304 415.3 304.7 409.8 305.7 406.7 306.6 397.3 310.5 391.8 311.8 381.8 312.7 364.8 312.7 347.3 315.1ZM394.7 269.1 396.8 267.5 398.3 265.6 399.2 261.1 392.9 251.1 390.8 249.5 386.8 247.9 386.3 248.6 386.7 250.6 389.8 256.1 389.8 257.1 388.3 260.1 387.8 262.6 388.2 266.1 389.5 268.1 391.3 269.4 392.8 269.6 394.7 269.1Z" fill="#4286ff" fill-rule="evenodd"/>
<path d="M346.8 314.6 337.3 314.9 333.3 314.1 330.8 313.2 330.8 266.4 333.5 259.6 337.3 246.1 338.6 243.1 341.8 239.3 344.3 237.6 347.3 236.2 353.1 234.6 375.9 234.6 380.8 237.5 383.7 241.1 383.8 242.1 386.8 241.7 389.3 242.1 391.5 243.1 392.1 244.1 391.4 244.6 388.8 244.7 385.3 243.9 384.7 244.6 385.7 251.6 388.3 257.1 387.5 262.6 387.8 265.6 389.2 268.1 391.3 269.6 392.8 269.8 394.8 269.3 396.8 267.8 398.5 265.6 400.1 261.1 399.3 258.1 399.3 255.7 401.5 249.6 402.8 248.6 404.8 247.9 411.8 247 415.3 248 417.1 249.6 420.7 254.1 426.3 256.5 428.3 257.2 432.3 257.8 441.3 257.1 442.8 257.4 445.8 259 452.7 266.1 452.7 266.6 455.4 270.1 455.3 270.6 456.2 272.1 457.7 276.6 458.6 282.1 458.3 286.1 457.1 289.6 455.9 291.6 452.9 294.6 448.5 297.1 441.6 300.1 430.3 302.6 429.8 302.3 426.8 303.1 426.3 302.8 410.8 305 405.3 306.5 396.8 310.1 391.8 311.2 381.8 312.2 364.3 312.2 346.8 314.6Z" fill="#50a6fe" fill-rule="evenodd"/>
<path d="M344.8 314.2 337.3 314.1 333.3 313.2 330.8 312.1 330.8 269.5 335.3 258.6 338.5 247.1 339.9 243.6 342.8 240 345.3 238.3 348.3 236.9 352.8 235.6 358.8 234.6 374.3 234.6 379.8 237.6 380.8 238.4 383.3 242 383.3 243 384.2 245.1 384.7 251.6 387.4 258.6 387.3 263.6 387.8 266.1 389.3 268.5 391.3 269.9 392.8 270.1 394.6 269.6 397.8 267 399.1 265.1 400.1 262.6 401.5 260.6 401.8 258.6 402.7 257.1 406.6 252.6 409.8 250.6 413.3 250.2 415.3 250.8 418.9 254.1 427.3 257.4 432.3 258.4 439.3 258.1 442.8 259 444.3 260.1 444.8 260.1 446.3 261.6 446.7 262.6 447.8 263 451.9 267.1 455 273.1 456.3 277.6 456.8 281.6 456.5 286.1 455.3 289.6 454.1 291.6 451.1 294.6 446.8 297.1 441.8 299.4 440.8 299.3 437.3 300.7 436.8 300.4 432.3 301.7 431.8 301.5 428.3 302.4 427.8 302.1 426.8 302.5 408.8 304.9 404.7 306.1 395.8 309.7 389.3 311.1 377.3 311.8 365.8 311.6 344.8 314.2Z" fill="#61cdf9" fill-rule="evenodd"/>
<path d="M344.3 313.7 337.3 313.3 333.3 312.2 330.8 310.9 330.8 272.2 333.1 268.1 335.3 262.6 341.3 244.1 342.6 242.1 344.7 240.1 349.3 237.6 356.8 235.8 370.3 234.6 375.3 235.6 379.8 238.5 382.8 242.8 383.8 251.4 387 259.6 387 263.6 387.5 266.1 389.3 268.8 391.3 270.1 393.3 270.3 395.9 269.1 399.2 265.6 401.3 261.9 404.8 259.6 407.6 256.6 409.3 255.4 411.8 254.1 413.8 253.7 416.8 254.7 419.8 255 428.8 258.5 432.8 259.1 436.3 259 440.3 259.5 441.8 260.5 442.3 260.4 444.8 262.4 445.6 262.6 448.9 265.6 451.3 268.6 451.2 269.1 452.8 271.6 454.4 276.6 454.9 280.6 454.9 284.6 454.2 287.6 452.2 291.6 449.4 294.1 449.3 294.6 441.8 298.6 441.3 298.4 437.8 299.9 437.3 299.6 434.8 300.6 433.8 300.6 429.8 301.6 429.3 301.5 424.8 302.4 424.3 302.2 423.3 302.6 409.3 304.3 405.7 305.1 396.3 309 390.3 310.4 383.3 311 365.3 311.1 344.3 313.7Z" fill="#69e1f4" fill-rule="evenodd"/>
<path d="M348.3 313.1 338.3 313 333.3 311.5 330.8 310 330.8 273.7 333.3 269.8 335.8 264.3 339.4 255.1 342.8 244.5 345.3 241.2 349.3 238.8 356.8 236.6 368.8 235.4 373.8 235.8 377.5 237.6 380.3 240 382.3 244 382.8 249.6 386.4 259.1 387.3 266.1 389.3 269.1 391.3 270.4 393.8 270.4 396.3 269.1 399.3 265.9 401.8 262.4 405.9 259.6 412.8 256.4 415.3 255.6 417.3 255.4 420.8 256 428.8 259.1 438.3 260.3 439.8 261.1 441.8 261.5 443.3 262.6 443.8 262.5 448.9 267.6 450 269.1 451.5 272.6 452.8 277.6 453.2 282.1 452.6 287.1 451.6 289.6 450.1 292.1 446.3 295.1 446.3 295.6 444.3 296.8 443.7 296.6 443.3 297.3 442.8 297.1 437.8 299.4 437.3 299.1 434.8 300.2 433.8 300.1 429.8 301.3 429.3 301.1 427.8 301.6 425.8 301.6 423.3 302.2 422.8 302 421.8 302.4 411.8 303.5 407.3 304.4 404.4 305.1 395.8 308.7 391.3 309.8 381.8 310.8 365.3 310.9 348.3 313.1Z" fill="#6de9ed" fill-rule="evenodd"/>
<path d="M349.3 312.6 343.8 313.1 338.3 312.6 333.3 310.9 330.8 309.2 330.8 274.7 333.3 271.3 334.9 268.1 339.1 258.1 341.8 252.6 344.6 244.6 346.8 241.8 350.8 239.4 358.3 237.4 369.3 236.2 374.3 236.7 377.8 238.5 380.3 241.3 381.5 244.6 383.3 252.7 385.9 259.1 386.8 265.6 388.8 268.8 391.3 270.7 393.3 270.8 396.3 269.4 401.8 263.2 406.3 260 413.8 256.7 416.8 256.1 420.3 256.6 426.3 259.1 430.3 260.1 434.8 260.5 440.8 262.1 443.3 263.5 445.5 265.6 447.9 268.6 449.4 271.1 451.3 279.1 451.5 285.6 450.8 289.1 449.5 291.6 446.9 294.1 442.9 296.6 437.8 299 437.3 298.8 434.3 300 433.8 299.8 431.8 300.6 431.3 300.4 427.8 301.3 427.3 301.1 426.3 301.5 407.3 304 403.5 305.1 396.8 308.1 389.8 309.8 381.8 310.5 363.8 310.7 349.3 312.6Z" fill="#70f0e6" fill-rule="evenodd"/>
<path d="M347.8 312.6 342.3 312.7 338.3 312.2 333.3 310.2 330.8 308.3 330.8 275.9 333.3 272.6 335 269.6 340.3 257.1 344.3 250.1 346.6 244.6 349.3 241.8 352.8 239.9 359.8 238.2 370.3 236.8 373.8 237.2 377.6 239.1 380.3 242.3 381.8 247 381.8 248.5 383.2 253.6 385.8 260.6 386.6 265.6 388.8 269.1 391.3 270.9 393.3 271 396.4 269.6 401.3 264.4 406.8 260.4 413.3 257.5 418.3 256.9 421.3 257.7 427.3 259.9 435.3 261.3 439.8 262.6 441.3 263.8 441.8 263.7 444.3 266.1 446.2 268.6 447.9 271.6 450.5 283.1 450.5 286.6 449.9 289.1 448.2 292.1 445.9 294.1 442.9 296.1 437.8 298.7 437.3 298.4 434.3 299.7 433.8 299.5 431.8 300.3 431.3 300.1 427.8 301.1 407.3 303.8 403.3 304.9 395.3 308.3 389.8 309.5 380.3 310.2 366.3 310.2 347.8 312.6Z" fill="#6ff0dc" fill-rule="evenodd"/>
<path d="M350.3 312.1 345.3 312.4 339.3 312 334.8 310.5 330.8 307.3 330.8 277.1 335.3 270.6 340.8 257.8 344 252.1 349.3 244.1 350.9 242.6 353.5 241.1 360.5 239.1 370.3 237.6 374.8 238 377.3 239.7 378.8 241.1 380.3 243.4 382.3 252.3 385 259.6 386.3 265.6 388.8 269.3 391.3 271.1 393.3 271.2 395.8 270.2 397.4 269.1 401.3 264.9 407.3 260.8 412.3 258.6 417.8 257.7 428.3 260.7 434.3 261.8 438.8 263.2 440.3 264.4 440.8 264.4 443 266.6 446.3 272.1 447.3 276.6 448.9 280.1 449.6 283.1 449.5 286.6 448.9 289.1 447.2 292.1 445.6 293.6 442 296.1 437.8 298.3 437.3 298 434.3 299.4 433.8 299.1 429.3 300.6 428.8 300.3 425.8 301.1 406.3 303.7 402.8 304.8 395.3 307.9 389.8 309.2 380.8 309.9 365.8 310 350.3 312.1Z" fill="#6ff0d3" fill-rule="evenodd"/>
<path d="M351.3 311.7 343.3 312.1 339.3 311.5 335.8 310.4 333.8 309.2 330.8 306.2 330.8 278.4 335.5 271.6 341.2 258.6 345.3 251.6 347.6 248.6 351.4 244.6 353.3 243 356.1 241.6 361.2 240.1 370.3 238.5 373.8 238.6 376.4 239.6 378.8 242.1 380.3 244.8 380.3 246.2 381.3 248.9 382.3 253.5 384.6 259.6 386.1 265.6 388.8 269.6 390.8 271.2 393.3 271.4 395.8 270.4 398.3 268.5 401.3 265.4 403.8 263.5 410.2 260.1 415.3 258.6 419.3 258.7 429.8 261.7 434.8 262.7 437.3 263.9 437.8 263.8 438.8 264.6 439.3 264.6 443 269.1 444.7 272.6 444.7 273.6 447.4 278.6 448.4 282.1 448.6 286.1 448.2 288.6 446.3 292.1 444.1 294.1 441.1 296.1 438.3 297.6 437.8 297.4 434.3 299 433.8 298.8 431.8 299.7 427.3 300.6 406.3 303.5 402.5 304.6 395.8 307.5 389.8 308.9 380.8 309.7 366.3 309.7 351.3 311.7Z" fill="#6ef0c9" fill-rule="evenodd"/>
<path d="M349.8 311.6 343.3 311.7 337.8 310.6 333.8 308.5 331.8 306.6 330.8 305 330.8 279.7 336.6 271.1 342.3 258.1 346.3 251.6 348.7 248.6 351.8 245.8 357.8 242.6 369.8 239.5 373.8 239.5 376.8 240.6 379.8 245.2 380.3 248 381.3 250.6 381.3 251.8 385.8 265.6 388.8 269.9 390.8 271.4 392.8 271.6 395.8 270.6 397.8 269.3 403.3 264.2 407.8 262.1 408.3 261.5 414.8 259.4 418.8 259.3 421.8 259.8 436.3 264.1 438.3 265.8 438.8 265.8 440.3 267.6 446.3 278.1 447.4 281.6 447.7 286.1 447.2 288.6 445.3 292.1 442.8 294.4 439.8 296.4 434.3 298.7 433.8 298.5 431.3 299.6 430.8 299.4 427.3 300.5 405.2 303.6 401.9 304.6 395.3 307.4 389.3 308.8 382.3 309.4 364.3 309.6 349.8 311.6Z" fill="#6bf0bb" fill-rule="evenodd"/>
<path d="M350.8 311.1 344.8 311.4 338.8 310.5 334.8 308.4 331.8 305.4 330.8 303.7 330.8 280.6 337.3 271.1 342.9 258.6 346.8 252.3 351.6 247.1 354.6 245.1 357.3 244 367.8 241 371.8 240.3 374.8 240.7 377.3 242 379.8 247.1 381.9 255.1 385.6 265.6 388.8 270.2 390.8 271.7 392.8 271.8 396.1 270.6 397.8 269.6 403.3 264.7 409.3 261.5 409.8 261.6 414.3 260.1 416.8 259.8 420.3 260.1 432.8 263.7 435.3 265.2 435.8 265.1 437.3 266.7 437.8 266.6 440.6 271.1 441.8 272 442.2 273.1 442.8 273.4 443.3 274.7 443.9 275.1 446.2 280.6 446.8 284.1 446.7 286.6 446.1 289.1 444.6 292.1 440.3 295.7 434.3 298.5 433.8 298.3 431.3 299.4 430.8 299.2 429.3 299.8 425.3 300.7 404.9 303.6 395.3 307.2 388.3 308.7 379.8 309.3 366.3 309.3 350.8 311.1ZM437.3 266.3 436.9 266.1 437.3 266.3Z" fill="#68f0ac" fill-rule="evenodd"/>
<path d="M348.8 311.1 344.3 311.1 338.8 309.9 335.3 308.1 332 304.6 330.8 302 330.8 281.8 331.9 279.6 338 271.1 343.4 259.6 348 252.1 350.3 249.5 353.1 247.1 356.6 245.1 359.4 244.1 372.8 241.3 375.3 242 377 243.1 378.5 245.6 380.3 251.6 385.4 265.6 388.8 270.5 390.8 272 392.8 272 396.3 270.6 399.4 268.6 403.3 265.1 408.3 262.4 414.3 260.6 416.8 260.4 419.8 260.7 425.3 262 429.3 263.7 431.8 264.3 434.3 266 434.8 265.9 435.8 267 436.3 267 436.3 267.7 436.8 267.7 438 269.6 438.8 270.5 439.3 270.5 441.7 273.6 444.9 279.6 445.9 283.6 446 286.6 445.5 289.1 443.9 292.1 441.9 294.1 439.1 296.1 438.3 296.6 437.8 296.4 434.3 298.2 433.8 298.1 431.3 299.2 430.8 299 425.3 300.5 406.3 303.2 402.8 304.1 395.8 306.9 388.3 308.6 378.3 309.1 366.2 309.1 348.8 311.1Z" fill="#65f09d" fill-rule="evenodd"/>
<path d="M352.3 310.6 343.8 310.7 339.8 309.7 336.3 308 333.3 305.3 331.5 302.1 330.8 300 330.8 283.4 332.3 279.7 337.8 272.6 344.8 259 350.2 251.1 353.9 247.6 359.3 245 364.7 243.6 371.8 242.6 374.8 242.9 376.3 244.1 378.3 246.7 385.3 265.9 388.8 270.7 390.5 272.1 393.4 272.1 396.3 270.8 401.8 267 402.8 265.9 408.3 262.8 414.3 261.1 419.8 261.3 422.8 262 430.8 264.9 433.3 266.8 433.8 266.8 434.8 268.1 435.3 268.1 435.2 268.6 435.8 268.7 437.3 270.3 437.8 270.3 440.3 273.3 440.8 273.5 442.9 277.1 444.8 282.1 445.3 285.6 445.1 288.1 443.3 292.1 441.3 294.1 438.3 296.3 437.8 296.1 434.3 298 433.3 298 431.3 299 423.3 300.7 406.3 303.1 400.8 304.7 395.8 306.7 389.8 308.2 381.3 308.9 365.8 309 352.3 310.6Z" fill="#60f087" fill-rule="evenodd"/>
<path d="M350.8 310.1 345.3 310 340.8 309 336.8 307 334.8 305.1 332.3 301.1 331.3 297.6 330.9 292.1 331.3 285.1 332.8 280.7 338.9 273.1 345.3 261.6 348.3 257.2 354.7 250.1 358.9 247.1 361.2 246.1 370.3 244.2 373.3 244.3 376.3 246 378.8 249.7 384.9 266.1 387.5 269.6 390.3 272.3 392.3 272.6 395.3 271.6 405.8 265.1 409 263.6 413.8 262.4 418.3 262.5 421.3 263.2 422.8 264 423.8 264 427.8 265.9 428.8 267 430.3 267.3 431.3 268.2 432.8 268.4 433.8 269.4 434.3 269.3 438.8 273.6 438.8 274.1 439.3 274.3 441.3 277.6 443.1 281.6 443.8 285.1 443.7 287.6 443.2 289.6 441.6 292.6 438.8 295.1 438.3 295.1 434.1 297.6 433.3 297.6 431.3 298.6 423.3 300.6 405.8 303 400.8 304.4 395.3 306.5 389.3 307.9 381.3 308.5 366.3 308.6 350.8 310.1Z" fill="#59f069" fill-rule="evenodd"/>
<path d="M352.3 309.6 346.3 309.4 341.3 308.1 338.8 306.9 335.3 303.8 333 299.6 331.9 295.1 331.8 288.6 332.4 284.1 334.3 280.1 340.3 273.1 347.3 261.7 351.8 256.2 355.7 252.6 358.8 250.4 362.3 248.6 369.2 246.1 372.3 245.7 374.3 246.2 377.3 248.6 380.8 255.7 384.4 266.1 387 269.6 390.3 272.5 392.3 272.8 395.3 271.8 403.8 267.1 410.3 264.6 416.3 264.2 416.8 264.6 419.8 264.9 421.3 266 422.3 265.8 423.8 266.6 430.3 268.6 432.8 270.5 433.3 270.5 437.5 274.6 440.2 279.1 441.9 283.1 442.3 287.6 441.8 289.6 440.7 291.6 438.9 293.6 436.4 295.6 433.8 297.2 433.1 297.1 430.8 298.4 430.3 298.2 428.8 298.9 421.8 300.5 405.8 302.8 395.3 306.2 389.3 307.5 380.8 308.1 366.3 308.1 352.3 309.6Z" fill="#52f050" fill-rule="evenodd"/>
<path d="M357.3 308.6 350.3 308.9 344.8 308.2 341.8 307.1 337.8 304.4 335.3 301.4 333.3 296.6 332.6 291.6 333 286.1 334.1 282.6 335.8 279.9 341.8 273.2 347.3 264.6 351.8 259 355.3 255.8 359.3 253 363.3 251.1 369.3 249 372.3 248.3 374.3 248.5 375.8 249.3 377.8 251.4 381.3 258.5 383 263.6 384.6 267.1 386.1 269.1 389.9 272.6 391.3 273 394.3 272.3 402.8 268.1 409.8 266 414.3 265.7 414.8 266.1 416.3 265.9 418.3 266.2 418.8 266.6 419.8 266.5 427.3 268.8 429.3 269.6 430.3 270.6 431.8 271 433.3 272.7 433.8 272.8 434.8 274 435.3 274.2 438.3 278.4 440.4 283.1 440.8 288.1 440.2 290.1 439 292.1 437.1 294.1 433.6 296.6 432.8 296.6 428.4 298.6 422.8 300.1 405.8 302.7 400.8 303.9 394.8 305.9 389.8 307 381.8 307.6 366.3 307.7 357.3 308.6Z" fill="#4cf03b" fill-rule="evenodd"/>
<path d="M360.8 307.7 352.8 308 347.3 307.5 343.3 306.1 340.3 304.3 337.3 301.3 335.2 297.6 334.1 293.6 334 288.6 334.7 285.1 336.7 281.1 343.8 273.5 352.3 261.9 355.8 258.4 359.3 255.6 366.3 252.5 372.8 251 375.3 251.4 376.8 252.4 379.8 256.7 384.4 267.6 386.3 269.9 389.8 272.9 391.3 273.2 394.8 272.4 402.3 268.8 407.3 267.3 412.3 266.6 416.8 267 417.3 267.5 419.8 267.7 420.3 268.1 421.3 268 429.3 271.1 431.8 273.3 432.3 273.4 435.8 277.3 438.6 283.1 439 285.6 438.9 288.1 438.3 290.1 437.1 292.1 433.3 295.7 427.9 298.1 417.3 300.6 405.3 302.5 395.3 305.3 389.3 306.5 380.8 307.1 367.8 307 360.8 307.7Z" fill="#4bf035" fill-rule="evenodd"/>
<path d="M357.3 307.2 350.8 307 347.8 306.3 344.8 305.2 341.3 303 338.5 300.1 336.4 296.6 335.3 292.1 335.5 287.6 336.4 284.6 337.7 282.1 346 273.6 354.3 263.4 360.8 258.1 369 254.1 373.8 253.3 375.3 253.5 377.3 254.7 379.3 257.1 382.8 265.6 384.5 268.6 387.8 271.8 389.8 273.2 391.3 273.5 393.8 273 401.3 269.6 407.3 267.8 412.8 267.6 417.3 268.2 417.8 268.6 418.8 268.5 419.3 268.9 423.8 269.9 429.3 272.7 433.8 277.1 436.3 282.7 436.8 285.6 436.8 288.1 436 290.6 434.7 292.6 432.3 295 431.7 295.1 429.6 296.6 423.8 298.7 415.8 300.6 405.3 302.2 393.3 305.2 388.8 306 380.3 306.5 367.3 306.4 357.3 307.2Z" fill="#49f02f" fill-rule="evenodd"/>
<path d="M363.3 306.1 356.3 306.4 351.8 306.1 347.3 304.9 344.3 303.4 340.3 300 337.7 296.1 336.7 292.1 336.8 288.1 337.6 285.1 339.3 282.3 346.8 275.1 355.3 265.7 358.8 262.6 362.3 260.3 369.8 257 374.8 255.8 376.8 256.3 377.9 257.1 379.8 259.6 382.5 266.1 384.1 269.1 385.8 270.9 389.3 273.5 392.3 273.7 395.3 272.7 400.8 270.1 404.8 268.9 410.3 268.4 415.8 269 422.8 270.8 427.8 273.3 430.3 275.8 433.5 281.6 434.6 287.1 434.4 289.1 433.4 291.6 431.5 294.1 428.8 295.9 424.8 297.7 418.8 299.5 404.8 301.9 389.8 305.3 382.3 305.9 363.3 306.1Z" fill="#48f029" fill-rule="evenodd"/>
<path d="M362.8 305.6 357.8 305.7 352.8 305.3 347.8 303.8 343.3 301 340.8 298.4 339 295.6 338 292.1 338.2 288.1 339.3 284.7 341.1 282.1 348.8 275.2 356.7 267.1 362.8 262.7 370.3 259.6 374.3 258.6 377.3 259 378.8 260.2 379.8 261.7 383.9 270.1 387.8 273.2 389.8 274.2 392.8 273.9 402.8 270 407.3 269.3 412.3 269.5 418.3 270.6 418.8 271 420.8 271.4 421.3 271.9 424.3 273.2 427.3 275.9 431 281.6 432.3 285 432.4 289.6 430.1 293.6 425.8 296.5 418.3 299.1 400.3 302.4 389.8 304.8 383.3 305.4 368.3 305.2 362.8 305.6Z" fill="#50f027" fill-rule="evenodd"/>
<path d="M386.3 304.6 359.3 305 354.3 304.7 350.8 303.7 345.6 301.1 343.2 299.1 340.9 296.1 339.9 294.1 339.3 291.6 339.5 288.6 340 286.6 340.9 284.6 342.8 282.1 351.1 275.1 359.8 267.1 363.3 264.8 366.8 263.2 374.8 260.9 376.8 261.2 378.3 261.9 380.3 264.6 382.3 269 383.7 271.1 388.8 274.4 391.8 274.6 403.8 270.6 410.8 270.6 412.3 271.1 413.8 271.1 421.8 274.2 426.6 278.6 428.7 281.6 430.5 286.6 430.3 290.1 428.7 293.1 424.8 296 420.3 297.9 413.3 299.7 400.3 302 391.3 304 386.3 304.6Z" fill="#5af025" fill-rule="evenodd"/>
<path d="M386.3 304.1 359.3 304.4 351.8 303 347.1 300.6 344.8 298.8 342 295.6 340.6 291.6 341.2 287.1 342.1 285.1 344.8 281.8 361.3 268.4 367.8 265 375.3 263 376.8 263.2 378.3 264 380.3 266.4 381.8 269.6 383.7 272.1 388.3 274.8 389.8 275.2 391.8 275 399.3 272.6 404.3 271.8 411.8 272.5 412.8 273.1 414.3 273.1 419.3 275.1 421.8 276.7 425.5 280.6 427.3 283.3 428.4 286.6 428.3 290.1 427.2 292.6 423.8 295.5 420.8 297 413.8 299.1 392.3 303.3 386.3 304.1Z" fill="#64f024" fill-rule="evenodd"/>
<path d="M386.3 303.6 360.8 303.8 355.6 303.1 352.3 302.2 347.8 299.8 344.7 297.1 343.2 295.1 342.1 292.6 341.9 291.1 342.1 289.1 342.8 286.6 344.2 284.1 346.8 281.6 360.8 270.8 366.8 267.5 375.3 265 377.3 265.3 378.8 266.1 382.8 272.3 384.3 273.5 388.3 275.4 390.8 275.6 398.3 273.6 403.3 273 408.3 273.5 414.8 275 417.8 276.3 421 278.6 423.3 280.9 425.8 284.7 426.7 288.6 425.8 292.1 422.8 295 419.9 296.6 411.3 299.2 391.8 303 386.3 303.6Z" fill="#73f025" fill-rule="evenodd"/>
<path d="M386.3 303.1 378.3 303.4 360.8 303.1 354.3 301.9 349.8 299.8 347.5 298.1 345.1 295.6 344 294.1 343.3 291.6 343.8 287.6 345.4 284.6 347.8 282.1 361.8 272 368.3 268.7 375.8 266.9 377.8 267.3 379.3 268.4 381.3 271.6 383.3 273.8 388.3 276 391.3 276 397.8 274.4 402.8 274.1 409.3 275 414.8 276.8 416.8 277.7 420.6 280.6 422.8 283.1 424.2 285.6 424.9 289.1 424 292.1 421.6 294.6 419 296.1 411.8 298.5 407.3 299.6 391.3 302.6 386.3 303.1Z" fill="#86f029" fill-rule="evenodd"/>
<path d="M385.8 302.6 363.3 302.6 359.8 302.3 354.8 301.1 350.3 298.8 346.2 295.1 345.1 293.1 344.7 291.6 345.1 288.1 347.1 284.6 349.8 282 362.8 273.1 368.3 270.4 372.3 269.2 376.3 268.6 378.3 269.2 379.3 270 382.8 274.3 387.8 276.5 390.3 276.6 395.3 275.4 400.3 275 410.8 276.7 415.8 279 419.3 281.6 421.4 284.1 422.6 286.6 423 289.6 422.2 292.1 420.4 294.1 415.9 296.6 407.3 299.1 391.3 302 385.8 302.6Z" fill="#99f02e" fill-rule="evenodd"/>
<path d="M384.8 302.1 362.8 301.9 360.3 301.6 354.8 299.9 351.3 298 349.3 296.5 347.2 294.1 346.2 291.1 346.9 287.6 348.5 285.1 350.5 283.1 362.8 274.9 369.6 271.6 376.3 270.3 378.8 271 382.8 275.2 387.3 276.9 389.8 277.2 394.8 276.1 398.3 275.8 403.3 276.3 410.3 277.9 414.8 280.1 416.8 281.6 419.3 284.1 420.5 286.1 421.1 288.6 420.5 291.6 417.8 294.6 414.8 296.1 411.3 297.4 404.3 299.1 389.8 301.7 384.8 302.1Z" fill="#aeee31" fill-rule="evenodd"/>
<path d="M384.3 301.6 364.3 301.3 359.3 300.5 356.8 299.6 352.3 297.3 349.3 294.6 348 292.1 348.2 288.6 349.9 285.6 352.5 283.1 363.3 276.4 370.3 273.1 376.8 272 378.8 272.6 382.6 276.1 387.3 277.6 389.8 277.7 396.8 276.6 401.8 277.1 407.8 278.4 411.3 279.7 414.8 282.1 417.6 285.1 418.8 287.6 418.9 290.1 417.9 292.6 416.3 294.1 412.3 296.3 402.8 298.9 391.8 300.8 384.3 301.6Z" fill="#c3ec35" fill-rule="evenodd"/>
<path d="M386.8 300.6 378.8 300.9 367.8 300.5 363.8 300.2 359.4 299.1 355.1 297.1 351.8 294.6 350.2 291.6 350.5 288.6 351.8 286.2 354.8 283.4 365.2 277.1 370.8 274.6 376.8 273.6 379.3 274.3 382.8 277.1 386.3 278.1 388.8 278.3 396.8 277.6 402.3 278.3 406.8 279.4 409.3 280.4 412.8 282.7 415.3 285.1 416.2 286.6 416.9 289.1 416.3 291.7 414.5 293.6 410.8 295.8 400.8 298.5 386.8 300.6Z" fill="#d3de37" fill-rule="evenodd"/>
<path d="M387.3 299.6 376.3 299.9 367.8 299.4 362.8 298.6 359.3 297.3 355.3 295 353.2 292.6 352.8 291.1 353 289.6 353.8 287.5 355.3 285.7 360.5 282.1 369.8 277.3 373.8 276.1 377.3 275.4 378.8 275.6 382.3 278.1 386.3 279 395.3 278.5 403.3 279.7 409.3 282.3 410.8 283.4 412.9 286.1 413.5 288.1 413.2 291.1 412.2 292.6 409.3 294.7 406.3 296 400.3 297.6 387.3 299.6Z" fill="#e0c438" fill-rule="evenodd"/>
<path d="M385.3 298.6 378.8 298.8 370.8 298.4 364.3 297.2 361.3 296.1 357.8 293.8 356.3 291.6 356.4 289.6 357 288.1 358.8 286.1 363.3 283.1 372.3 279 377.8 277.9 379.3 278.1 382.3 279.7 385.3 280.2 392.8 280 400.7 281.1 405.8 283.2 407.8 284.9 409.6 287.6 409.8 289.6 409.1 291.6 407.7 293.1 405.8 294.3 398.3 296.8 385.3 298.6Z" fill="#e3a434" fill-rule="evenodd"/>
<path d="M386.3 297.6 376.8 297.8 370.8 297.4 366.3 296.5 362.8 295.2 359.8 293.1 359 291.6 359 289.6 359.8 288.1 361.3 286.6 364.8 284.5 372.8 281.4 378.3 280.5 383.3 281.7 391.8 281.8 396.8 282.6 401.8 284.6 403.3 285.7 404.8 287.6 405.3 289.1 405.2 291.1 404.2 292.6 402.8 293.7 397.8 295.7 386.3 297.6Z" fill="#e4822f" fill-rule="evenodd"/>
<path d="M383.8 297.1 373.3 296.9 366.8 295.7 364.3 294.7 362 293.1 361 291.6 361.1 289.6 362.4 287.6 366.3 285.1 373.3 282.6 378.3 281.9 383.8 282.9 390.8 283.2 395.8 284.3 399.8 286.2 401.5 287.6 402.6 289.1 402.8 290.6 402.2 292.1 399.8 293.9 393.3 295.9 383.8 297.1Z" fill="#e66429" fill-rule="evenodd"/>
<path d="M386.8 296.1 377.8 296.4 369.8 295.4 367.3 294.6 364.6 293.1 363.4 291.6 363.5 289.6 365.6 287.1 368.3 285.6 374.3 283.6 378.8 283.1 388.3 284 393.8 285.1 398.3 287.2 400 289.1 400.3 290.6 400.1 291.6 397.6 293.6 391.3 295.5 386.8 296.1Z" fill="#e64b23" fill-rule="evenodd"/>
<path d="M383.3 295.1 376.8 295.1 371.8 294.3 369.8 293.6 367.5 292.1 367 291.1 367.1 290.1 368.1 288.6 370.8 286.9 374.3 285.6 378.8 284.8 385.8 285.2 390.3 286 394.3 287.6 395.8 289.1 396.2 290.6 395.8 291.6 393.3 293.3 389.3 294.4 383.3 295.1Z" fill="#e5371c" fill-rule="evenodd"/>
<path d="M385.3 293.6 380.3 294 375.3 293.6 371.5 292.1 370.8 290.6 371.7 289.1 373.4 288.1 376.3 287.2 379.3 286.8 386.8 287.4 389.3 288.3 391 289.6 391.3 291.1 390.4 292.1 387.8 293.1 385.3 293.6Z" fill="#e42f1a" fill-rule="evenodd"/>
<path d="M382.8 293.1 378.8 293.2 375.8 292.8 373.3 291.6 373 290.6 373.7 289.6 374.8 289 379.3 288 385.3 288.7 387.8 290.1 388.1 291.1 387.3 292 382.8 293.1Z" fill="#e42918" fill-rule="evenodd"/>
<path d="M381.3 292.6 376.3 292.1 375.2 291.6 374.9 290.6 376.3 289.5 379.8 288.8 383.8 289.3 385.9 290.6 385.8 291.3 384.8 291.9 381.3 292.6Z" fill="#e22515" fill-rule="evenodd"/>
</g>
<path d="M330.8 279.3 334.8 273.6 336.3 271.1 341.3 259.4 343.3 255.6 346.3 251.1 349.2 247.6 352.3 245 355.3 243.1 358.8 241.6 364.5 240.1 369.3 239.2 372.8 239 374.8 239.3 376.3 239.9 378.3 242.2 379.3 243.6 380 245.1 380.3 247.3 381.3 249.9 381.3 251.3 384.3 259.6 385.5 264.6 387.5 268.1 388.8 269.8 390.3 271.1 391.3 271.5 392.8 271.6 395.8 270.5 397.8 269.2 400.7 266.1 402.8 264.7 403.3 264.1 407.4 262.1 407.8 261.6 410.3 260.5 410.8 260.6 414.8 259.2 415.3 259.4 417.3 259 417.8 259.2 419.3 259.1 420.8 259.6 423.3 260 426.8 261.2 430.8 262.3 432.3 262.4 433.3 263 433.8 262.9 435.8 263.8 436.3 263.7 437.8 264.9 438.3 264.8 439.8 266.4 440.3 266.3 440.9 267.1 440.8 267.6 441.3 267.7 442.5 269.6 442.5 270.1 443 270.6 442.9 271.1 443.5 272.6 446.7 278.1 446.6 278.6 447.9 282.1 448.1 285.1 447.6 288.6 446.8 290.1 445.7 291.6 445.7 292.1 442.9 294.6 438.3 297.3 437.8 297.1 434.3 298.8 433.8 298.6 431.5 299.6 430.8 299.5 429.3 300.1 428.3 300.1 427.3 300.5 426.3 300.5 425.3 300.8 424.8 300.7 423.8 301.1 422.3 301.3 421.8 301.1 421.3 301.4 418.9 301.6 418.3 301.9 410.8 302.6 410.3 302.9 405.3 303.6 403.3 304.1 400.8 305.1 399.3 305.9 395.8 307.3 389.3 308.9 381.3 309.5 366.3 309.6 360.8 310.1 350.3 311.6 343.3 311.8 342.8 311.6 341.8 311.7 341.3 311.4 340.3 311.5 335.8 310 332.8 308 331.5 306.6 330.8 305.4" fill="none" stroke="#747474" stroke-width="0.9" stroke-linejoin="round"/>
<path d="M352.8 309.1 347.8 309.1 346.8 308.7 345.3 308.7 342.3 307.8 340.7 307.1 338.3 305.6 335.8 303.1 334.3 300.8 333.6 299.1 332.6 295.1 332.3 292.6 332.3 289.6 332.8 285.1 333.8 282.2 334.7 280.6 340.5 274.1 343 270.6 348 262.6 351.8 258.1 355.8 254.5 359.8 251.9 363.3 250.1 368.8 248.2 371.3 247.5 373.3 247.3 375.3 248 377.3 250.1 378.8 252.5 379.3 253.9 380.8 256.6 380.7 257.1 381.8 259.4 381.8 260.1 383.1 263.1 383.1 263.6 384.7 267.1 387.8 270.7 390.1 272.6 391.3 272.9 392.3 272.9 394.3 272.3 399.8 269.7 403.3 267.7 410.8 265.5 411.8 265.7 414.3 265.3 414.8 265.7 416.3 265.5 416.8 265.9 418.3 265.8 418.8 266.2 419.8 266.1 420.3 266.5 422.3 266.7 423.8 267.4 424.3 267.3 424.8 267.8 425.3 267.7 425.8 268.1 426.3 268 426.8 268.4 427.3 268.4 427.8 268.8 428.3 268.7 428.8 269.2 429.3 269.1 430.3 270.1 430.8 270 431.3 270.5 431.8 270.5 432.8 271.6 433.3 271.6 434.8 273.4 435.3 273.5 437.3 276.3 437.8 276.6 439.7 280.1 440.9 283.1 441.3 285.1 441.2 288.1 440.7 290.1 439.4 292.1 437.5 294.1 434.1 296.6 432.8 296.9 430.8 298 430.3 297.9 428.8 298.6 427.8 298.7 426.8 299.2 425.8 299.2 424.8 299.7 423.8 299.7 423.1 300.1 420.8 300.3 420.3 300.6 419.8 300.5 417.8 301.1 416.3 301.1 411.3 302.1 410.3 302 407.8 302.4 407.3 302.6 405.8 302.7 400.8 304 394.8 306.1 389.8 307.2 386.3 307.6 380.8 307.8 366.3 307.8 352.8 309.1" fill="none" stroke="#747474" stroke-width="0.9" stroke-linejoin="round"/>
<path d="M361.8 306.6 356.3 306.9 352.3 306.8 349.8 306.4 345.8 305.2 342.3 303.1 339.5 300.6 337 296.6 336 293.6 335.8 292.1 336 287.6 336.9 284.6 338.7 281.6 345.9 274.6 352.3 266.7 354.7 264.1 357.3 261.7 362.3 258.3 366.8 256.1 370.8 254.6 372.3 254.1 374.3 254 376.3 254.6 377.3 255.3 379.3 257.6 381.8 263.1 382.7 265.6 384.3 268.6 387.8 272 389.8 273.3 392.3 273.5 394.8 272.7 401.3 269.7 405.8 268.3 408.8 267.9 410.3 267.9 410.8 268.1 413.3 268 414.3 268.3 415.3 268.3 416.3 268.7 417.3 268.6 417.8 269 418.8 268.9 419.3 269.3 420.3 269.2 420.8 269.6 421.3 269.6 421.8 270 422.8 270 423.3 270.4 423.8 270.3 424.3 270.8 424.8 270.7 425.3 271.2 425.8 271.2 426.3 271.7 426.8 271.7 427.7 272.6 428.3 272.7 428.8 273.3 429.3 273.3 430.3 274.5 430.8 274.6 431.8 276 432.3 276.2 433.3 278.2 433.8 278.6 435 281.6 436 285.1 436.1 287.1 435.7 289.6 434.8 291.6 432.2 294.6 431.3 294.9 429.3 296.4 428.3 296.6 425.1 298.1 424.3 298.1 421.8 299.1 421.3 299 418.8 299.8 408.3 301.7 404.8 302.1 400.8 303 393.3 305.1 388.8 305.8 382.3 306.3 368.8 306.2 361.8 306.6" fill="none" stroke="#747474" stroke-width="0.9" stroke-linejoin="round"/>
<path d="M383.8 304.6 377.3 304.7 369.3 304.5 360.8 304.8 356.8 304.7 352.8 304 348.8 302.5 346.8 301.4 343.8 298.9 342.3 297.3 340.8 295.1 339.9 292.6 339.8 290.6 339.9 288.6 340.9 285.6 341.8 284.1 343.8 281.8 350.7 276.1 356.6 270.6 360.8 267.2 364.3 265.1 367.3 263.7 371.3 262.4 374.8 261.6 376.8 261.7 378.3 262.6 380.3 265.3 382.1 269.1 383.4 271.1 384.5 272.1 388.8 274.6 390.3 274.8 391.8 274.7 402.8 271.1 407.8 270.9 408.3 271.2 411.8 271.4 413.3 272 414.8 272 415.8 272.5 416.3 272.5 417.3 273.1 418.3 273.1 418.8 273.7 419.8 274 420.3 274.5 420.8 274.5 421.2 275.1 422.3 275.5 422.8 276.1 423.3 276.2 423.8 277 424.3 277.2 424.8 278 425.3 278.2 428.3 282.3 429.3 284.5 429.9 287.1 429.6 290.1 428.3 292.8 426.4 294.6 422.9 296.6 422.3 296.6 421.6 297.1 417.3 298.6 416.8 298.6 413.3 299.6 399.8 302 391.3 303.9 383.8 304.6" fill="none" stroke="#747474" stroke-width="0.9" stroke-linejoin="round"/>
<path d="M387.8 302.6 378.3 303 361.3 302.7 359.7 302.6 354.8 301.4 351.8 300.1 349.3 298.6 347.1 296.6 345.3 294.6 344.6 293.1 344.2 291.1 344.4 288.6 344.9 287.1 346.5 284.6 349.1 282.1 362.3 272.9 367.8 270 370.8 269 375.8 268.1 376.8 268.1 378.3 268.6 379.3 269.5 381.8 273.1 382.8 274 384.3 274.9 387.8 276.3 390.3 276.4 395.8 275.1 399.8 274.7 407.9 275.6 412.3 276.8 416.8 279 419 280.6 420.5 282.1 422.6 285.1 423.6 287.6 423.4 290.6 422.8 292.1 422.1 293.1 419.6 295.1 414.8 297.3 409.3 298.8 394.7 301.6 387.8 302.6" fill="none" stroke="#747474" stroke-width="0.9" stroke-linejoin="round"/>
<path d="M387.8 301.2 379.8 301.5 367.8 301.2 361.8 300.7 359.3 300.1 354.8 298.2 350.8 295.6 349.3 293.8 348.7 292.6 348.4 290.6 348.7 288.6 349.7 286.6 350.8 285.1 352.8 283.4 363.3 276.9 367.3 274.9 370.8 273.5 376.8 272.5 377.8 272.6 378.8 273 381.5 275.6 382.8 276.5 387.3 277.9 390.3 277.8 393.8 277.1 396.8 277 401.8 277.4 407.3 278.7 409.8 279.6 412.3 280.9 416 284.1 417.5 286.1 418.3 289.1 417.8 291.6 417.2 292.6 415.8 294 413.1 295.6 408.8 297.2 403.3 298.6 387.8 301.2" fill="none" stroke="#747474" stroke-width="0.9" stroke-linejoin="round"/>
<path d="M387.3 299.6 382.3 299.9 376.3 299.9 367.8 299.4 362.8 298.6 359.3 297.3 356.8 296 355.3 295 354.3 294.1 353.2 292.6 352.8 291.1 353 289.6 353.8 287.5 355.3 285.7 357.3 284.1 360.5 282.1 369.8 277.3 373.8 276.1 377.3 275.4 378.8 275.6 382.3 278.1 386.3 279 388.8 279.1 392.3 278.5 395.3 278.5 398.3 278.8 403.3 279.7 407.3 281.2 409.3 282.3 410.8 283.4 412.9 286.1 413.5 288.1 413.6 289.6 413.2 291.1 412.2 292.6 409.3 294.7 406.3 296 400.3 297.6 387.3 299.6" fill="none" stroke="#747474" stroke-width="0.9" stroke-linejoin="round"/>
<path d="M386.8 298.1 382.3 298.4 376.8 298.4 369.3 297.8 364.8 296.8 361.3 295.4 358.4 293.1 357.7 292.1 357.4 291.1 357.7 289.1 358.5 287.6 359.8 286.3 362.1 284.6 364.3 283.4 371.8 280.1 374.8 279.2 377.8 278.7 379.3 278.9 381.8 280.2 385.3 280.7 387.3 280.8 392.3 280.4 397.8 281.1 399.6 281.6 404.3 283.4 405.8 284.5 407.8 286.9 408.3 288.6 408.1 290.6 406.9 292.6 405.3 293.8 402.3 295.1 398.3 296.3 394.3 297.1 386.8 298.1" fill="none" stroke="#747474" stroke-width="0.9" stroke-linejoin="round"/>
<path d="M384.3 296.6 376.3 296.6 369.3 295.7 366 294.6 364.1 293.6 363 292.6 362.4 291.6 362.3 290.1 362.8 288.9 363.9 287.6 365.3 286.6 368.3 285.1 373.3 283.4 378.3 282.7 383.8 283.5 389.8 283.8 394.3 284.8 398.3 286.5 399.7 287.6 400.8 289.1 401.2 290.1 400.9 291.6 400.1 292.6 397.8 293.9 394.4 295.1 392.3 295.6 384.3 296.6" fill="none" stroke="#747474" stroke-width="0.9" stroke-linejoin="round"/>
<path d="M385.3 293.6 380.3 294 375.3 293.6 372.8 292.8 371.5 292.1 371 291.6 370.8 290.6 371.7 289.1 373.4 288.1 376.3 287.2 379.3 286.8 383.8 287 386.8 287.4 389.3 288.3 390.3 288.9 391 289.6 391.4 290.6 391.3 291.1 390.4 292.1 387.8 293.1 385.3 293.6" fill="none" stroke="#747474" stroke-width="0.9" stroke-linejoin="round"/>
</g>
<rect x="333.7" y="237.5" width="156.2" height="89.5" fill="none" stroke="#dcdcf4" stroke-width="0.8"/>
<rect x="332.8" y="236.6" width="158" height="91.3" fill="none" stroke="#333333" stroke-width="1"/>
<line x1="330.8" y1="238" x2="332.8" y2="238" stroke="#333333" stroke-width="0.8"/>
<text x="329.8" y="240.3" font-size="6.5" text-anchor="end" fill="#262626">2.5</text>
<line x1="330.8" y1="260.18" x2="332.8" y2="260.18" stroke="#333333" stroke-width="0.8"/>
<text x="329.8" y="262.48" font-size="6.5" text-anchor="end" fill="#262626">2.0</text>
<line x1="330.8" y1="282.35" x2="332.8" y2="282.35" stroke="#333333" stroke-width="0.8"/>
<text x="329.8" y="284.65" font-size="6.5" text-anchor="end" fill="#262626">1.5</text>
<line x1="330.8" y1="304.52" x2="332.8" y2="304.52" stroke="#333333" stroke-width="0.8"/>
<text x="329.8" y="306.82" font-size="6.5" text-anchor="end" fill="#262626">1.0</text>
<line x1="330.8" y1="326.7" x2="332.8" y2="326.7" stroke="#333333" stroke-width="0.8"/>
<text x="329.8" y="329" font-size="6.5" text-anchor="end" fill="#262626">0.5</text>
<line x1="332.8" y1="327.9" x2="332.8" y2="329.9" stroke="#333333" stroke-width="0.8"/>
<text x="332.8" y="337.2" font-size="6.5" text-anchor="middle" fill="#262626">0</text>
<line x1="344.09" y1="327.9" x2="344.09" y2="329.1" stroke="#333333" stroke-width="0.8"/>
<line x1="355.37" y1="327.9" x2="355.37" y2="329.9" stroke="#333333" stroke-width="0.8"/>
<text x="355.37" y="337.2" font-size="6.5" text-anchor="middle" fill="#262626">2</text>
<line x1="366.66" y1="327.9" x2="366.66" y2="329.1" stroke="#333333" stroke-width="0.8"/>
<line x1="377.94" y1="327.9" x2="377.94" y2="329.9" stroke="#333333" stroke-width="0.8"/>
<text x="377.94" y="337.2" font-size="6.5" text-anchor="middle" fill="#262626">4</text>
<line x1="389.23" y1="327.9" x2="389.23" y2="329.1" stroke="#333333" stroke-width="0.8"/>
<line x1="400.51" y1="327.9" x2="400.51" y2="329.9" stroke="#333333" stroke-width="0.8"/>
<text x="400.51" y="337.2" font-size="6.5" text-anchor="middle" fill="#262626">6</text>
<line x1="411.8" y1="327.9" x2="411.8" y2="329.1" stroke="#333333" stroke-width="0.8"/>
<line x1="423.09" y1="327.9" x2="423.09" y2="329.9" stroke="#333333" stroke-width="0.8"/>
<text x="423.09" y="337.2" font-size="6.5" text-anchor="middle" fill="#262626">8</text>
<line x1="434.37" y1="327.9" x2="434.37" y2="329.1" stroke="#333333" stroke-width="0.8"/>
<line x1="445.66" y1="327.9" x2="445.66" y2="329.9" stroke="#333333" stroke-width="0.8"/>
<text x="445.66" y="337.2" font-size="6.5" text-anchor="middle" fill="#262626">10</text>
<line x1="456.94" y1="327.9" x2="456.94" y2="329.1" stroke="#333333" stroke-width="0.8"/>
<line x1="468.23" y1="327.9" x2="468.23" y2="329.9" stroke="#333333" stroke-width="0.8"/>
<text x="468.23" y="337.2" font-size="6.5" text-anchor="middle" fill="#262626">12</text>
<line x1="479.51" y1="327.9" x2="479.51" y2="329.1" stroke="#333333" stroke-width="0.8"/>
<line x1="490.8" y1="327.9" x2="490.8" y2="329.9" stroke="#333333" stroke-width="0.8"/>
<text x="490.8" y="337.2" font-size="6.5" text-anchor="middle" fill="#262626">14</text>
<text x="411.8" y="346.4" font-size="9.2" text-anchor="middle" fill="#262626">&#954; (&#197;<tspan font-size="6" dy="-3.2">-1</tspan><tspan dy="3.2">)</tspan></text>
<text x="315.6" y="277.5" font-size="9" text-anchor="middle" fill="#262626" transform="rotate(-90 315.6 277.5)">R+&#916;R (&#197;)</text>
<text x="485" y="321.7" font-size="13.9" text-anchor="end" fill="#ffffff">Ni SAs</text>
<clipPath id="clip5"><rect x="523.5" y="237.7" width="157.5" height="90.3"/></clipPath>
<g clip-path="url(#clip5)">
<g filter="url(#hblur)">
<rect x="521.5" y="235.7" width="161.5" height="94.3" fill="#0c00ff"/>
<path d="M683 329.7 521.5 329.7 521.5 235.7 683 235.7 683 329.7Z" fill="#0e06ff" fill-rule="evenodd"/>
<path d="M683 329.7 521.5 329.7 521.5 235.7 683 235.7 683 329.7Z" fill="#0f0aff" fill-rule="evenodd"/>
<path d="M683 329.7 521.5 329.7 521.5 235.7 683 235.7 683 329.7Z" fill="#100dff" fill-rule="evenodd"/>
<path d="M683 329.7 521.5 329.7 521.5 235.7 683 235.7 683 329.7Z" fill="#1211ff" fill-rule="evenodd"/>
<path d="M683 329.7 521.5 329.7 521.5 235.7 683 235.7 683 329.7Z" fill="#1519ff" fill-rule="evenodd"/>
<path d="M683 329.7 521.5 329.7 521.5 235.7 683 235.7 683 329.7Z" fill="#1823ff" fill-rule="evenodd"/>
<path d="M683 329.7 521.5 329.7 521.5 235.7 683 235.7 683 329.7Z" fill="#1c2cff" fill-rule="evenodd"/>
<path d="M683 329.7 521.5 329.7 521.5 235.7 683 235.7 683 329.7Z" fill="#2038ff" fill-rule="evenodd"/>
<path d="M559 328.2 548.5 328.1 538 326.7 528 324 521.5 321.2 521.5 235.7 683 235.7 683 319.6 681.5 320.2 679.5 320.4 679 320.8 676.5 321.1 676 321.5 673 321.9 672.5 322.3 669 322.7 667.5 323.3 666 323.2 664.5 323.8 652 325.2 635 325.7 607.5 323.5 600 323.4 590.5 324.1 571 327.2 559 328.2Z" fill="#2647ff" fill-rule="evenodd"/>
<path d="M561.5 321.7 552 321.3 545 320.2 539.5 318.8 529.5 314.8 529 314.2 525.5 312.6 521.5 309.9 521.5 247.1 528.6 240.7 535.3 235.7 683 235.7 683 310.6 680.5 311.7 679.7 311.7 679.5 312.2 679 312 674 313.9 667.5 315.6 666 315.6 664.5 316.3 659 317 658 317.5 651.5 318.4 650.5 318.2 648.5 318.8 646 318.7 638.5 319.4 630 319.3 607 317.5 599 317.4 591 318.2 569.5 321.3 561.5 321.7Z" fill="#2c55ff" fill-rule="evenodd"/>
<path d="M566.5 317.2 560 317.1 552.5 316.2 547.5 315.1 539 312.2 534.5 310 529.5 306.7 524.2 302.2 521.5 298.9 521.5 259.6 523.9 255.7 529.8 249.2 537.5 242.5 544.5 237.7 548.2 235.7 665.7 235.7 672 238 675 239.7 675.5 239.7 683 244.6 683 302.9 681.7 303.7 675.5 307.2 675 307.1 672.5 308.3 672 308.2 668 309.8 653.5 313.2 646 314.2 629.5 315 620 314.7 606 313.4 599.5 313.3 594 313.7 573.8 316.7 566.5 317.2ZM615.3 239.2 615.5 238.7 615 238.6 614.5 239.2 615.3 239.2Z" fill="#3264ff" fill-rule="evenodd"/>
<path d="M568.5 312.7 561.5 312.3 554.5 311.2 547 308.8 540.5 305.6 535 301.7 530.6 297.2 527.9 292.7 526.4 288.2 526.2 282.7 528 267.2 528.7 264.2 530 261.2 535.7 253.7 539.5 250 547.5 243.7 554.5 239.6 563.8 235.7 613.8 235.7 612 237.2 611.4 238.2 611.4 239.2 612.9 240.7 615.5 241.1 617.5 240.5 618.9 239.2 619.3 237.7 618.7 235.7 642.5 235.9 650.5 237.5 659 240 669.5 244.7 677 250.7 680.6 256.2 682.1 261.2 683 267.2 683 284.6 682.4 288.2 681.2 291.7 678.5 296.1 675 299.2 670.5 302.2 661.5 305.5 658.5 305.7 656 306.6 653.5 306.6 651.5 307.4 645.5 307.9 644 308.4 643 308.2 641 308.7 640 308.5 639.5 308.9 636 308.9 635.5 309.3 633 309.1 632.5 309.5 624 309.9 612 309.2 599 309.2 576.5 312.3 568.5 312.7Z" fill="#3a75ff" fill-rule="evenodd"/>
<path d="M576 310.2 568.5 310.5 561.5 309.8 557 309 549 306.3 543 303.1 537.9 299.2 533.4 293.7 531.2 288.7 530.6 284.7 530.9 279.7 532.5 267.2 534.2 262.2 537.7 257.2 543 251.7 549.5 246.5 557 241.9 563.5 239 573.4 235.7 610 235.7 609.5 238.2 610 239.7 612 241.3 615 241.9 618.8 241.2 624 237.3 627.5 236.9 635 237.5 642 238.6 651 240.7 662 244.7 669.8 249.7 672.9 252.7 675.2 256.2 676.9 260.7 678 267.2 678.3 280.2 677.7 286.2 676.4 290.7 674.7 293.7 671.8 296.7 667 300.2 660.5 302.8 656 304 654.5 303.9 653.5 304.4 646.5 305 645.5 304.6 644 304.9 643 304.5 641.5 304.9 640 304.2 639.5 304.5 638.5 304.1 638 304.5 636.5 304 636 304.4 633.5 303.9 633 304.5 630 304.7 624 306.9 623.5 306.6 621.5 307.2 617 307.5 598.5 307.2 576 310.2ZM640 304.8 640 304.3 640 304.8Z" fill="#4286ff" fill-rule="evenodd"/>
<path d="M579.5 308.2 568 308.5 564.5 308.2 558 306.9 550.5 304.2 544.5 300.7 540.5 297.5 537.1 293.2 534.9 288.7 534.2 284.2 534.3 280.7 536 267.7 537.5 263 539.5 259.7 543 255.7 547 252 552 248.1 559 243.7 563.5 241.6 575.1 237.7 579.7 235.7 607.3 235.7 607.8 238.2 609 240.2 610.9 241.7 613.5 242.5 618 242.4 620.5 241.6 624.5 239.6 628.5 239.2 637.5 240 650 243 657.5 245.7 664.5 249.7 668.8 253.7 671.3 257.2 673.2 262.2 673.9 266.7 674.3 278.7 674 284.2 673.1 288.2 671.6 291.7 669.1 294.7 665.5 297.7 660.5 300.2 654.5 301.7 648 302.2 645 301.9 634 302 628 302.7 616 305.2 597.5 305.6 579.5 308.2Z" fill="#50a6fe" fill-rule="evenodd"/>
<path d="M575.5 306.8 568.5 306.7 563.5 305.9 558.5 304.7 553 302.5 546.5 298.6 542.5 294.9 539.7 290.7 538.1 286.7 537.8 282.2 539.3 269.2 540.1 265.7 541.5 262.7 543.5 259.7 546 256.9 550.5 252.7 555 249.2 561.5 245.3 567 242.8 579 238.7 584.2 235.7 604.5 235.7 608.5 241.1 610.1 242.2 612.5 243.1 617.5 243.3 626.5 241.4 633 241.6 642.5 243.4 651 246 658 249.1 662.5 252.1 665.5 255.2 667.5 258.2 669.2 262.7 669.9 267.7 670.3 279.7 669.6 285.7 668.5 289.2 666.7 292.2 663.2 295.7 660.5 297.3 657 298.7 651.5 299.9 630 301 615.5 303.4 598.5 303.9 581.5 306.4 575.5 306.8Z" fill="#61cdf9" fill-rule="evenodd"/>
<path d="M574 305.3 569.5 305 563.5 304 556.5 301.7 551.5 299 547.5 296 545.3 293.7 542.8 290.2 541.2 285.7 541 281.2 542.4 269.2 543.2 266.2 544.5 263.2 547 259.8 551.5 255.2 557.5 250.4 563.5 246.8 568 244.7 580.5 240.4 583.6 238.7 587.8 235.7 601.6 235.7 604 237.7 607.7 241.7 611.5 243.6 616.5 244.1 626.5 243 630.5 243.2 639 244.7 649.5 247.9 654.5 250.1 658.5 252.7 661.3 255.2 664.1 259.2 665.3 262.2 666.4 267.7 666.7 277.2 666.4 283.7 665.5 287.2 663.7 290.7 660.6 294.2 658 295.9 653 297.9 647.5 298.9 631.5 299.9 613.5 302.3 599 302.4 581 304.9 574 305.3Z" fill="#69e1f4" fill-rule="evenodd"/>
<path d="M579 303.8 574 303.9 566 302.9 562 301.8 556.5 299.5 552.5 297.2 548.5 293.7 545 288.7 544 285.7 543.7 281.2 545.1 269.2 545.5 267.2 547.4 263.2 550.5 259.2 554.8 255.2 560 251.2 565.5 247.9 569 246.3 581.5 242 591 235.9 598.1 235.7 602 237.9 607 242.4 610.8 244.2 615 244.9 624 244.4 634 245.4 641.5 247.2 648 249.5 652.5 251.5 655.5 253.4 658.6 256.2 661.4 260.2 662.8 264.2 663.4 268.7 663.7 278.2 663.2 284.7 662 288.2 660.1 291.2 659 292.4 655 295.2 649.5 297.1 640 298.4 617.5 300.8 597.5 301.3 579 303.8Z" fill="#6de9ed" fill-rule="evenodd"/>
<path d="M582.5 302.2 577 302.5 571 302.1 565.5 301.1 561.5 299.7 557.5 297.8 552.5 294.3 548.5 289.6 547 286.4 546.4 283.2 546.5 279.7 547.9 268.7 549.4 264.7 552 261 556 257.1 561 253 565 250.4 570.6 247.7 583 243.3 591.5 237.7 594 237 596 237 599 237.9 606.5 243.1 611 244.9 616.5 245.7 624.5 245.9 633.5 247.1 640 248.6 645 250.3 648 251.6 653 254.5 657 258.4 658.1 260.2 659.5 263.7 660.4 268.2 660.7 278.2 660.4 283.2 659.4 286.7 658 289.5 655.5 292.2 652.5 294.1 649.5 295.5 643.5 297 632.5 298.7 617.5 300.1 600 299.9 582.5 302.2Z" fill="#70f0e6" fill-rule="evenodd"/>
<path d="M584.5 301.2 575 301.6 568 300.6 563 299 558.5 296.9 554.7 294.2 551.5 291.1 549 286.7 548.2 283.7 548.2 280.2 549.4 269.7 550.4 266.2 552.6 262.7 557.5 257.5 562 253.9 567 250.7 573.5 247.8 582 245 585 243.5 591.5 239.1 595.5 238.1 599 239.1 605.5 243.3 610.5 245.4 615.5 246.3 624.5 246.8 634 248.3 642.5 250.8 647 252.6 650.5 254.6 653.5 257.1 656 260.2 657.5 263.7 658.4 268.2 658.8 277.7 658.5 282.7 657.6 286.2 656 289.3 654 291.5 651 293.5 646 295.7 633 298 616.5 299.6 599 299.2 584.5 301.2Z" fill="#6ff0dc" fill-rule="evenodd"/>
<path d="M583 300.7 574 300.7 567.5 299.5 562.5 297.7 559.5 296.2 555 292.9 552 289.5 550.3 286.2 549.5 281.2 550.9 269.7 552.2 265.7 554.2 262.7 557.9 258.7 561.5 255.7 566.5 252.2 573.5 248.9 583.9 245.2 592.5 239.7 594.5 239.2 596.5 239.2 600 240.5 607 244.9 611 246.3 615 247 624.5 247.7 634 249.3 641.5 251.5 647 253.9 650.5 256.2 653.5 259.2 654.5 260.7 655.9 263.7 656.8 268.2 657.2 277.7 656.8 282.7 656 286 654.2 289.2 652.5 291 649.5 293.1 643 295.6 628.5 298 615 299 599 298.6 583 300.7Z" fill="#6ff0d3" fill-rule="evenodd"/>
<path d="M581 300.2 576 300.1 571 299.4 566.5 298.2 562 296.3 559 294.6 555.5 291.7 552.5 287.7 551.4 284.7 551 280.2 552.2 270.2 553 267.2 554 265.1 557.5 260.8 560.5 258 564.5 254.8 569.5 251.7 575.5 249.1 584 246.2 592.5 240.9 596 240.2 599.5 241.2 605.9 245.2 610.5 246.9 614.5 247.7 629.5 249.2 634.5 250.3 641.5 252.6 648 255.9 650.5 258 653.5 262 654.6 265.2 655.3 269.2 655.6 278.2 655.2 282.7 654 286.7 652.4 289.2 648 292.7 644 294.4 639.5 295.6 627 297.8 615 298.6 599.5 297.9 581 300.2Z" fill="#6ef0c9" fill-rule="evenodd"/>
<path d="M586 299.3 576.5 299.6 571.5 298.9 565.5 297.1 561.5 295.1 557.5 292.2 555 289.6 552.8 285.7 552.1 282.7 552.1 279.7 553.3 269.7 554.3 266.7 555.4 264.7 559.5 260 563.5 256.6 568 253.5 572.5 251.1 584.5 246.9 593 241.5 596.5 241.1 599.5 242 605.7 245.7 610 247.4 614.5 248.3 630 250.1 640.5 253.1 644 254.7 648 257.2 650.5 259.6 652 261.8 653.2 264.7 654.1 269.2 654.4 277.7 654.1 282.2 653.5 284.7 652.1 287.7 650.5 289.7 647 292.3 641 294.8 634.5 296.4 627 297.6 615.5 298.3 605.5 297.6 598.5 297.6 586 299.3Z" fill="#6bf0bb" fill-rule="evenodd"/>
<path d="M583 299.2 577 299.3 573 298.8 568.5 297.7 563 295.4 558.5 292.4 556 290 554.1 287.2 552.9 284.2 552.5 279.2 553.6 270.2 555 266.2 557.4 262.7 560.4 259.7 565.5 255.6 570.4 252.7 573.4 251.2 584.5 247.4 592.5 242.4 594.5 241.8 596.5 241.7 599.5 242.6 606 246.3 610 247.8 615.5 248.8 627.5 250 639 253.1 643 254.8 647 257.2 649 258.9 651.5 262.2 652.9 265.7 653.6 269.7 653.9 278.7 653.4 282.7 652.3 286.2 650.5 288.9 649 290.4 645.5 292.6 638.5 295.1 632 296.5 623.5 297.7 615.5 298 599.5 297.3 583 299.2Z" fill="#68f0ac" fill-rule="evenodd"/>
<path d="M586 298.7 580 299 574.5 298.7 568 297.1 564.5 295.7 561 293.7 557.9 291.2 555.3 288.2 553.7 285.2 553 282.2 552.9 279.2 554 270.2 555.2 266.7 556.7 264.2 559.9 260.7 565 256.5 570.5 253.2 573.5 251.7 585.5 247.4 593 242.8 596.5 242.3 599.5 243.1 605.8 246.7 610 248.2 614 249 626.5 250.3 637.5 253 642 254.8 646 257.2 649 259.7 651.3 263.2 652.6 266.7 653.1 270.7 653.4 278.2 652.9 282.7 651.6 286.2 650.3 288.2 647.7 290.7 645.5 292.1 642.5 293.5 637 295.1 625.5 297.2 615.5 297.8 599.5 297.1 586 298.7Z" fill="#65f09d" fill-rule="evenodd"/>
<path d="M582.5 298.7 574.5 298.3 567.5 296.4 564 294.8 559 291.6 556.5 289 554.9 286.7 553.6 283.2 553.4 279.2 554.1 272.2 554.8 268.7 555.6 266.7 557.7 263.7 561.5 259.8 564.1 257.7 570.5 253.6 574.5 251.7 585.5 247.9 592.5 243.6 594.5 243 596.5 242.9 599.5 243.7 605 246.8 609.5 248.5 614 249.3 626.5 250.7 632.5 252 638 253.7 645.5 257.4 647.7 259.2 650.1 262.2 651.5 265.2 652.5 269.7 652.9 277.7 652.5 281.7 651.5 285.2 650 287.8 647.5 290.3 645.5 291.5 642.5 293 637.5 294.7 623 297.2 615.5 297.5 599.5 296.9 582.5 298.7Z" fill="#60f087" fill-rule="evenodd"/>
<path d="M588.5 297.7 579.5 298.1 575.7 297.7 568.5 295.9 563 293.2 560 291.1 557 288 554.9 284.2 554.3 280.7 554.5 276.7 555.2 270.7 556.9 266.2 559 263.4 561.8 260.7 565.5 257.7 571 254.3 575.5 252.2 586 248.7 593.5 244.5 596.5 244 599 244.5 606 248.1 609.5 249.3 625.5 251.4 636.5 254.2 642.5 256.8 644.5 258.2 647.5 260.8 649.5 263.6 650.7 266.7 651.5 270.7 651.8 276.7 651.5 281.2 650.6 284.2 649.5 286.5 647.1 289.2 644 291.4 636 294.3 630.5 295.6 622.5 296.7 613.5 297.1 599.5 296.5 588.5 297.7Z" fill="#59f069" fill-rule="evenodd"/>
<path d="M588 297.2 582 297.5 577 297.2 573.5 296.5 567.5 294.5 564 292.7 559.9 289.7 558.5 288.2 556.2 284.7 555.3 281.7 555.2 278.2 555.9 271.2 557.5 266.8 558.9 264.7 563 260.7 571 255.2 576 253 586.5 249.5 593 245.8 595 245.2 597 245.2 599 245.6 605.5 248.8 609.5 250.1 625 252.1 635 254.6 639 256.2 643 258.4 646 260.9 648 263.5 649.7 267.2 650.3 270.2 650.7 275.7 650.5 280.2 649.7 283.2 647.9 286.7 644.8 289.7 643 290.8 640 292.3 633 294.4 622 296.2 614.5 296.6 599.5 296 588 297.2Z" fill="#52f050" fill-rule="evenodd"/>
<path d="M586.5 296.7 580.5 296.7 576 296.2 568 293.7 564.4 291.7 560.5 288.6 558.5 286.2 556.8 282.7 556.2 278.7 556.7 273.2 557.2 270.2 558.8 266.7 561.5 263.4 564 261.1 569.5 257.2 573.2 255.2 577 253.6 586.5 250.7 594 246.8 597 246.4 599.5 247.1 605.1 249.7 608.5 250.8 623.5 252.8 633.5 255.2 638 257 642.6 259.7 645.3 262.2 647.1 264.7 648.7 268.7 649.2 271.7 649.5 276.7 649 281.2 648 284 646.2 286.7 644.2 288.7 641.5 290.4 636 292.7 630.5 294.1 624 295.2 615 295.9 599 295.6 586.5 296.7Z" fill="#4cf03b" fill-rule="evenodd"/>
<path d="M590 295.7 585 295.9 579 295.6 571.5 293.7 568 292.2 563.9 289.7 561.2 287.2 558.8 283.7 557.9 281.2 557.6 277.7 558.2 271.7 559.3 268.2 560.6 266.2 563.5 263.2 566.5 260.7 571.5 257.5 577 254.9 588 251.5 594 248.5 597.5 248 608 251.9 622.5 253.8 633 256.4 638 258.6 640.5 260.2 643.5 262.7 645 264.7 646.5 267.7 647.6 271.7 647.9 276.2 647.4 280.2 646.7 282.7 645.3 285.2 642.5 288.1 640 289.7 633 292.4 621.5 294.7 610.5 295.3 600 294.9 590 295.7Z" fill="#4bf035" fill-rule="evenodd"/>
<path d="M592.5 294.7 583 295 577.5 294.2 573.5 293.2 567 290.1 562.3 286.2 560.5 283.7 559.3 280.7 559 277.7 559.3 273.7 559.7 271.2 560.9 268.2 563.2 265.2 565.5 263.1 571 259.2 575.8 256.7 588.4 252.7 594.5 249.9 597 249.5 599.5 249.9 607.5 252.9 624.5 255.4 633 257.9 636 259.2 639.5 261.4 642.5 264.2 644 266.5 645.2 269.2 646 272.7 646.2 276.2 645.8 279.7 644.8 282.7 643.2 285.2 638.5 289 632.5 291.5 623 293.7 612 294.5 600.5 294.2 592.5 294.7Z" fill="#49f02f" fill-rule="evenodd"/>
<path d="M589.5 294.2 580 293.7 574.1 292.2 571 290.9 567 288.5 564.5 286.5 562.9 284.7 561.4 282.2 560.5 279.2 560.4 276.2 560.9 271.7 562.1 268.7 564 266.1 568.4 262.2 574.3 258.7 580.5 256.1 589 253.8 594.5 251.3 598 250.9 607 253.9 622.5 256.1 627.2 257.2 632.9 259.2 636 260.8 638.7 262.7 640.8 264.7 642.8 267.7 644.2 271.7 644.6 274.7 644.5 277.7 643.8 280.7 642.7 283.2 640.7 285.7 639 287.2 635.5 289.2 629.5 291.4 619.5 293.3 613 293.8 599 293.6 589.5 294.2Z" fill="#48f029" fill-rule="evenodd"/>
<path d="M594.5 293.2 583.5 293.3 578.5 292.4 571.2 289.7 566 286.1 563.5 283.2 562.7 281.7 561.7 277.2 562.4 271.2 563.5 268.7 565 266.7 571.1 261.7 576.5 258.8 582 256.8 589 254.9 595 252.5 597.5 252.2 600 252.6 606.5 254.8 620.5 256.7 630 259.4 634 261.1 637.1 263.2 639.7 265.7 641.3 268.2 642.9 273.2 643 276.7 642.5 279.7 641.5 282.2 639.7 284.7 637.5 286.6 635 288.1 627.5 290.9 619 292.6 612 293.1 594.5 293.2Z" fill="#50f027" fill-rule="evenodd"/>
<path d="M591 292.7 582 292.2 573.7 289.7 568 286.2 565.5 283.7 564.2 281.7 563.3 279.2 563.1 275.2 563.5 272.2 564.7 269.2 566.7 266.7 569.5 264.2 576 260.2 581.5 258 590 255.8 595 253.8 598.5 253.5 606 255.7 620.5 257.8 629 260.2 635.5 263.7 638.5 266.7 640 269.2 640.8 271.2 641.5 274.7 641.3 278.2 640.7 280.2 639 283.2 637.2 285.2 633.5 287.6 630 289.2 624.7 290.7 617 292 591 292.7Z" fill="#5af025" fill-rule="evenodd"/>
<path d="M612.5 291.7 587.5 292 581.5 291.2 575.5 289.4 569.5 285.9 567.5 284.1 565.4 281.2 564.6 278.7 564.3 276.2 564.7 272.7 565.5 270.2 567.5 267.4 569.5 265.5 575 261.9 581 259.2 597 254.6 600 254.9 607 256.8 615 257.8 622 259.1 627.4 260.7 634 264.2 637.8 268.2 639.7 272.7 639.8 277.7 639.3 279.7 638 282.2 634.5 285.6 632 287.2 628.5 288.6 620 290.9 612.5 291.7Z" fill="#64f024" fill-rule="evenodd"/>
<path d="M609 291.2 588 291.3 581 290.2 574.3 287.7 569.5 284.4 566.6 280.7 565.9 278.7 565.6 275.2 565.9 272.7 566.9 270.2 568.8 267.7 571.5 265.2 578.4 261.2 583.5 259.4 597.5 255.6 607 257.7 617.5 259 623.5 260.4 631 263.6 635.3 267.2 637.8 271.2 638.5 276.2 637.5 280.2 634.5 284.2 631 286.5 625.6 288.7 616 290.7 609 291.2Z" fill="#73f025" fill-rule="evenodd"/>
<path d="M594.5 290.7 587.5 290.5 581 289.3 575 287 570 283.3 567.5 279.7 566.8 275.7 567.7 271.2 570.5 267.4 574.5 264.4 581.5 260.9 595.5 257 598 256.7 605 258.2 617 259.8 626.5 262.6 632.5 266.1 635.7 270.2 636.8 273.2 637.1 275.2 637 277.2 636.2 279.7 633.7 283.2 629.5 286.2 623.5 288.4 615.5 290.1 609.5 290.5 594.5 290.7Z" fill="#86f029" fill-rule="evenodd"/>
<path d="M612 289.7 590 290 584.5 289.3 579.5 287.9 574 285.1 571.1 282.7 569.6 280.7 568.6 278.7 568.2 276.7 568.3 274.2 569 271.7 570.5 269.2 572.5 267.1 575 265.2 580 262.6 584 261.1 597.5 257.7 620 261.4 625.5 263.3 630.5 266.1 634 270.2 635.4 273.7 635.4 277.2 633.7 281.2 630.5 284.2 626.5 286.4 620.5 288.4 612 289.7Z" fill="#99f02e" fill-rule="evenodd"/>
<path d="M607.5 289.2 589 289.1 584 288.2 578.3 286.2 574 283.6 571.5 281.1 570.7 279.7 569.9 277.7 569.7 275.7 569.9 273.7 570.7 271.2 573.5 267.8 580 263.7 587.4 261.2 598 258.8 613 261 620 262.5 626.7 265.2 630.7 268.2 633.1 271.7 633.7 273.7 633.8 276.2 632.7 279.7 630 283 626 285.5 620.5 287.4 613.5 288.8 607.5 289.2Z" fill="#aeee31" fill-rule="evenodd"/>
<path d="M611 288.2 605 288.5 590 288.4 585 287.5 580.5 286.1 575.5 283.2 572.6 280.2 571.6 278.2 571.2 276.2 571.8 272.2 573.5 269.5 575 268.1 581 264.4 585.5 262.7 598 259.9 611.5 261.7 618.5 263.1 624.5 265.4 628.5 268.1 631 271.2 632.1 274.7 631.8 277.7 630.3 280.7 627 283.6 622.5 285.8 617 287.3 611 288.2Z" fill="#c3ec35" fill-rule="evenodd"/>
<path d="M610 287.2 603.5 287.6 591.5 287.3 585.5 286.3 581.5 284.8 577.1 282.2 574.5 279.4 573.4 276.2 574 272.4 575 270.7 577.5 268.2 583 265.1 589 263.1 598 261.3 610 262.8 616 263.9 622.5 266.3 626.5 269 629 272.2 629.7 274.7 629.5 277.2 628 280.2 624.5 283.1 620.5 285 615 286.5 610 287.2Z" fill="#d3de37" fill-rule="evenodd"/>
<path d="M606.5 286.2 592.5 286.1 585.6 284.7 582 283.2 578.5 280.7 576.6 278.2 576 275.7 576.5 272.7 579 269.6 584 266.5 589.5 264.6 598.5 263 609.6 264.2 616 265.6 622 268.2 625.5 271.5 626.6 273.7 626.7 276.7 625.9 278.7 623.6 281.2 619.5 283.5 616 284.7 611.5 285.7 606.5 286.2Z" fill="#e0c438" fill-rule="evenodd"/>
<path d="M606.5 284.7 594 284.7 589.5 283.9 586 282.7 582.5 280.9 580.3 278.7 579.2 276.2 579.6 273.2 581.5 270.6 586.5 267.6 591.5 266 598.5 264.8 608 265.7 612 266.5 618 268.7 621.8 271.7 623 273.7 623.3 276.2 622.5 278.2 620.5 280.4 614.5 283.3 606.5 284.7Z" fill="#e3a434" fill-rule="evenodd"/>
<path d="M605.5 283.7 595 283.6 590.5 282.8 587 281.6 584.5 280.2 582.4 278.2 581.5 275.7 582 273.2 584.1 270.7 587.6 268.7 592 267.2 599 266.1 606.5 266.8 611 267.6 616.5 269.7 619 271.7 620.4 273.7 620.8 275.7 620.1 277.7 618.5 279.6 616 281.1 613.3 282.2 605.5 283.7Z" fill="#e4822f" fill-rule="evenodd"/>
<path d="M606 282.7 596.5 282.9 592 282.2 588.9 281.2 585.5 279.2 584.1 277.7 583.4 275.7 583.7 273.7 585.8 271.2 590 268.9 594 267.9 599 267.1 606 267.7 611 268.8 615.4 270.7 617.7 272.7 618.5 274.2 618.7 276.2 618 277.7 616.6 279.2 613 281.1 606 282.7Z" fill="#e66429" fill-rule="evenodd"/>
<path d="M605 281.7 596.5 281.7 590.5 280.3 587.7 278.7 586.5 277.5 585.8 275.7 586 274.2 587.4 272.2 590.7 270.2 594.5 269 599 268.4 604 268.7 608.5 269.5 612.9 271.2 614.9 272.7 615.9 274.2 616.1 275.7 615.9 276.7 614.8 278.2 611.5 280.2 605 281.7Z" fill="#e64b23" fill-rule="evenodd"/>
<path d="M603.5 280.2 597.5 280.2 592 278.7 589.7 276.7 589.3 275.7 589.6 274.2 590.9 272.7 593.5 271.3 599.5 270.1 607 271 609.9 272.2 611.7 273.7 612.2 274.7 612.2 276.2 610.5 278.2 607.5 279.4 603.5 280.2Z" fill="#e5371c" fill-rule="evenodd"/>
<path d="M602 278.8 598 278.7 595.5 278.1 593.3 276.7 592.7 275.7 592.9 274.7 593.6 273.7 595 272.8 599.5 271.8 605 272.4 608.1 274.2 608.5 275.7 607.5 277.1 604.5 278.4 602 278.8Z" fill="#e42f1a" fill-rule="evenodd"/>
<path d="M603.5 277.7 600.5 278 597.5 277.7 595.3 276.7 594.5 275.2 595.8 273.7 598 272.9 601 272.7 604 273.1 606.1 274.2 606.7 275.7 605.5 277 603.5 277.7Z" fill="#e42918" fill-rule="evenodd"/>
<path d="M601.5 277.2 597.5 276.7 596.5 276 596.2 275.2 597.1 274.2 599.5 273.5 602.5 273.7 604.6 274.7 604.8 275.7 604.5 276.2 601.5 277.2Z" fill="#e22515" fill-rule="evenodd"/>
</g>
<path d="M581 299.8 576.5 299.7 571 299 566 297.5 564.5 296.7 563.5 296.5 560 294.4 556.5 291.6 554.7 289.7 553.7 288.2 552.1 284.7 551.8 282.7 551.8 279.7 552 279.2 552.2 276.7 552.5 275.8 553.1 269.2 554.2 266.2 557 262.3 561.5 257.9 564 255.9 569.5 252.4 575 249.9 584.4 246.7 587 245.2 590 242.9 592.5 241.5 594.5 240.9 597 240.9 599.5 241.8 606 245.7 610 247.2 614.5 248.1 624.5 249 630.5 249.9 633 250.7 634.5 250.9 640.5 252.9 642 253.7 643 253.9 643.5 254.3 644 254.4 646 255.5 647.5 256.7 648 256.8 650.5 259.2 652.3 261.7 653.7 265.2 654.4 268.7 654.6 277.7 654.3 282.7 653.7 285.2 652 288.3 650.5 290.1 647 292.5 641 295 637 295.8 636.5 296.1 635 296.2 634.5 296.5 627 297.7 621 298.2 615.5 298.4 607.5 298 605.5 297.7 597.5 297.7 585.5 299.5 581 299.8" fill="none" stroke="#747474" stroke-width="0.9" stroke-linejoin="round"/>
<path d="M590 296.7 583 297.1 577.5 296.7 574.5 296.2 569.5 294.7 566 293.1 563.5 291.6 560.9 289.7 558 286.4 556.8 284.2 555.9 281.2 555.9 276.2 556.5 271.2 557.9 267.2 560 264.3 564.5 260.2 571.4 255.7 576.9 253.2 587 250 594 246.3 597 245.9 599.8 246.7 605.5 249.5 608.5 250.4 613.5 251.3 622.5 252.3 627 253.1 631.5 254.2 636 255.6 636.5 256 639.5 257.2 642 258.6 645.5 261.5 647.5 264.2 649.1 268.2 649.7 271.2 650 276.7 649.5 281.2 648.5 284.2 647.5 285.9 645.5 288.2 642.5 290.4 637.5 292.6 636.5 292.8 635.5 293.2 628.5 294.8 623 295.6 615 296.2 599 295.8 590 296.7" fill="none" stroke="#747474" stroke-width="0.9" stroke-linejoin="round"/>
<path d="M589 294.7 583 294.7 579.5 294.3 574.5 293.1 571.5 291.9 567.5 289.9 564.5 287.7 562.1 285.2 560.6 282.7 559.8 280.2 559.5 277.2 559.9 272.7 560.9 269.2 562.4 266.7 564.4 264.7 568.5 261.2 572.7 258.7 577.5 256.4 580 255.5 588.5 253.1 594.5 250.4 596 250.1 597.5 250 599.5 250.4 603.8 252.2 607.1 253.2 610.5 253.8 622.5 255.4 630.5 257.5 634 258.8 638.5 261.3 641.5 264 643.5 266.7 644.8 269.7 645.4 272.7 645.6 276.2 645.3 279.2 644.4 282.2 642.9 284.7 640.5 287.1 638 288.8 634 290.6 630.5 291.7 621.5 293.6 616.5 294.1 612 294.3 600 294 589 294.7" fill="none" stroke="#747474" stroke-width="0.9" stroke-linejoin="round"/>
<path d="M610.5 292.3 600 292.1 590 292.5 585 292.3 579 291.2 574.7 289.7 572.5 288.7 569 286.5 567.6 285.2 565.4 282.7 564.3 280.7 563.6 278.2 563.5 276.2 563.7 273.2 564.4 270.7 565.9 268.2 568.3 265.7 571.5 263.2 573.9 261.7 577.5 259.9 581.5 258.4 590 256.1 594.5 254.4 597 253.8 600 254.2 604.5 255.7 607 256.2 617.5 257.5 624 258.9 627.9 260.2 631.5 261.8 634 263.2 636.5 265.2 638.6 267.7 639.9 270.2 640.7 272.7 640.9 274.7 640.9 276.7 640.5 279.2 639.7 281.2 638 283.7 635.5 285.9 632.5 287.7 627.5 289.6 621 291.2 617 291.8 610.5 292.3" fill="none" stroke="#747474" stroke-width="0.9" stroke-linejoin="round"/>
<path d="M607 290.2 591.5 290.3 587.5 290 584.5 289.6 581 288.7 575.5 286.4 572.8 284.7 571 283.2 569.4 281.2 568.1 278.7 567.7 276.2 568 273.2 569.5 269.7 571.5 267.5 574.5 265.1 580 262.2 584 260.7 592 258.8 595.5 257.7 598 257.3 600.5 257.7 605.5 258.9 616.5 260.3 621.5 261.5 627.5 263.8 630.5 265.6 633.3 268.2 634.5 269.9 635.7 272.7 636 274.2 636 276.9 635.6 278.7 634.6 280.7 633.4 282.2 631.5 284 629 285.6 626.5 286.8 620.5 288.7 614 289.8 607 290.2" fill="none" stroke="#747474" stroke-width="0.9" stroke-linejoin="round"/>
<path d="M608 288.2 591.7 288.2 585 287.2 580.6 285.7 575.5 282.7 573 280 572 277.7 571.8 276.2 572 273.2 572.4 272.2 573.5 270.2 575 268.7 577.5 266.7 581 264.8 586.6 262.7 598 260.2 612.8 262.2 619.5 263.8 624.2 265.7 626.5 267.1 628.5 268.7 630.9 272.2 631.6 275.2 631.5 276.7 631 278.4 630 280.2 629 281.4 626 283.7 623 285.2 620 286.2 613 287.7 608 288.2" fill="none" stroke="#747474" stroke-width="0.9" stroke-linejoin="round"/>
<path d="M606.5 286.2 597.5 286.4 592.5 286.1 589.5 285.7 585.6 284.7 582 283.2 578.5 280.7 576.6 278.2 576 275.7 576.1 274.2 576.5 272.7 577.4 271.2 579 269.6 580.8 268.2 584 266.5 589.5 264.6 598.5 263 609.6 264.2 616 265.6 619.5 266.9 622 268.2 624.4 270.2 625.5 271.5 626.6 273.7 626.8 275.2 626.7 276.7 625.9 278.7 624.5 280.5 623.6 281.2 622 282.3 619.5 283.5 616 284.7 611.5 285.7 606.5 286.2" fill="none" stroke="#747474" stroke-width="0.9" stroke-linejoin="round"/>
<path d="M606 284.2 601.5 284.5 596 284.4 590.5 283.6 587 282.5 584 281 581.9 279.2 581.1 278.2 580.2 275.7 580.7 273.2 581.7 271.7 583 270.4 585 269.1 587.5 267.9 592.5 266.4 599 265.4 608 266.3 613 267.4 617 268.9 618.3 269.7 620.6 271.7 621.6 273.2 622.2 275.7 621.9 277.2 621.3 278.2 620 279.7 618 281.1 615 282.5 609 284 606 284.2" fill="none" stroke="#747474" stroke-width="0.9" stroke-linejoin="round"/>
<path d="M605 282.2 600.5 282.4 595.8 282.2 592.9 281.7 589.5 280.6 587 279.2 585.5 277.7 584.9 276.7 584.7 275.7 585 273.7 586.7 271.7 590.2 269.7 593.5 268.7 599.5 267.9 604.8 268.2 610 269.2 613.6 270.7 615.1 271.7 616.5 273.1 617.2 274.7 617.2 276.2 616.5 277.7 615.6 278.7 613.1 280.2 610.5 281.2 605 282.2" fill="none" stroke="#747474" stroke-width="0.9" stroke-linejoin="round"/>
<path d="M602 278.8 598 278.7 595.5 278.1 593.3 276.7 592.7 275.7 592.9 274.7 593.6 273.7 595 272.8 597.5 272 599.5 271.8 602.5 271.9 605 272.4 606.5 273 608.1 274.2 608.4 274.7 608.5 275.7 608.4 276.2 607.5 277.1 606 278 604.5 278.4 602 278.8" fill="none" stroke="#747474" stroke-width="0.9" stroke-linejoin="round"/>
</g>
<rect x="524.4" y="238.6" width="155.7" height="88.5" fill="none" stroke="#dcdcf4" stroke-width="0.8"/>
<rect x="523.5" y="237.7" width="157.5" height="90.3" fill="none" stroke="#333333" stroke-width="1"/>
<line x1="521.5" y1="239.1" x2="523.5" y2="239.1" stroke="#333333" stroke-width="0.8"/>
<text x="520.5" y="241.4" font-size="6.5" text-anchor="end" fill="#262626">3.0</text>
<line x1="521.5" y1="261.02" x2="523.5" y2="261.02" stroke="#333333" stroke-width="0.8"/>
<text x="520.5" y="263.32" font-size="6.5" text-anchor="end" fill="#262626">2.5</text>
<line x1="521.5" y1="282.95" x2="523.5" y2="282.95" stroke="#333333" stroke-width="0.8"/>
<text x="520.5" y="285.25" font-size="6.5" text-anchor="end" fill="#262626">2.0</text>
<line x1="521.5" y1="304.88" x2="523.5" y2="304.88" stroke="#333333" stroke-width="0.8"/>
<text x="520.5" y="307.18" font-size="6.5" text-anchor="end" fill="#262626">1.5</text>
<line x1="521.5" y1="326.8" x2="523.5" y2="326.8" stroke="#333333" stroke-width="0.8"/>
<text x="520.5" y="329.1" font-size="6.5" text-anchor="end" fill="#262626">1.0</text>
<line x1="523.5" y1="328" x2="523.5" y2="330" stroke="#333333" stroke-width="0.8"/>
<text x="523.5" y="337.3" font-size="6.5" text-anchor="middle" fill="#262626">0</text>
<line x1="534.75" y1="328" x2="534.75" y2="329.2" stroke="#333333" stroke-width="0.8"/>
<line x1="546" y1="328" x2="546" y2="330" stroke="#333333" stroke-width="0.8"/>
<text x="546" y="337.3" font-size="6.5" text-anchor="middle" fill="#262626">2</text>
<line x1="557.25" y1="328" x2="557.25" y2="329.2" stroke="#333333" stroke-width="0.8"/>
<line x1="568.5" y1="328" x2="568.5" y2="330" stroke="#333333" stroke-width="0.8"/>
<text x="568.5" y="337.3" font-size="6.5" text-anchor="middle" fill="#262626">4</text>
<line x1="579.75" y1="328" x2="579.75" y2="329.2" stroke="#333333" stroke-width="0.8"/>
<line x1="591" y1="328" x2="591" y2="330" stroke="#333333" stroke-width="0.8"/>
<text x="591" y="337.3" font-size="6.5" text-anchor="middle" fill="#262626">6</text>
<line x1="602.25" y1="328" x2="602.25" y2="329.2" stroke="#333333" stroke-width="0.8"/>
<line x1="613.5" y1="328" x2="613.5" y2="330" stroke="#333333" stroke-width="0.8"/>
<text x="613.5" y="337.3" font-size="6.5" text-anchor="middle" fill="#262626">8</text>
<line x1="624.75" y1="328" x2="624.75" y2="329.2" stroke="#333333" stroke-width="0.8"/>
<line x1="636" y1="328" x2="636" y2="330" stroke="#333333" stroke-width="0.8"/>
<text x="636" y="337.3" font-size="6.5" text-anchor="middle" fill="#262626">10</text>
<line x1="647.25" y1="328" x2="647.25" y2="329.2" stroke="#333333" stroke-width="0.8"/>
<line x1="658.5" y1="328" x2="658.5" y2="330" stroke="#333333" stroke-width="0.8"/>
<text x="658.5" y="337.3" font-size="6.5" text-anchor="middle" fill="#262626">12</text>
<line x1="669.75" y1="328" x2="669.75" y2="329.2" stroke="#333333" stroke-width="0.8"/>
<line x1="681" y1="328" x2="681" y2="330" stroke="#333333" stroke-width="0.8"/>
<text x="681" y="337.3" font-size="6.5" text-anchor="middle" fill="#262626">14</text>
<text x="602.25" y="346.5" font-size="9.2" text-anchor="middle" fill="#262626">&#954; (&#197;<tspan font-size="6" dy="-3.2">-1</tspan><tspan dy="3.2">)</tspan></text>
<text x="506.3" y="278.5" font-size="9" text-anchor="middle" fill="#262626" transform="rotate(-90 506.3 278.5)">R+&#916;R (&#197;)</text>
<text x="675" y="322" font-size="13.9" text-anchor="end" fill="#ffffff">Co NPs</text>
<text x="1.9" y="13.8" font-size="17.5" fill="#111">a</text>
<text x="307.4" y="14" font-size="17.5" fill="#111">g</text>
<text x="497.3" y="13.2" font-size="17.5" fill="#111">h</text>
<line x1="24.6" y1="96.3" x2="24.6" y2="94.3" stroke="#2e2e2e" stroke-width="0.8"/>
<text x="24.6" y="104.68" font-size="6.5" text-anchor="middle" fill="#262626">8320</text>
<line x1="48.8" y1="96.3" x2="48.8" y2="94.3" stroke="#2e2e2e" stroke-width="0.8"/>
<text x="48.8" y="104.68" font-size="6.5" text-anchor="middle" fill="#262626">8340</text>
<line x1="73" y1="96.3" x2="73" y2="94.3" stroke="#2e2e2e" stroke-width="0.8"/>
<text x="73" y="104.68" font-size="6.5" text-anchor="middle" fill="#262626">8360</text>
<line x1="97.2" y1="96.3" x2="97.2" y2="94.3" stroke="#2e2e2e" stroke-width="0.8"/>
<text x="97.2" y="104.68" font-size="6.5" text-anchor="middle" fill="#262626">8380</text>
<line x1="121.4" y1="96.3" x2="121.4" y2="94.3" stroke="#2e2e2e" stroke-width="0.8"/>
<text x="121.4" y="104.68" font-size="6.5" text-anchor="middle" fill="#262626">8400</text>
<line x1="145.6" y1="96.3" x2="145.6" y2="94.3" stroke="#2e2e2e" stroke-width="0.8"/>
<text x="145.6" y="104.68" font-size="6.5" text-anchor="middle" fill="#262626">8420</text>
<line x1="36.7" y1="96.3" x2="36.7" y2="95.1" stroke="#2e2e2e" stroke-width="0.7"/>
<line x1="60.9" y1="96.3" x2="60.9" y2="95.1" stroke="#2e2e2e" stroke-width="0.7"/>
<line x1="85.1" y1="96.3" x2="85.1" y2="95.1" stroke="#2e2e2e" stroke-width="0.7"/>
<line x1="109.3" y1="96.3" x2="109.3" y2="95.1" stroke="#2e2e2e" stroke-width="0.7"/>
<line x1="133.5" y1="96.3" x2="133.5" y2="95.1" stroke="#2e2e2e" stroke-width="0.7"/>
<text x="85.3" y="114.4" font-size="8.6" text-anchor="middle" fill="#262626">Energy (eV)</text>
<text x="9.3" y="50.6" font-size="8.9" text-anchor="middle" fill="#262626" transform="rotate(-90 9.3 50.6)">Normalized &#967;(E)</text>
<path d="M24 91.9C25.5 91.8 30.68 91.85 33 91.3C35.32 90.75 36.5 90.13 37.9 88.6C39.3 87.07 40.1 84.25 41.4 82.1C42.7 79.95 44.27 77.48 45.7 75.7C47.13 73.92 48.8 73.18 50 71.4C51.2 69.62 51.83 67.5 52.9 65C53.97 62.5 55.22 58.67 56.4 56.4C57.58 54.13 58.68 52.47 60 51.4C61.32 50.33 62.97 50.33 64.3 50C65.63 49.67 66.62 49.63 68 49.4C69.38 49.17 70.93 48.42 72.6 48.6C74.27 48.78 76.28 49.93 78 50.5C79.72 51.07 80.9 52.17 82.9 52C84.9 51.83 87.27 50.48 90 49.5C92.73 48.52 96.72 46.27 99.3 46.1C101.88 45.93 103.37 47.68 105.5 48.5C107.63 49.32 109.13 50.33 112.1 51C115.07 51.67 119.3 52.65 123.3 52.5C127.3 52.35 132.23 50.92 136.1 50.1C139.97 49.28 144.77 48.02 146.5 47.6" fill="none" stroke="#3fbf3f" stroke-width="1" stroke-dasharray="2.6 1.6" stroke-linejoin="round"/>
<path d="M24 91.9C25.72 91.8 31.87 91.53 34.3 91.3C36.73 91.07 37.17 91.17 38.6 90.5C40.03 89.83 41.75 89.05 42.9 87.3C44.05 85.55 44.8 81.93 45.5 80C46.2 78.07 46.58 76.88 47.1 75.7C47.62 74.52 48.03 73.52 48.6 72.9C49.17 72.28 49.78 72.9 50.5 72C51.22 71.1 52.03 69.5 52.9 67.5C53.77 65.5 54.75 62.5 55.7 60C56.65 57.5 57.55 55 58.6 52.5C59.65 50 60.77 46.98 62 45C63.23 43.02 64.43 41.57 66 40.6C67.57 39.63 69.82 39.05 71.4 39.2C72.98 39.35 73.57 40.07 75.5 41.5C77.43 42.93 80.25 46 83 47.8C85.75 49.6 89.67 51.4 92 52.3C94.33 53.2 95.07 53.13 97 53.2C98.93 53.27 100.37 53.35 103.6 52.7C106.83 52.05 112.12 50.08 116.4 49.3C120.68 48.52 124.28 48.43 129.3 48C134.32 47.57 143.63 46.92 146.5 46.7" fill="none" stroke="#d9a21e" stroke-width="1" stroke-dasharray="2.6 1.6" stroke-linejoin="round"/>
<path d="M24 91.9C26.67 91.83 36.85 91.67 40 91.5C43.15 91.33 42.18 90.95 42.9 90.9C43.62 90.85 43.78 91.43 44.3 91.2C44.82 90.97 45.4 90.42 46 89.5C46.6 88.58 47.12 87.63 47.9 85.7C48.68 83.77 49.87 80.63 50.7 77.9C51.53 75.17 52.18 72.4 52.9 69.3C53.62 66.2 54.42 62.87 55 59.3C55.58 55.73 55.82 52.78 56.4 47.9C56.98 43.02 57.75 35.32 58.5 30C59.25 24.68 60.18 17.67 60.9 16C61.62 14.33 62 17.28 62.8 20C63.6 22.72 64.35 27.4 65.7 32.3C67.05 37.2 69.33 45.27 70.9 49.4C72.47 53.53 73.53 56.95 75.1 57.1C76.67 57.25 78.58 51 80.3 50.3C82.02 49.6 83.27 51.77 85.4 52.9C87.53 54.03 90.82 56.77 93.1 57.1C95.38 57.43 97.07 55.92 99.1 54.9C101.13 53.88 103.13 53 105.3 51C107.47 49 109.38 44.9 112.1 42.9C114.82 40.9 118.45 38.58 121.6 39C124.75 39.42 128.3 43.62 131 45.4C133.7 47.18 135.22 48.48 137.8 49.7C140.38 50.92 145.05 52.2 146.5 52.7" fill="none" stroke="#1e1e1e" stroke-width="1" stroke-dasharray="2.6 1.6" stroke-linejoin="round"/>
<path d="M24 91.9C25.72 91.82 31.87 91.6 34.3 91.4C36.73 91.2 37.17 91.28 38.6 90.7C40.03 90.12 41.6 89.33 42.9 87.9C44.2 86.47 45.22 84.25 46.4 82.1C47.58 79.95 48.92 77.37 50 75C51.08 72.63 51.95 70.28 52.9 67.9C53.85 65.52 54.75 63.08 55.7 60.7C56.65 58.32 57.53 55.87 58.6 53.6C59.67 51.33 60.95 48.83 62.1 47.1C63.25 45.37 64.23 44.07 65.5 43.2C66.77 42.33 67.58 41.67 69.7 41.9C71.82 42.13 75.07 43.38 78.2 44.6C81.33 45.82 85.7 48.02 88.5 49.2C91.3 50.38 92.77 51.15 95 51.7C97.23 52.25 99.73 52.7 101.9 52.5C104.07 52.3 105.87 51.4 108 50.5C110.13 49.6 112.15 47.87 114.7 47.1C117.25 46.33 119.92 46.07 123.3 45.9C126.68 45.73 131.13 46.03 135 46.1C138.87 46.17 144.58 46.27 146.5 46.3" fill="none" stroke="#ff2b2b" stroke-width="1.1" stroke-linejoin="round"/>
<rect x="100.5" y="58" width="40" height="30.6" fill="#fff" stroke="#2e2e2e" stroke-width="0.9"/>
<path d="M100.8 80.8C104 79.55 113.43 75.7 120 73.3C126.57 70.9 136.83 67.55 140.2 66.4" fill="none" stroke="#3fbf3f" stroke-width="1.2" stroke-dasharray="2.6 1.6" stroke-linejoin="round"/>
<path d="M100.8 83.8C104 83.5 113.43 83.5 120 82C126.57 80.5 136.83 76 140.2 74.8" fill="none" stroke="#d9a21e" stroke-width="1.2" stroke-dasharray="2.6 1.6" stroke-linejoin="round"/>
<path d="M100.8 83.6C104 83.4 113.43 82.87 120 82.4C126.57 81.93 136.83 81.07 140.2 80.8" fill="none" stroke="#1e1e1e" stroke-width="1.2" stroke-dasharray="2.6 1.6" stroke-linejoin="round"/>
<path d="M100.8 83.2C104 82.77 113.43 82.1 120 80.6C126.57 79.1 136.83 75.27 140.2 74.2" fill="none" stroke="#ff2b2b" stroke-width="1.2" stroke-linejoin="round"/>
<text x="100.5" y="94.3" font-size="3.6" text-anchor="middle" fill="#262626">8331</text>
<text x="140" y="94.3" font-size="3.6" text-anchor="middle" fill="#262626">8337</text>
<line x1="105.1" y1="11" x2="119.6" y2="11" stroke="#3fbf3f" stroke-width="1.1" stroke-dasharray="2.6 1.6"/>
<text x="122.8" y="13.38" font-size="6.8" fill="#262626">Ni foil</text>
<line x1="105.1" y1="19.6" x2="119.6" y2="19.6" stroke="#ff2b2b" stroke-width="1.1"/>
<text x="122.8" y="21.98" font-size="6.8" fill="#262626">Ni SAs</text>
<line x1="105.1" y1="27.9" x2="119.6" y2="27.9" stroke="#1e1e1e" stroke-width="1.1" stroke-dasharray="2.6 1.6"/>
<text x="122.8" y="30.28" font-size="6.8" fill="#262626">NiO</text>
<line x1="105.1" y1="36.6" x2="119.6" y2="36.6" stroke="#d9a21e" stroke-width="1.1" stroke-dasharray="2.6 1.6"/>
<text x="122.8" y="38.98" font-size="6.8" fill="#262626">NiPc</text>
<rect x="23.5" y="6.5" width="123.5" height="89.8" fill="none" stroke="#2e2e2e" stroke-width="1"/>
<text x="2" y="131.4" font-size="17.5" fill="#111">b</text>
<line x1="23.6" y1="212.5" x2="23.6" y2="214.5" stroke="#2e2e2e" stroke-width="0.8"/>
<text x="23.6" y="220.38" font-size="6.5" text-anchor="middle" fill="#262626">0</text>
<line x1="44.05" y1="212.5" x2="44.05" y2="214.5" stroke="#2e2e2e" stroke-width="0.8"/>
<text x="44.05" y="220.38" font-size="6.5" text-anchor="middle" fill="#262626">1</text>
<line x1="64.5" y1="212.5" x2="64.5" y2="214.5" stroke="#2e2e2e" stroke-width="0.8"/>
<text x="64.5" y="220.38" font-size="6.5" text-anchor="middle" fill="#262626">2</text>
<line x1="84.95" y1="212.5" x2="84.95" y2="214.5" stroke="#2e2e2e" stroke-width="0.8"/>
<text x="84.95" y="220.38" font-size="6.5" text-anchor="middle" fill="#262626">3</text>
<line x1="105.4" y1="212.5" x2="105.4" y2="214.5" stroke="#2e2e2e" stroke-width="0.8"/>
<text x="105.4" y="220.38" font-size="6.5" text-anchor="middle" fill="#262626">4</text>
<line x1="125.85" y1="212.5" x2="125.85" y2="214.5" stroke="#2e2e2e" stroke-width="0.8"/>
<text x="125.85" y="220.38" font-size="6.5" text-anchor="middle" fill="#262626">5</text>
<line x1="146.3" y1="212.5" x2="146.3" y2="214.5" stroke="#2e2e2e" stroke-width="0.8"/>
<text x="146.3" y="220.38" font-size="6.5" text-anchor="middle" fill="#262626">6</text>
<line x1="23.5" y1="211.2" x2="25.5" y2="211.2" stroke="#2e2e2e" stroke-width="0.8"/>
<text x="22" y="213.47" font-size="6.5" text-anchor="end" fill="#262626">0.0</text>
<line x1="23.5" y1="192.6" x2="25.5" y2="192.6" stroke="#2e2e2e" stroke-width="0.8"/>
<text x="22" y="194.88" font-size="6.5" text-anchor="end" fill="#262626">0.5</text>
<line x1="23.5" y1="174" x2="25.5" y2="174" stroke="#2e2e2e" stroke-width="0.8"/>
<text x="22" y="176.28" font-size="6.5" text-anchor="end" fill="#262626">1.0</text>
<line x1="23.5" y1="155.4" x2="25.5" y2="155.4" stroke="#2e2e2e" stroke-width="0.8"/>
<text x="22" y="157.67" font-size="6.5" text-anchor="end" fill="#262626">1.5</text>
<line x1="23.5" y1="136.8" x2="25.5" y2="136.8" stroke="#2e2e2e" stroke-width="0.8"/>
<text x="22" y="139.07" font-size="6.5" text-anchor="end" fill="#262626">2.0</text>
<text x="85.2" y="229.5" font-size="8.6" text-anchor="middle" fill="#262626">R (&#197;)</text>
<text x="7" y="164.4" font-size="8.7" text-anchor="middle" fill="#262626" transform="rotate(-90 7 164.4)">|FT(k<tspan font-size="5.39" dy="-3">3</tspan><tspan dy="3">&#967;(k))| (&#197;</tspan><tspan font-size="5.39" dy="-3">-3</tspan><tspan dy="3">)</tspan></text>
<text x="68.5" y="129.5" font-size="6.6" text-anchor="middle" fill="#262626">Ni-Ni</text>
<text x="42.6" y="173.6" font-size="6.6" text-anchor="middle" fill="#262626">Ni-N</text>
<path d="M24 211.3C25 211.22 27.85 211.12 30 210.8C32.15 210.48 35.07 209.45 36.9 209.4C38.73 209.35 39.77 210.2 41 210.5C42.23 210.8 43.13 211.37 44.3 211.2C45.47 211.03 46.77 210.1 48 209.5C49.23 208.9 50.53 208.18 51.7 207.6C52.87 207.02 54.07 206.47 55 206C55.93 205.53 56.45 205.78 57.3 204.8C58.15 203.82 59.35 203.4 60.1 200.1C60.85 196.8 61.18 190.85 61.8 185C62.42 179.15 63.13 172.17 63.8 165C64.47 157.83 65.08 147.4 65.8 142C66.52 136.6 67.32 132.93 68.1 132.6C68.88 132.27 69.77 135.43 70.5 140C71.23 144.57 71.8 153.33 72.5 160C73.2 166.67 74.02 174.05 74.7 180C75.38 185.95 75.95 190.73 76.6 195.7C77.25 200.67 77.87 208.17 78.6 209.8C79.33 211.43 80.15 206.67 81 205.5C81.85 204.33 82.6 203.58 83.7 202.8C84.8 202.02 86.23 200.9 87.6 200.8C88.97 200.7 90.62 202.97 91.9 202.2C93.18 201.43 93.73 198.5 95.3 196.2C96.87 193.9 99.3 190.07 101.3 188.4C103.3 186.73 105.3 185.9 107.3 186.2C109.3 186.5 111.02 189.25 113.3 190.2C115.58 191.15 118.72 190.62 121 191.9C123.28 193.18 125.28 195.77 127 197.9C128.72 200.03 129.72 202.7 131.3 204.7C132.88 206.7 133.97 208.9 136.5 209.9C139.03 210.9 144.83 210.57 146.5 210.7" fill="none" stroke="#3fbf3f" stroke-width="1" stroke-dasharray="2.6 1.6" stroke-linejoin="round"/>
<path d="M24 210.9C25 210.75 27.23 210.87 30 210C32.77 209.13 37.28 208.27 40.6 205.7C43.92 203.13 47.5 198.05 49.9 194.6C52.3 191.15 53.77 187.33 55 185C56.23 182.67 56.77 181.43 57.3 180.6C57.83 179.77 57.87 178.77 58.2 180C58.53 181.23 58.98 184.65 59.3 188C59.62 191.35 59.67 196.83 60.1 200.1C60.53 203.37 61.13 206.97 61.9 207.6C62.67 208.23 63.63 207.6 64.7 203.9C65.77 200.2 67.17 191.88 68.3 185.4C69.43 178.92 70.55 172.07 71.5 165C72.45 157.93 73.18 147.77 74 143C74.82 138.23 75.65 136.07 76.4 136.4C77.15 136.73 77.82 139.4 78.5 145C79.18 150.6 79.73 160.48 80.5 170C81.27 179.52 82.13 195.67 83.1 202.1C84.07 208.53 84.92 207.73 86.3 208.6C87.68 209.47 89.9 209.23 91.4 207.3C92.9 205.37 94.08 200 95.3 197C96.52 194 97.27 190.02 98.7 189.3C100.13 188.58 101.9 192.07 103.9 192.7C105.9 193.33 108.85 193.95 110.7 193.1C112.55 192.25 113.62 189.23 115 187.6C116.38 185.97 117.72 183.02 119 183.3C120.28 183.58 121.37 186.02 122.7 189.3C124.03 192.58 126 200.13 127 203C128 205.87 127.83 207.63 128.7 206.5C129.57 205.37 131.05 198.92 132.2 196.2C133.35 193.48 134.47 189.63 135.6 190.2C136.73 190.77 138 196.32 139 199.6C140 202.88 140.35 208.75 141.6 209.9C142.85 211.05 145.68 207.07 146.5 206.5" fill="none" stroke="#1e1e1e" stroke-width="1" stroke-dasharray="2.6 1.6" stroke-linejoin="round"/>
<path d="M24 209.8C25.5 209.5 30.23 208.98 33 208C35.77 207.02 38.6 205.9 40.6 203.9C42.6 201.9 43.77 198.8 45 196C46.23 193.2 47.03 191.05 48 187.1C48.97 183.15 49.87 176.17 50.8 172.3C51.73 168.43 52.67 163.9 53.6 163.9C54.53 163.9 55.48 167.5 56.4 172.3C57.32 177.1 58.18 186.23 59.1 192.7C60.02 199.17 60.8 208.88 61.9 211.1C63 213.32 64.2 207.92 65.7 206C67.2 204.08 69.4 201.85 70.9 199.6C72.4 197.35 73.42 192.72 74.7 192.5C75.98 192.28 77.2 195.83 78.6 198.3C80 200.77 81.6 205.48 83.1 207.3C84.6 209.12 86.28 209.25 87.6 209.2C88.92 209.15 89.87 208.17 91 207C92.13 205.83 93.12 201.87 94.4 202.2C95.68 202.53 96.55 208.15 98.7 209C100.85 209.85 104.92 207.77 107.3 207.3C109.68 206.83 111 206.45 113 206.2C115 205.95 117.1 205.25 119.3 205.8C121.5 206.35 123.42 208.72 126.2 209.5C128.98 210.28 132.62 210.33 136 210.5C139.38 210.67 144.75 210.5 146.5 210.5" fill="none" stroke="#d9a21e" stroke-width="1" stroke-dasharray="2.6 1.6" stroke-linejoin="round"/>
<path d="M24 210.4C25 210.25 27.85 209.97 30 209.5C32.15 209.03 34.52 209.47 36.9 207.6C39.28 205.73 42.3 201.72 44.3 198.3C46.3 194.88 47.73 189.58 48.9 187.1C50.07 184.62 50.37 183.4 51.3 183.4C52.23 183.4 53.35 184.32 54.5 187.1C55.65 189.88 57.27 196.22 58.2 200.1C59.13 203.98 59.38 209.63 60.1 210.4C60.82 211.17 61.52 205.93 62.5 204.7C63.48 203.47 64.6 203.47 66 203C67.4 202.53 69.23 201.3 70.9 201.9C72.57 202.5 74.62 205.17 76 206.6C77.38 208.03 77.7 210.17 79.2 210.5C80.7 210.83 83.03 209.18 85 208.6C86.97 208.02 89 207.42 91 207C93 206.58 94.57 205.62 97 206.1C99.43 206.58 103.03 209.13 105.6 209.9C108.17 210.67 109.17 210.48 112.4 210.7C115.63 210.92 119.32 211.07 125 211.2C130.68 211.33 142.92 211.45 146.5 211.5" fill="none" stroke="#ff2b2b" stroke-width="1.1" stroke-linejoin="round"/>
<line x1="105.1" y1="128.1" x2="119.6" y2="128.1" stroke="#3fbf3f" stroke-width="1.1" stroke-dasharray="2.6 1.6"/>
<text x="122.8" y="130.48" font-size="6.8" fill="#262626">Ni foil</text>
<line x1="105.1" y1="136.7" x2="119.6" y2="136.7" stroke="#ff2b2b" stroke-width="1.1"/>
<text x="122.8" y="139.08" font-size="6.8" fill="#262626">Ni SAs</text>
<line x1="105.1" y1="145" x2="119.6" y2="145" stroke="#1e1e1e" stroke-width="1.1" stroke-dasharray="2.6 1.6"/>
<text x="122.8" y="147.38" font-size="6.8" fill="#262626">NiO</text>
<line x1="105.1" y1="153.7" x2="119.6" y2="153.7" stroke="#d9a21e" stroke-width="1.1" stroke-dasharray="2.6 1.6"/>
<text x="122.8" y="156.08" font-size="6.8" fill="#262626">NiPc</text>
<rect x="23.5" y="122.5" width="123.5" height="90" fill="none" stroke="#2e2e2e" stroke-width="1"/>
<text x="1.9" y="246.8" font-size="17.5" fill="#111">c</text>
<line x1="23.6" y1="328" x2="23.6" y2="330" stroke="#2e2e2e" stroke-width="0.8"/>
<text x="23.6" y="336.07" font-size="6.5" text-anchor="middle" fill="#262626">0</text>
<line x1="44.05" y1="328" x2="44.05" y2="330" stroke="#2e2e2e" stroke-width="0.8"/>
<text x="44.05" y="336.07" font-size="6.5" text-anchor="middle" fill="#262626">1</text>
<line x1="64.5" y1="328" x2="64.5" y2="330" stroke="#2e2e2e" stroke-width="0.8"/>
<text x="64.5" y="336.07" font-size="6.5" text-anchor="middle" fill="#262626">2</text>
<line x1="84.95" y1="328" x2="84.95" y2="330" stroke="#2e2e2e" stroke-width="0.8"/>
<text x="84.95" y="336.07" font-size="6.5" text-anchor="middle" fill="#262626">3</text>
<line x1="105.4" y1="328" x2="105.4" y2="330" stroke="#2e2e2e" stroke-width="0.8"/>
<text x="105.4" y="336.07" font-size="6.5" text-anchor="middle" fill="#262626">4</text>
<line x1="125.85" y1="328" x2="125.85" y2="330" stroke="#2e2e2e" stroke-width="0.8"/>
<text x="125.85" y="336.07" font-size="6.5" text-anchor="middle" fill="#262626">5</text>
<line x1="146.3" y1="328" x2="146.3" y2="330" stroke="#2e2e2e" stroke-width="0.8"/>
<text x="146.3" y="336.07" font-size="6.5" text-anchor="middle" fill="#262626">6</text>
<line x1="23.5" y1="319.1" x2="25.5" y2="319.1" stroke="#2e2e2e" stroke-width="0.8"/>
<text x="22" y="321.38" font-size="6.5" text-anchor="end" fill="#262626">0.0</text>
<line x1="23.5" y1="301.1" x2="25.5" y2="301.1" stroke="#2e2e2e" stroke-width="0.8"/>
<text x="22" y="303.38" font-size="6.5" text-anchor="end" fill="#262626">1.0</text>
<line x1="23.5" y1="283.1" x2="25.5" y2="283.1" stroke="#2e2e2e" stroke-width="0.8"/>
<text x="22" y="285.38" font-size="6.5" text-anchor="end" fill="#262626">2.0</text>
<line x1="23.5" y1="265.1" x2="25.5" y2="265.1" stroke="#2e2e2e" stroke-width="0.8"/>
<text x="22" y="267.38" font-size="6.5" text-anchor="end" fill="#262626">3.0</text>
<line x1="23.5" y1="247.1" x2="25.5" y2="247.1" stroke="#2e2e2e" stroke-width="0.8"/>
<text x="22" y="249.38" font-size="6.5" text-anchor="end" fill="#262626">4.0</text>
<text x="85.2" y="346.6" font-size="8.6" text-anchor="middle" fill="#262626">R (&#197;)</text>
<text x="7" y="284.5" font-size="8.7" text-anchor="middle" fill="#262626" transform="rotate(-90 7 284.5)">|FT(k<tspan font-size="5.39" dy="-3">3</tspan><tspan dy="3">&#967;(k))| (&#197;</tspan><tspan font-size="5.39" dy="-3">-3</tspan><tspan dy="3">)</tspan></text>
<path d="M24 318.5C24.5 318.42 25.83 318.5 27 318C28.17 317.5 29.67 316.08 31 315.5C32.33 314.92 33.67 315.67 35 314.5C36.33 313.33 37.83 310.58 39 308.5C40.17 306.42 41.08 304.08 42 302C42.92 299.92 43.75 298.67 44.5 296C45.25 293.33 45.72 291.5 46.5 286C47.28 280.5 48.35 267.97 49.2 263C50.05 258.03 50.78 255.97 51.6 256.2C52.42 256.43 53.28 259.77 54.1 264.4C54.92 269.03 55.77 278.23 56.5 284C57.23 289.77 57.98 295.58 58.5 299C59.02 302.42 58.87 303.6 59.6 304.5C60.33 305.4 61.88 303.58 62.9 304.4C63.92 305.22 64.8 309.63 65.7 309.4C66.6 309.17 67.28 304.55 68.3 303C69.32 301.45 70.55 299.6 71.8 300.1C73.05 300.6 74.48 302.93 75.8 306C77.12 309.07 78.17 317.28 79.7 318.5C81.23 319.72 83.47 314.12 85 313.3C86.53 312.48 87.37 314.05 88.9 313.6C90.43 313.15 92.33 311.47 94.2 310.6C96.07 309.73 98.47 308.4 100.1 308.4C101.73 308.4 102.58 309.02 104 310.6C105.42 312.18 106.3 316.95 108.6 317.9C110.9 318.85 114.95 316.42 117.8 316.3C120.65 316.18 120.92 316.83 125.7 317.2C130.48 317.57 143.03 318.28 146.5 318.5" fill="none" stroke="#1e1e1e" stroke-width="1" stroke-dasharray="2.6 1.6" stroke-linejoin="round"/>
<path d="M24 316.6C24.27 316.8 24.52 318.2 25.6 317.8C26.68 317.4 29.08 315 30.5 314.2C31.92 313.4 32.68 314.42 34.1 313C35.52 311.58 37.37 308.53 39 305.7C40.63 302.87 42.68 299.63 43.9 296C45.12 292.37 45.42 289.57 46.3 283.9C47.18 278.23 48.32 266.67 49.2 262C50.08 257.33 50.78 255.5 51.6 255.9C52.42 256.3 53.17 258.53 54.1 264.4C55.03 270.27 56.28 282.6 57.2 291.1C58.12 299.6 58.65 312.25 59.6 315.4C60.55 318.55 61.73 309.7 62.9 310C64.07 310.3 65.22 316.77 66.6 317.2C67.98 317.63 69.67 312.6 71.2 312.6C72.73 312.6 74.48 316.72 75.8 317.2C77.12 317.68 78.02 315.28 79.1 315.5C80.18 315.72 81.1 318.33 82.3 318.5C83.5 318.67 84.77 316.5 86.3 316.5C87.83 316.5 89.97 318.32 91.5 318.5C93.03 318.68 94.18 317.6 95.5 317.6C96.82 317.6 95.32 318.27 99.4 318.5C103.48 318.73 112.15 318.85 120 319C127.85 319.15 142.08 319.33 146.5 319.4" fill="none" stroke="#ff2b2b" stroke-width="1.1" stroke-linejoin="round"/>
<line x1="105.5" y1="244.2" x2="121" y2="244.2" stroke="#1e1e1e" stroke-width="1.1" stroke-dasharray="2.6 1.6"/>
<text x="123.6" y="246.58" font-size="6.8" fill="#262626">Ni SAs</text>
<line x1="105.5" y1="252.8" x2="121" y2="252.8" stroke="#ff2b2b" stroke-width="1.1"/>
<text x="123.6" y="255.18" font-size="6.8" fill="#262626">Fit</text>
<rect x="23.5" y="238" width="123.3" height="90" fill="none" stroke="#2e2e2e" stroke-width="1"/>
<text x="156" y="14" font-size="17.5" fill="#111">d</text>
<line x1="183.2" y1="96.5" x2="183.2" y2="94.5" stroke="#2e2e2e" stroke-width="0.8"/>
<text x="183.2" y="104.48" font-size="6.5" text-anchor="middle" fill="#262626">7700</text>
<line x1="218.8" y1="96.5" x2="218.8" y2="94.5" stroke="#2e2e2e" stroke-width="0.8"/>
<text x="218.8" y="104.48" font-size="6.5" text-anchor="middle" fill="#262626">7750</text>
<line x1="254.4" y1="96.5" x2="254.4" y2="94.5" stroke="#2e2e2e" stroke-width="0.8"/>
<text x="254.4" y="104.48" font-size="6.5" text-anchor="middle" fill="#262626">7800</text>
<line x1="290" y1="96.5" x2="290" y2="94.5" stroke="#2e2e2e" stroke-width="0.8"/>
<text x="290" y="104.48" font-size="6.5" text-anchor="middle" fill="#262626">7850</text>
<line x1="201" y1="96.5" x2="201" y2="95.3" stroke="#2e2e2e" stroke-width="0.7"/>
<line x1="236.6" y1="96.5" x2="236.6" y2="95.3" stroke="#2e2e2e" stroke-width="0.7"/>
<line x1="272.2" y1="96.5" x2="272.2" y2="95.3" stroke="#2e2e2e" stroke-width="0.7"/>
<text x="236.7" y="114.6" font-size="8.6" text-anchor="middle" fill="#262626">Energy (eV)</text>
<text x="161.1" y="49.6" font-size="8.9" text-anchor="middle" fill="#262626" transform="rotate(-90 161.1 49.6)">Normalized &#967;(E)</text>
<path d="M176 91C177.55 90.87 183.42 90.85 185.3 90.2C187.18 89.55 186.53 89.53 187.3 87.1C188.07 84.67 188.87 78.8 189.9 75.6C190.93 72.4 192.47 70.9 193.5 67.9C194.53 64.9 195.27 61.42 196.1 57.6C196.93 53.78 197.37 47.33 198.5 45C199.63 42.67 201.7 44.28 202.9 43.6C204.1 42.92 204.63 41.07 205.7 40.9C206.77 40.73 207.98 42.18 209.3 42.6C210.62 43.02 212.3 43.43 213.6 43.4C214.9 43.37 215.92 43.2 217.1 42.4C218.28 41.6 219.62 39.6 220.7 38.6C221.78 37.6 222.4 36.33 223.6 36.4C224.8 36.47 226.6 37.93 227.9 39C229.2 40.07 229.27 41.93 231.4 42.8C233.53 43.67 237.73 44.62 240.7 44.2C243.67 43.78 245.97 41.83 249.2 40.3C252.43 38.77 256.93 35.18 260.1 35C263.27 34.82 265.12 37.82 268.2 39.2C271.28 40.58 275.28 43 278.6 43.3C281.92 43.6 284.95 41.75 288.1 41C291.25 40.25 295.93 39.17 297.5 38.8" fill="none" stroke="#4a7dff" stroke-width="1.2" stroke-dasharray="2.6 1.6" stroke-linejoin="round"/>
<path d="M176 91C177.5 90.97 182.82 91.02 185 90.8C187.18 90.58 187.98 90.73 189.1 89.7C190.22 88.67 190.83 87.17 191.7 84.6C192.57 82.03 193.43 79.45 194.3 74.3C195.17 69.15 196.07 61.32 196.9 53.7C197.73 46.08 198.55 34.7 199.3 28.6C200.05 22.5 200.68 18.05 201.4 17.1C202.12 16.15 202.93 19.8 203.6 22.9C204.27 26 204.82 32.73 205.4 35.7C205.98 38.67 206.1 40.03 207.1 40.7C208.1 41.37 210.08 39.22 211.4 39.7C212.72 40.18 213.57 42.48 215 43.6C216.43 44.72 218.45 46.05 220 46.4C221.55 46.75 222.63 46.77 224.3 45.7C225.97 44.63 228.1 41.72 230 40C231.9 38.28 234.03 36.23 235.7 35.4C237.37 34.57 238.53 34.68 240 35C241.47 35.32 242.17 36.47 244.5 37.3C246.83 38.13 250.83 39.68 254 40C257.17 40.32 260.67 39.57 263.5 39.2C266.33 38.83 267.85 37.55 271 37.8C274.15 38.05 279.38 40.62 282.4 40.7C285.42 40.78 286.58 38.55 289.1 38.3C291.62 38.05 296.1 39.05 297.5 39.2" fill="none" stroke="#1e1e1e" stroke-width="1" stroke-dasharray="2.6 1.6" stroke-linejoin="round"/>
<path d="M176 91C177.55 90.87 183.42 90.85 185.3 90.2C187.18 89.55 186.53 89.53 187.3 87.1C188.07 84.67 188.87 78.8 189.9 75.6C190.93 72.4 192.47 70.9 193.5 67.9C194.53 64.9 195.23 61.25 196.1 57.6C196.97 53.95 197.57 48.1 198.7 46C199.83 43.9 201.73 45.57 202.9 45C204.07 44.43 204.63 42.77 205.7 42.6C206.77 42.43 207.98 43.6 209.3 44C210.62 44.4 212.3 44.95 213.6 45C214.9 45.05 215.92 45.02 217.1 44.3C218.28 43.58 219.5 41.7 220.7 40.7C221.9 39.7 223.1 38.3 224.3 38.3C225.5 38.3 226.72 39.75 227.9 40.7C229.08 41.65 229.27 43.3 231.4 44C233.53 44.7 237.73 45.38 240.7 44.9C243.67 44.42 246.03 42.52 249.2 41.1C252.37 39.68 256.53 36.55 259.7 36.4C262.87 36.25 265.05 38.93 268.2 40.2C271.35 41.47 275.28 43.77 278.6 44C281.92 44.23 284.95 42.4 288.1 41.6C291.25 40.8 295.93 39.6 297.5 39.2" fill="none" stroke="#ff2b2b" stroke-width="1.1" stroke-linejoin="round"/>
<rect x="250.7" y="57.1" width="42.4" height="32.2" fill="#fff" stroke="#2e2e2e" stroke-width="0.9"/>
<path d="M251 71.2C254.5 70.42 265.03 67.87 272 66.5C278.97 65.13 289.33 63.58 292.8 63" fill="none" stroke="#4a7dff" stroke-width="1.2" stroke-dasharray="2.6 1.6" stroke-linejoin="round"/>
<path d="M251 70.5C254.5 69.68 265.03 66.98 272 65.6C278.97 64.22 289.33 62.77 292.8 62.2" fill="none" stroke="#ff2b2b" stroke-width="1.2" stroke-linejoin="round"/>
<path d="M251 82.8C257.97 82.8 285.83 82.8 292.8 82.8" fill="none" stroke="#1e1e1e" stroke-width="1.2" stroke-dasharray="2.6 1.6" stroke-linejoin="round"/>
<text x="251.5" y="94.4" font-size="3.6" text-anchor="middle" fill="#262626">7709</text>
<text x="292" y="94.4" font-size="3.6" text-anchor="middle" fill="#262626">7711</text>
<line x1="253.9" y1="12.1" x2="269" y2="12.1" stroke="#1e1e1e" stroke-width="1.1" stroke-dasharray="2.6 1.6"/>
<text x="271.9" y="14.48" font-size="6.8" fill="#262626">CoO</text>
<line x1="253.9" y1="20.7" x2="269" y2="20.7" stroke="#4a7dff" stroke-width="1.1" stroke-dasharray="2.6 1.6"/>
<text x="271.9" y="23.08" font-size="6.8" fill="#262626">Co foil</text>
<line x1="253.9" y1="29.5" x2="269" y2="29.5" stroke="#ff2b2b" stroke-width="1.1"/>
<text x="271.9" y="31.88" font-size="6.8" fill="#262626">Co NPs</text>
<rect x="175.5" y="6.5" width="122.5" height="90" fill="none" stroke="#2e2e2e" stroke-width="1"/>
<text x="155.8" y="131.2" font-size="17.5" fill="#111">e</text>
<line x1="175.4" y1="212.5" x2="175.4" y2="214.5" stroke="#2e2e2e" stroke-width="0.8"/>
<text x="175.4" y="220.08" font-size="6.5" text-anchor="middle" fill="#262626">0</text>
<line x1="195.75" y1="212.5" x2="195.75" y2="214.5" stroke="#2e2e2e" stroke-width="0.8"/>
<text x="195.75" y="220.08" font-size="6.5" text-anchor="middle" fill="#262626">1</text>
<line x1="216.1" y1="212.5" x2="216.1" y2="214.5" stroke="#2e2e2e" stroke-width="0.8"/>
<text x="216.1" y="220.08" font-size="6.5" text-anchor="middle" fill="#262626">2</text>
<line x1="236.45" y1="212.5" x2="236.45" y2="214.5" stroke="#2e2e2e" stroke-width="0.8"/>
<text x="236.45" y="220.08" font-size="6.5" text-anchor="middle" fill="#262626">3</text>
<line x1="256.8" y1="212.5" x2="256.8" y2="214.5" stroke="#2e2e2e" stroke-width="0.8"/>
<text x="256.8" y="220.08" font-size="6.5" text-anchor="middle" fill="#262626">4</text>
<line x1="277.15" y1="212.5" x2="277.15" y2="214.5" stroke="#2e2e2e" stroke-width="0.8"/>
<text x="277.15" y="220.08" font-size="6.5" text-anchor="middle" fill="#262626">5</text>
<line x1="297.5" y1="212.5" x2="297.5" y2="214.5" stroke="#2e2e2e" stroke-width="0.8"/>
<text x="297.5" y="220.08" font-size="6.5" text-anchor="middle" fill="#262626">6</text>
<line x1="175.5" y1="203.4" x2="177.5" y2="203.4" stroke="#2e2e2e" stroke-width="0.8"/>
<text x="174" y="205.68" font-size="6.5" text-anchor="end" fill="#262626">0.0</text>
<line x1="175.5" y1="187.1" x2="177.5" y2="187.1" stroke="#2e2e2e" stroke-width="0.8"/>
<text x="174" y="189.38" font-size="6.5" text-anchor="end" fill="#262626">1.0</text>
<line x1="175.5" y1="170.8" x2="177.5" y2="170.8" stroke="#2e2e2e" stroke-width="0.8"/>
<text x="174" y="173.08" font-size="6.5" text-anchor="end" fill="#262626">2.0</text>
<line x1="175.5" y1="154.5" x2="177.5" y2="154.5" stroke="#2e2e2e" stroke-width="0.8"/>
<text x="174" y="156.78" font-size="6.5" text-anchor="end" fill="#262626">3.0</text>
<line x1="175.5" y1="138.2" x2="177.5" y2="138.2" stroke="#2e2e2e" stroke-width="0.8"/>
<text x="174" y="140.47" font-size="6.5" text-anchor="end" fill="#262626">4.0</text>
<text x="236.7" y="229.5" font-size="8.6" text-anchor="middle" fill="#262626">R (&#197;)</text>
<text x="159" y="164.4" font-size="8.7" text-anchor="middle" fill="#262626" transform="rotate(-90 159 164.4)">|FT(k<tspan font-size="5.39" dy="-3">3</tspan><tspan dy="3">&#967;(k))| (&#197;</tspan><tspan font-size="5.39" dy="-3">-3</tspan><tspan dy="3">)</tspan></text>
<text x="219.5" y="129.3" font-size="6.6" text-anchor="middle" fill="#262626">Co-Co</text>
<path d="M176 203.4C177.17 203.25 180.6 203.13 183 202.5C185.4 201.87 188.52 200.87 190.4 199.6C192.28 198.33 192.58 196.1 194.3 194.9C196.02 193.7 198.98 192.05 200.7 192.4C202.42 192.75 203.1 196.02 204.6 197C206.1 197.98 208.2 197.45 209.7 198.3C211.2 199.15 212.32 201.88 213.6 202.1C214.88 202.32 215.9 201.22 217.4 199.6C218.9 197.98 220.67 195.07 222.6 192.4C224.53 189.73 227.08 184.33 229 183.6C230.92 182.87 232.38 185.77 234.1 188C235.82 190.23 237.58 194.73 239.3 197C241.02 199.27 242.63 201.62 244.4 201.6C246.17 201.58 247.8 197.55 249.9 196.9C252 196.25 254.9 197.62 257 197.7C259.1 197.78 260.93 197.35 262.5 197.4C264.07 197.45 264.57 198.53 266.4 198C268.23 197.47 271.67 194.52 273.5 194.2C275.33 193.88 275.97 194.73 277.4 196.1C278.83 197.47 280.27 202.35 282.1 202.4C283.93 202.45 286.43 196.45 288.4 196.4C290.37 196.35 292.38 201.08 293.9 202.1C295.42 203.12 296.9 202.43 297.5 202.5" fill="none" stroke="#1e1e1e" stroke-width="1" stroke-dasharray="2.6 1.6" stroke-linejoin="round"/>
<path d="M176 203.5C178.4 203.42 186.72 203.03 190.4 203C194.08 202.97 195.95 203.72 198.1 203.3C200.25 202.88 202 200.8 203.3 200.5C204.6 200.2 204.83 202.67 205.9 201.5C206.97 200.33 208.42 199.58 209.7 193.5C210.98 187.42 212.47 173.58 213.6 165C214.73 156.42 215.47 147.6 216.5 142C217.53 136.4 218.72 131.4 219.8 131.4C220.88 131.4 221.97 135.57 223 142C224.03 148.43 225.08 161.17 226 170C226.92 178.83 227.58 189.5 228.5 195C229.42 200.5 230.35 201.92 231.5 203C232.65 204.08 233.88 202.58 235.4 201.5C236.92 200.42 239.33 197.75 240.6 196.5C241.87 195.25 241.58 194.25 243 194C244.42 193.75 247.3 196.17 249.1 195C250.9 193.83 252.28 189.75 253.8 187C255.32 184.25 256.83 178.83 258.2 178.5C259.57 178.17 261.03 183.63 262 185C262.97 186.37 262.62 186.82 264 186.7C265.38 186.58 268.47 183.92 270.3 184.3C272.13 184.68 273.03 186.63 275 189C276.97 191.37 279.87 196.13 282.1 198.5C284.33 200.87 285.83 202.5 288.4 203.2C290.97 203.9 295.98 202.78 297.5 202.7" fill="none" stroke="#4a7dff" stroke-width="1.1" stroke-dasharray="2.6 1.6" stroke-linejoin="round"/>
<path d="M176 202.1C178.4 202.02 186.72 201.6 190.4 201.6C194.08 201.6 195.95 202.65 198.1 202.1C200.25 201.55 202 198.5 203.3 198.3C204.6 198.1 204.83 201.97 205.9 200.9C206.97 199.83 208.42 197.27 209.7 191.9C210.98 186.53 212.32 175.13 213.6 168.7C214.88 162.27 216.47 156.52 217.4 153.3C218.33 150.08 218.33 148.55 219.2 149.4C220.07 150.25 221.4 153.03 222.6 158.4C223.8 163.77 225.12 175.17 226.4 181.6C227.68 188.03 228.8 193.78 230.3 197C231.8 200.22 233.68 201.12 235.4 200.9C237.12 200.68 239.37 197.02 240.6 195.7C241.83 194.38 241.38 193.32 242.8 193C244.22 192.68 247.27 194.47 249.1 193.8C250.93 193.13 251.83 190.72 253.8 189C255.77 187.28 258.53 183.75 260.9 183.5C263.27 183.25 265.65 186.45 268 187.5C270.35 188.55 272.65 187.97 275 189.8C277.35 191.63 279.87 196.27 282.1 198.5C284.33 200.73 285.83 202.5 288.4 203.2C290.97 203.9 295.98 202.78 297.5 202.7" fill="none" stroke="#ff2b2b" stroke-width="1.1" stroke-linejoin="round"/>
<line x1="253.9" y1="128.1" x2="269" y2="128.1" stroke="#1e1e1e" stroke-width="1.1" stroke-dasharray="2.6 1.6"/>
<text x="271.9" y="130.48" font-size="6.8" fill="#262626">CoO</text>
<line x1="253.9" y1="136.7" x2="269" y2="136.7" stroke="#4a7dff" stroke-width="1.1" stroke-dasharray="2.6 1.6"/>
<text x="271.9" y="139.08" font-size="6.8" fill="#262626">Co foil</text>
<line x1="253.9" y1="145.3" x2="269" y2="145.3" stroke="#ff2b2b" stroke-width="1.1"/>
<text x="271.9" y="147.68" font-size="6.8" fill="#262626">Co NPs</text>
<rect x="175.5" y="122.5" width="122.5" height="90" fill="none" stroke="#2e2e2e" stroke-width="1"/>
<text x="157.2" y="245.8" font-size="17.5" fill="#111">f</text>
<line x1="175.4" y1="328.2" x2="175.4" y2="330.2" stroke="#2e2e2e" stroke-width="0.8"/>
<text x="175.4" y="335.88" font-size="6.5" text-anchor="middle" fill="#262626">0</text>
<line x1="199.7" y1="328.2" x2="199.7" y2="330.2" stroke="#2e2e2e" stroke-width="0.8"/>
<text x="199.7" y="335.88" font-size="6.5" text-anchor="middle" fill="#262626">2</text>
<line x1="224" y1="328.2" x2="224" y2="330.2" stroke="#2e2e2e" stroke-width="0.8"/>
<text x="224" y="335.88" font-size="6.5" text-anchor="middle" fill="#262626">4</text>
<line x1="248.3" y1="328.2" x2="248.3" y2="330.2" stroke="#2e2e2e" stroke-width="0.8"/>
<text x="248.3" y="335.88" font-size="6.5" text-anchor="middle" fill="#262626">6</text>
<line x1="272.6" y1="328.2" x2="272.6" y2="330.2" stroke="#2e2e2e" stroke-width="0.8"/>
<text x="272.6" y="335.88" font-size="6.5" text-anchor="middle" fill="#262626">8</text>
<line x1="296.9" y1="328.2" x2="296.9" y2="330.2" stroke="#2e2e2e" stroke-width="0.8"/>
<text x="296.9" y="335.88" font-size="6.5" text-anchor="middle" fill="#262626">10</text>
<line x1="175.5" y1="250.88" x2="177.5" y2="250.88" stroke="#2e2e2e" stroke-width="0.8"/>
<text x="174" y="253.16" font-size="6.5" text-anchor="end" fill="#262626">6.0</text>
<line x1="175.5" y1="269.99" x2="177.5" y2="269.99" stroke="#2e2e2e" stroke-width="0.8"/>
<text x="174" y="272.26" font-size="6.5" text-anchor="end" fill="#262626">3.0</text>
<line x1="175.5" y1="289.1" x2="177.5" y2="289.1" stroke="#2e2e2e" stroke-width="0.8"/>
<text x="174" y="291.38" font-size="6.5" text-anchor="end" fill="#262626">0.0</text>
<line x1="175.5" y1="308.21" x2="177.5" y2="308.21" stroke="#2e2e2e" stroke-width="0.8"/>
<text x="174" y="310.49" font-size="6.5" text-anchor="end" fill="#262626">-3.0</text>
<line x1="175.5" y1="327.32" x2="177.5" y2="327.32" stroke="#2e2e2e" stroke-width="0.8"/>
<text x="174" y="329.6" font-size="6.5" text-anchor="end" fill="#262626">-6.0</text>
<text x="236.7" y="346.8" font-size="9.2" text-anchor="middle" fill="#262626">&#954; (&#197;<tspan font-size="6" dy="-3.2">-1</tspan><tspan dy="3.2">)</tspan></text>
<text x="160.4" y="282.8" font-size="9" text-anchor="middle" fill="#262626" transform="rotate(-90 160.4 282.8)">&#954;<tspan font-size="5.6" dy="-3">3</tspan><tspan dy="3">&#967;(k) (&#197;</tspan><tspan font-size="5.6" dy="-3">-3</tspan><tspan dy="3">)</tspan></text>
<path d="M176 289.5C177.98 289.5 184.63 289.22 187.9 289.5C191.17 289.78 193.25 291.55 195.6 291.2C197.95 290.85 200.08 287.83 202 287.4C203.92 286.97 205.28 287.85 207.1 288.6C208.92 289.35 211.33 292.17 212.9 291.9C214.47 291.63 215.43 288.7 216.5 287C217.57 285.3 218.47 281.87 219.3 281.7C220.13 281.53 220.75 283.9 221.5 286C222.25 288.1 222.67 292.27 223.8 294.3C224.93 296.33 226.58 299.47 228.3 298.2C230.02 296.93 232.55 290.63 234.1 286.7C235.65 282.77 236.3 274.97 237.6 274.6C238.9 274.23 240.48 279.3 241.9 284.5C243.32 289.7 244.68 303.97 246.1 305.8C247.52 307.63 249.25 298.57 250.4 295.5C251.55 292.43 252 292.52 253 287.4C254 282.28 255.4 265.28 256.4 264.8C257.4 264.32 258.05 276.52 259 284.5C259.95 292.48 261.1 310.58 262.1 312.7C263.1 314.82 264.08 300.83 265 297.2C265.92 293.57 266.6 291.33 267.6 290.9C268.6 290.47 269.8 298.52 271 294.6C272.2 290.68 273.8 269.08 274.8 267.4C275.8 265.72 276.05 278.95 277 284.5C277.95 290.05 279.35 297.87 280.5 300.7C281.65 303.53 282.77 303.13 283.9 301.5C285.03 299.87 286.17 295.15 287.3 290.9C288.43 286.65 289.55 276.28 290.7 276C291.85 275.72 293.05 285.67 294.2 289.2C295.35 292.73 297.03 295.87 297.6 297.2" fill="none" stroke="#4a7dff" stroke-width="1.1" stroke-dasharray="2.6 1.6" stroke-linejoin="round"/>
<path d="M176 289.5C177.33 289.68 181.83 290.6 184 290.6C186.17 290.6 187.28 290.03 189 289.5C190.72 288.97 192.57 287.22 194.3 287.4C196.03 287.58 197.9 290.72 199.4 290.6C200.9 290.48 201.87 286.72 203.3 286.7C204.73 286.68 206.5 289.1 208 290.5C209.5 291.9 210.88 295.52 212.3 295.1C213.72 294.68 215 290.25 216.5 288C218 285.75 219.63 281.6 221.3 281.6C222.97 281.6 224.78 286.08 226.5 288C228.22 289.92 230.12 292.35 231.6 293.1C233.08 293.85 234.27 293.58 235.4 292.5C236.53 291.42 237.18 286.3 238.4 286.6C239.62 286.9 241.27 293.87 242.7 294.3C244.13 294.73 245.85 289.35 247 289.2C248.15 289.05 248.45 295.12 249.6 293.4C250.75 291.68 252.18 278.47 253.9 278.9C255.62 279.33 258.05 294.28 259.9 296C261.75 297.72 263.72 290.92 265 289.2C266.28 287.48 266.45 285.57 267.6 285.7C268.75 285.83 270.47 288.42 271.9 290C273.33 291.58 274.35 296.2 276.2 295.2C278.05 294.2 280.72 284.43 283 284C285.28 283.57 287.9 292.6 289.9 292.6C291.9 292.6 293.72 284.43 295 284C296.28 283.57 297.17 289 297.6 290" fill="none" stroke="#1e1e1e" stroke-width="1" stroke-dasharray="2.6 1.6" stroke-linejoin="round"/>
<path d="M176 289.5C177.98 289.5 184.63 289.22 187.9 289.5C191.17 289.78 193.25 291.55 195.6 291.2C197.95 290.85 200.08 287.83 202 287.4C203.92 286.97 205.28 287.85 207.1 288.6C208.92 289.35 211.33 292.17 212.9 291.9C214.47 291.63 215.43 288.5 216.5 287C217.57 285.5 218.47 283.07 219.3 282.9C220.13 282.73 220.75 284.3 221.5 286C222.25 287.7 222.67 291.27 223.8 293.1C224.93 294.93 226.58 298.07 228.3 297C230.02 295.93 232.55 290.23 234.1 286.7C235.65 283.17 236.3 275.97 237.6 275.8C238.9 275.63 240.48 280.9 241.9 285.7C243.32 290.5 244.68 303.17 246.1 304.6C247.52 306.03 249.25 297.17 250.4 294.3C251.55 291.43 252 292.12 253 287.4C254 282.68 255.4 266.28 256.4 266C257.4 265.72 258.05 278.12 259 285.7C259.95 293.28 261.1 309.78 262.1 311.5C263.1 313.22 264.08 299.43 265 296C265.92 292.57 266.6 291.33 267.6 290.9C268.6 290.47 269.8 297.12 271 293.4C272.2 289.68 273.8 269.88 274.8 268.6C275.8 267.32 276.05 280.55 277 285.7C277.95 290.85 279.35 297.07 280.5 299.5C281.65 301.93 282.77 301.73 283.9 300.3C285.03 298.87 286.17 294.75 287.3 290.9C288.43 287.05 289.55 277.48 290.7 277.2C291.85 276.92 293.05 286.07 294.2 289.2C295.35 292.33 297.03 294.87 297.6 296" fill="none" stroke="#ff2b2b" stroke-width="1.1" stroke-linejoin="round"/>
<line x1="253.9" y1="242.7" x2="269" y2="242.7" stroke="#1e1e1e" stroke-width="1.1" stroke-dasharray="2.6 1.6"/>
<text x="271.9" y="245.08" font-size="6.8" fill="#262626">CoO</text>
<line x1="253.9" y1="251.3" x2="269" y2="251.3" stroke="#4a7dff" stroke-width="1.1" stroke-dasharray="2.6 1.6"/>
<text x="271.9" y="253.68" font-size="6.8" fill="#262626">Co foil</text>
<line x1="253.9" y1="260.1" x2="269" y2="260.1" stroke="#ff2b2b" stroke-width="1.1"/>
<text x="271.9" y="262.48" font-size="6.8" fill="#262626">Co NPs</text>
<rect x="175.5" y="238" width="122.5" height="90.2" fill="none" stroke="#2e2e2e" stroke-width="1"/></svg></body></html>
